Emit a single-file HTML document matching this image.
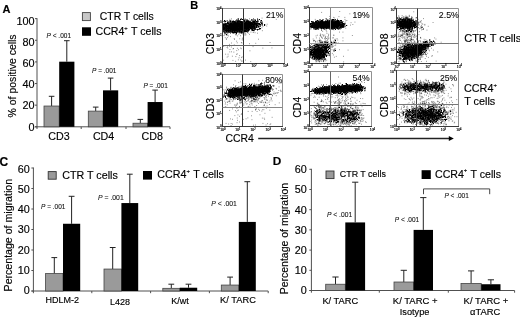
<!DOCTYPE html>
<html><head><meta charset="utf-8"><title>Figure</title>
<style>
html,body{margin:0;padding:0;background:#fff;}
body{width:520px;height:317px;overflow:hidden;}
svg{display:block;font-family:"Liberation Sans", Arial, Helvetica, sans-serif;filter:blur(0.35px);}
text{stroke:#000;stroke-width:0.15px;}
text.p{stroke-width:0.08px;}
path.dots{filter:blur(0.4px);}
</style></head><body>
<svg width="520" height="317" viewBox="0 0 520 317">
<rect x="0" y="0" width="520" height="317" fill="#fff"/>
<text x="2.6" y="12.9" font-size="11" text-anchor="start" font-weight="bold" font-style="normal" fill="#000">A</text>
<line x1="37" y1="18.150000000000006" x2="37" y2="127.3" stroke="#505050" stroke-width="1"/>
<line x1="35" y1="126.8" x2="170" y2="126.8" stroke="#505050" stroke-width="1"/>
<line x1="35" y1="126.8" x2="37" y2="126.8" stroke="#505050" stroke-width="1"/>
<text x="34.6" y="131.3" font-size="10.9" text-anchor="end" font-weight="normal" font-style="normal" fill="#000">0</text>
<line x1="35" y1="105.17" x2="37" y2="105.17" stroke="#505050" stroke-width="1"/>
<text x="34.6" y="109.4" font-size="10.9" text-anchor="end" font-weight="normal" font-style="normal" fill="#000">20</text>
<line x1="35" y1="83.54" x2="37" y2="83.54" stroke="#505050" stroke-width="1"/>
<text x="34.6" y="88.3" font-size="10.9" text-anchor="end" font-weight="normal" font-style="normal" fill="#000">40</text>
<line x1="35" y1="61.91" x2="37" y2="61.91" stroke="#505050" stroke-width="1"/>
<text x="34.6" y="66.6" font-size="10.9" text-anchor="end" font-weight="normal" font-style="normal" fill="#000">60</text>
<line x1="35" y1="40.28" x2="37" y2="40.28" stroke="#505050" stroke-width="1"/>
<text x="34.6" y="45.9" font-size="10.9" text-anchor="end" font-weight="normal" font-style="normal" fill="#000">80</text>
<line x1="35" y1="18.65" x2="37" y2="18.65" stroke="#505050" stroke-width="1"/>
<text x="34.6" y="24.5" font-size="10.9" text-anchor="end" font-weight="normal" font-style="normal" fill="#000">100</text>
<line x1="37" y1="126.8" x2="37" y2="129.0" stroke="#505050" stroke-width="1"/>
<line x1="81.2" y1="126.8" x2="81.2" y2="129.0" stroke="#505050" stroke-width="1"/>
<line x1="126" y1="126.8" x2="126" y2="129.0" stroke="#505050" stroke-width="1"/>
<line x1="170" y1="126.8" x2="170" y2="129.0" stroke="#505050" stroke-width="1"/>
<line x1="51.6" y1="96.3" x2="51.6" y2="106.0" stroke="#222" stroke-width="1"/>
<line x1="48.8" y1="96.3" x2="54.4" y2="96.3" stroke="#222" stroke-width="1"/>
<rect x="44.00" y="106.04" width="15.20" height="20.76" fill="#9a9a9a" stroke="#444" stroke-width="0.8"/>
<line x1="66.8" y1="40.7" x2="66.8" y2="61.7" stroke="#222" stroke-width="1"/>
<line x1="64.0" y1="40.7" x2="69.6" y2="40.7" stroke="#222" stroke-width="1"/>
<rect x="59.20" y="61.69" width="15.20" height="65.11" fill="#000"/>
<line x1="95.7" y1="107.1" x2="95.7" y2="111.1" stroke="#222" stroke-width="1"/>
<line x1="92.9" y1="107.1" x2="98.5" y2="107.1" stroke="#222" stroke-width="1"/>
<rect x="88.30" y="111.12" width="14.70" height="15.68" fill="#9a9a9a" stroke="#444" stroke-width="0.8"/>
<line x1="110.6" y1="78.1" x2="110.6" y2="90.4" stroke="#222" stroke-width="1"/>
<line x1="107.8" y1="78.1" x2="113.4" y2="78.1" stroke="#222" stroke-width="1"/>
<rect x="103.00" y="90.35" width="15.20" height="36.45" fill="#000"/>
<line x1="140.3" y1="119.4" x2="140.3" y2="123.2" stroke="#222" stroke-width="1"/>
<line x1="137.5" y1="119.4" x2="143.1" y2="119.4" stroke="#222" stroke-width="1"/>
<rect x="133.00" y="123.23" width="14.60" height="3.57" fill="#9a9a9a" stroke="#444" stroke-width="0.8"/>
<line x1="155.1" y1="90.1" x2="155.1" y2="102.0" stroke="#222" stroke-width="1"/>
<line x1="152.3" y1="90.1" x2="157.9" y2="90.1" stroke="#222" stroke-width="1"/>
<rect x="147.60" y="102.03" width="15.00" height="24.77" fill="#000"/>
<text x="58.9" y="139.9" font-size="10.7" text-anchor="middle" font-weight="normal" font-style="normal" fill="#000">CD3</text>
<text x="103.6" y="139.9" font-size="10.7" text-anchor="middle" font-weight="normal" font-style="normal" fill="#000">CD4</text>
<text x="152.3" y="139.9" font-size="10.7" text-anchor="middle" font-weight="normal" font-style="normal" fill="#000">CD8</text>
<text x="16.4" y="75.9" font-size="10.45" text-anchor="middle" font-weight="normal" font-style="normal" fill="#000" transform="rotate(-90 16.4 75.9)">% of positive cells</text>
<rect x="82.40" y="12.60" width="8.00" height="8.00" fill="#c8c8c8" stroke="#444" stroke-width="0.9"/>
<rect x="82.00" y="27.30" width="9.00" height="8.50" fill="#000"/>
<text x="99.8" y="20.2" font-size="10.4" text-anchor="start" font-weight="normal" font-style="normal" fill="#000">CTR T cells</text>
<text x="95.5" y="35.3" font-size="10.6" fill="#000">CCR4<tspan font-size="5.8" dy="-5.2">+</tspan><tspan dy="5.2" dx="0.6"> T cells</tspan></text>
<text class="p" x="46.6" y="38.2" font-size="6.5" text-anchor="start" fill="#111"><tspan font-style="italic">P</tspan> &lt; .001</text>
<text class="p" x="92" y="73.4" font-size="6.5" text-anchor="start" fill="#111"><tspan font-style="italic">P</tspan> = .001</text>
<text class="p" x="143.4" y="88.4" font-size="6.5" text-anchor="start" fill="#111"><tspan font-style="italic">P</tspan> = .001</text>
<text x="190.3" y="9.2" font-size="11" text-anchor="start" font-weight="bold" font-style="normal" fill="#000">B</text>
<path class="dots" d="M229.5 28h1M248 24.5h1M228.5 27h1M243.5 28.5h1M229.5 24h1M245.5 27h1M252 27.5h1M239 25.5h1M260.5 24h1M233 24h1M240.5 26.5h1M237 26h1M242 27.5h1M248.5 26h1M225 29h1M228 26.5h1M227.5 27h1M233 27h1M246.5 22.5h1M237 28h1M239 27h1M240.5 23.5h1M244 24h1M255 24h1M245 26h1M247.5 24h1M248 25.5h1M250 27h1M241 24h1M246 27h1M253 24.5h1M244 27h1M242 26.5h1M241 24.5h1M231.5 26h1M244.5 29.5h1M247.5 28h1M246 27.5h1M241 28h1M254 24.5h1M234 31.5h1M241.5 28.5h1M247 23h1M259.5 29h1M240.5 24h1M238.5 27h1M248.5 27.5h1M240 29.5h1M233.5 28.5h1M248.5 25h1M225 25h1M241.5 27.5h1M252.5 23h1M239.5 28h1M238.5 20.5h1M246 31.5h1M248 23.5h1M236 27h1M240.5 30h1M239 30.5h1M234 25.5h1M245.5 29h1M245 26.5h1M224.5 25.5h1M234.5 25.5h1M244.5 25h1M246 26h1M237 26.5h1M243 28h1M235.5 26h1M228.5 31h1M251.5 25h1M235.5 23.5h1M241 26.5h1M257.5 25.5h1M233 21h1M251 26h1M226.5 27.5h1M249 27h1M238 21h1M238.5 22.5h1M244.5 20.5h1M232 29.5h1M253 22.5h1M227 29h1M246.5 23.5h1M234 25h1M230 25.5h1M256.5 25h1M238.5 24h1M238.5 23h1M251.5 27.5h1M250.5 26h1M233.5 27h1M236.5 23.5h1M225.5 23.5h1M239.5 26.5h1M235.5 30h1M241 27.5h1M249.5 23.5h1M223.5 29h1M234 29.5h1M242.5 28.5h1M246 21h1M245.5 24h1M233.5 25.5h1M246 28h1M248 21.5h1M235 21h1M239 27.5h1M233 24.5h1M233.5 31h1M248.5 25.5h1M241.5 26.5h1M241.5 25.5h1M237 23.5h1M234.5 30.5h1M244 26h1M238 26.5h1M242.5 24.5h1M233.5 24.5h1M231.5 24h1M247 20h1M237.5 25h1M234.5 27h1M249 25.5h1M238.5 25h1M238.5 28.5h1M229 24.5h1M228 29.5h1M242.5 25.5h1M251.5 24h1M227 23.5h1M232 29h1M250 22.5h1M236.5 25h1M237 22h1M243.5 31h1M262 24h1M225.5 26h1M232 31.5h1M244.5 24h1M247.5 27h1M226.5 26h1M237.5 26.5h1M240.5 25.5h1M232 30.5h1M242.5 27h1M226.5 26.5h1M248.5 24.5h1M243 25.5h1M241.5 29h1M236.5 30h1M245.5 23h1M236.5 28.5h1M249.5 21h1M243.5 30.5h1M249.5 25h1M234.5 26h1M230 26h1M238 26h1M227.5 29.5h1M231 25.5h1M238.5 25.5h1M257.5 23.5h1M238.5 29h1M245.5 27.5h1M246.5 21h1M232.5 27h1M243.5 29h1M243.5 25.5h1M240 25.5h1M237 24.5h1M232.5 29.5h1M250 28h1M246.5 27.5h1M231 26.5h1M235 26.5h1M243 29h1M246.5 23h1M243.5 24.5h1M238.5 22h1M245.5 24.5h1M243 25h1M239.5 27.5h1M244 23.5h1M240.5 25h1M229.5 29h1M232 22h1M226 27h1M227 27h1M241 27h1M230.5 26h1M253 19h1M258.5 27h1M226 28h1M235.5 29h1M238.5 26h1M235 22h1M239 24h1M251 22.5h1M231.5 25h1M254.5 24.5h1M238.5 31.5h1M239 22h1M243 23.5h1M235 22.5h1M234.5 29h1M247.5 26h1M232 24h1M242 32h1M236 24.5h1M234 24h1M231.5 26.5h1M251.5 25.5h1M235.5 22.5h1M241.5 26h1M229.5 24.5h1M239.5 28.5h1M244.5 26.5h1M237 27h1M239.5 31.5h1M250 25h1M241 25h1M228.5 24.5h1M258 26.5h1M244.5 28h1M244.5 28.5h1M237.5 26h1M247.5 25h1M228.5 26.5h1M235 28h1M233.5 24h1M237 30h1M239 26.5h1M239.5 27h1M247 29h1M226 30.5h1M239.5 25.5h1M259.5 24.5h1M255.5 27.5h1M231 28h1M245.5 25.5h1M222.5 26.5h1M238 23.5h1M236.5 25.5h1M233 25h1M240.5 27h1M235.5 26.5h1M228 28h1M232 25.5h1M241.5 23h1M260 24.5h1M239 24.5h1M252.5 28.5h1M242 22.5h1M235.5 28h1M230 25h1M239.5 24.5h1M239.5 33h1M254 22.5h1M242.5 26h1M237 25.5h1M236.5 26h1M250 27.5h1M228.5 26h1M233 28.5h1M241.5 28h1M239 21.5h1M243.5 26.5h1M244 23h1M240.5 24.5h1M234 27.5h1M242.5 24h1M225.5 21h1M235 29h1M239 21h1M232.5 27.5h1M253.5 28h1M242.5 26.5h1M240 25h1M242.5 29.5h1M237.5 22.5h1M238.5 27.5h1M231.5 30h1M237 27.5h1M256.5 22h1M247 24.5h1M242 24h1M236 28.5h1M255.5 23h1M234.5 28.5h1M233 28h1M242.5 23h1M245 23h1M246 29.5h1M244.5 24.5h1M249.5 26h1M229.5 26h1M251 24.5h1M226 26h1M249.5 27h1M248 28.5h1M236 25h1M242 30h1M226 26.5h1M233.5 28h1M251.5 24.5h1M229.5 27h1M245 22.5h1M248.5 22h1M248 21h1M227 26.5h1M242.5 23.5h1M235.5 27h1M238 19h1M236 27.5h1M242 28.5h1M234 32.5h1M246 26.5h1M248.5 28h1M248 26.5h1M224 24.5h1M243.5 26h1M241 30h1M235 25.5h1M242 28h1M235.5 29.5h1M243.5 23.5h1M246 24.5h1M223 26h1M234 27h1M258.5 26.5h1M230 26.5h1M236 33.5h1M229.5 30h1M237 23h1M242 27h1M248 29h1M255 25h1M245.5 26.5h1M239 25h1M230.5 27h1M250 24.5h1M244 24.5h1M241.5 23.5h1M242 24.5h1M248 29.5h1M237 28.5h1M227 28h1M231.5 29.5h1M223 29h1M245.5 22.5h1M238 24.5h1M241.5 24.5h1M234.5 25h1M232.5 29h1M237.5 28.5h1M230 29h1M249.5 24.5h1M241.5 25h1M234 23h1M244.5 27h1M228 27h1M241 21.5h1M234 28h1M238.5 26.5h1M247 26h1M233 29.5h1M225 27h1M244.5 23h1M248 24h1M234 29h1M249.5 25.5h1M236 22h1M246 31h1M236 25.5h1M228.5 25.5h1M230.5 31.5h1M255.5 29.5h1M251.5 29.5h1M233.5 26h1M261 20.5h1M250.5 28.5h1M235.5 31.5h1M244.5 26h1M259 24.5h1M233 23h1M231.5 29h1M240 26h1M244.5 27.5h1M235 26h1M233 26.5h1M233 26h1M250.5 24.5h1M231.5 27h1M230.5 24.5h1M240.5 22h1M222.5 28.5h1M232 28h1M223.5 25h1M229.5 26.5h1M223.5 29.5h1M237 21.5h1M239.5 24h1M251.5 26.5h1M233.5 26.5h1M240 27h1M257.5 21.5h1M231.5 22.5h1M226.5 29h1M251.5 28h1M247 28h1M240 28h1M251.5 22.5h1M257 26h1M236 29h1M260 22h1M234.5 32h1M244 25h1M243.5 24h1M259 19.5h1M245.5 30.5h1M233 21.5h1M236.5 26.5h1M232 23h1M231 29.5h1M240.5 28h1M250.5 24h1M237.5 29.5h1M259.5 28.5h1M230 28h1M239.5 30.5h1M240 24.5h1M246.5 30.5h1M226.5 28h1M225.5 31h1M234.5 26.5h1M224 27h1M235.5 24h1M244.5 25.5h1M226.5 28.5h1M243 22h1M240.5 29h1M229 25h1M224.5 25h1M249 26h1M231.5 28h1M238.5 30.5h1M230.5 25.5h1M244 27.5h1M246.5 26.5h1M232.5 24.5h1M238.5 29.5h1M252.5 27.5h1M242.5 27.5h1M246.5 29h1M246.5 22h1M247.5 26.5h1M242 26h1M226 27.5h1M245.5 26h1M236.5 27h1M234 26h1M222.5 29h1M234.5 28h1M251 25h1M238 25.5h1M232.5 30h1M247 23.5h1M246.5 24h1M227.5 30h1M229 30h1M241 28.5h1M244 28.5h1M236.5 29h1M252 25h1M243 24.5h1M225 30.5h1M236.5 27.5h1M246.5 25h1M241 22.5h1M241 26h1M254.5 27.5h1M233 30.5h1M235 27.5h1M237.5 23h1M243 27.5h1M226 25.5h1M246.5 25.5h1M231 22h1M242 29.5h1M229.5 21.5h1M247 26.5h1M232 28.5h1M235 28.5h1M246 28.5h1M248.5 26.5h1M231.5 25.5h1M236.5 28h1M238.5 30h1M243 28.5h1M224.5 23.5h1M253 24h1M231.5 24.5h1M232.5 28h1M237 31h1M244 25.5h1M237 25h1M250 25.5h1M225 25.5h1M247 25.5h1M230 31h1M234.5 30h1M235.5 23h1M254.5 24h1M229 27h1M239.5 23h1M237.5 27.5h1M241 23.5h1M239.5 29h1M242 23.5h1M238.5 24.5h1M238 24h1M248 22h1M236.5 23h1M247 22h1M245 27.5h1M240 26.5h1M223 24.5h1M236.5 24h1M252 26.5h1M244.5 21.5h1M238 28.5h1M247.5 25.5h1M236 23.5h1M241.5 27h1M245.5 25h1M235 25h1M241 29h1M245 24.5h1M244 26.5h1M244.5 30.5h1M231 27h1M249.5 26.5h1M236.5 32h1M257 19h1M231 30h1M225 26.5h1M246 22h1M231.5 23h1M239 23h1M243 27h1M223.5 26h1M233.5 30h1M258.5 29.5h1M223 30h1M238 25h1M238 30h1M242.5 28h1M251.5 28.5h1M235.5 24.5h1M231 25h1M233.5 25h1M230.5 25h1M222.5 29.5h1M237.5 19h1M226 30h1M257 30h1M246 23h1M254 23.5h1M248.5 23h1M230 27.5h1M240.5 30.5h1M248 22.5h1M222.5 26h1M250 22h1M243.5 27h1M226.5 23.5h1M242.5 29h1M249 23h1M243.5 29.5h1M236 28h1M246.5 28.5h1M226 29h1M223 27.5h1M240.5 29.5h1M236 31h1M236 30h1M233 27.5h1M246.5 21.5h1M254 28h1M230.5 29.5h1M255.5 21.5h1M232 27h1M234.5 23.5h1M261.5 23.5h1M244.5 33h1M239.5 25h1M230 24h1M238 22h1M256 25.5h1M256 23.5h1M250.5 28h1M237.5 27h1M231 26h1M242 25h1M242.5 25h1M230 28.5h1M253.5 20.5h1M245 28.5h1M233 32.5h1M229.5 23h1M253.5 28.5h1M230 23h1M254.5 26.5h1M249 26.5h1M239.5 23.5h1M248 26h1M240.5 26h1M223 24h1M243 26.5h1M245 24h1M260 28.5h1M243 24h1M233.5 30.5h1M242.5 22.5h1M252.5 26.5h1M250.5 26.5h1M223 25.5h1M252 23.5h1M239 26h1M229.5 20.5h1M231.5 27.5h1M251 28.5h1M234.5 24h1M232 32.5h1M223.5 25.5h1M224.5 26h1M251.5 29h1M228.5 29.5h1M243.5 28h1M237.5 24.5h1M253.5 27h1M230 29.5h1M229 28.5h1M247 24h1M234 31h1M252 26h1M240.5 23h1M254.5 22h1M236.5 24.5h1M252 24h1M235.5 31h1M238 28h1M238.5 28h1M238 29h1M238.5 23.5h1M229.5 22.5h1M258 27h1M230 30h1M232.5 26h1M254.5 29h1M236 26h1M250 26h1M248.5 22.5h1M232 26.5h1M234 26.5h1M237 24h1M233 30h1M260.5 22.5h1M251.5 21h1M231 24.5h1M222.5 27h1M253.5 21h1M229 26.5h1M245.5 19.5h1M235.5 28.5h1M253.5 25.5h1M239 29.5h1M232.5 26.5h1M241.5 31h1M239 29h1M239 31h1M238 23h1M242 23h1M222.5 31.5h1M261 21h1M228.5 25h1M224.5 28h1M243.5 25h1M244 30.5h1M258 23.5h1M229.5 31.5h1M247.5 28.5h1M249.5 23h1M248 25h1M237 32h1M238 27h1M247 27.5h1M243.5 27.5h1M229 28h1M245 23.5h1M247 31h1M246 29h1M242.5 30h1M246.5 26h1M228.5 27.5h1M247.5 23.5h1M230.5 28.5h1M254.5 23.5h1M246 25h1M233.5 29h1M228 27.5h1M246 25.5h1M239 31.5h1M230 27h1M257.5 24h1M234 22.5h1M240.5 31.5h1M231.5 30.5h1M225.5 24h1M251 27h1M257.5 29.5h1M241 19h1M249 22.5h1M243.5 21h1M231.5 23.5h1M244 29h1M232 21.5h1M253.5 24.5h1M255.5 26h1M240 28.5h1M228 28.5h1M227.5 22.5h1M245.5 28h1M223 28.5h1M227.5 25.5h1M235 23.5h1M236 26.5h1M230 33h1M242.5 30.5h1M237.5 24h1M234 28.5h1M235 30.5h1M230.5 27.5h1M246 24h1M227 30.5h1M236.5 20.5h1M233 23.5h1M228.5 28.5h1M241.5 30h1M223.5 32h1M245.5 31h1M231 29h1M236.5 22.5h1M239.5 30h1M238 29.5h1M245.5 28.5h1M249 23.5h1M236 30.5h1M232.5 25h1M223 26.5h1M222.5 25h1M235 23h1M253 21.5h1M243.5 22h1M225.5 28.5h1M229.5 25.5h1M241.5 29.5h1M252 30.5h1M225.5 29h1M250 23.5h1M252 22h1M240.5 28.5h1M254 27h1M229 26h1M225.5 32.5h1M226.5 24.5h1M233.5 23.5h1M237 29.5h1M250 23h1M236 24h1M244 21h1M243 23h1M234.5 23h1M231.5 28.5h1M253 23h1M246 23.5h1M243 26h1M227 28.5h1M252 27h1M229 32h1M235.5 25h1M254 26h1M224 28.5h1M232 26h1M223 28h1M250.5 23.5h1M237.5 23.5h1M224.5 24.5h1M225.5 27h1M254 27.5h1M224 28h1M240.5 22.5h1M254 26.5h1M235.5 25.5h1M239.5 22h1M234 21.5h1M257 29.5h1M238.5 21.5h1M256.5 23.5h1M255.5 25h1M228 22h1M245 28h1M234.5 29.5h1M254.5 19.5h1M239 28.5h1M235.5 34h1M237.5 25.5h1M233.5 27.5h1M239 23.5h1M244 20h1M230 21.5h1M224 26h1M227.5 24.5h1M233.5 23h1M225.5 25h1M230 21h1M236.5 30.5h1M230 24.5h1M254 25h1M237.5 29h1M228 30.5h1M248.5 29h1M234.5 24.5h1M251.5 23h1M232 25h1M256 27.5h1M234 30h1M255 23.5h1M235 24.5h1M250.5 25h1M248.5 28.5h1M241 23h1M255 20.5h1M232.5 22.5h1M230.5 29h1M247 28.5h1M242 31h1M230 23.5h1M226.5 32h1M228 31h1M250 28.5h1M248.5 27h1M250.5 25.5h1M256 21.5h1M240 22.5h1M225.5 28h1M243.5 21.5h1M264 24.5h1M240 21.5h1M245 25h1M237 22.5h1M227.5 28h1M247 27h1M246.5 28h1M241 22h1M246.5 20.5h1M245 25.5h1M246 22.5h1M244.5 31h1M241 25.5h1M240 30h1M231 28.5h1M224.5 26.5h1M225 24h1M225.5 31.5h1M233.5 31.5h1M238 21.5h1M249 24.5h1M254 21.5h1M257.5 23h1M243 29.5h1M261 23.5h1M227.5 26.5h1M253 30.5h1M259 23.5h1M253.5 23h1M222.5 28h1M234 23.5h1M235 24h1M234.5 27.5h1M228.5 29h1M224.5 33.5h1M227.5 32.5h1M237 29h1M245 22h1M239.5 21.5h1M253.5 25h1M254 30h1M250.5 27h1M239 28h1M236 29.5h1M260.5 20.5h1M249 27.5h1M255.5 27h1M260.5 25h1M240 19.5h1M226 31.5h1M233.5 22.5h1M251.5 30.5h1M255.5 22.5h1M227.5 31h1M256 26.5h1M250.5 27.5h1M253.5 29h1M249.5 21.5h1M224 32h1M256 26h1M247.5 22h1M224.5 29.5h1M253.5 21.5h1M232.5 24h1M251 23.5h1M228 32h1M251 28h1M253.5 23.5h1M251.5 19.5h1M224.5 24h1M232 24.5h1M254.5 21.5h1M236.5 29.5h1M230.5 26.5h1M222.5 24h1M247.5 31h1M249 25h1M251 25.5h1M222.5 27.5h1M253.5 27.5h1M262 25h1M224 29h1M247.5 27.5h1M229.5 27.5h1M230.5 32h1M251 26.5h1M244 21.5h1M241.5 32.5h1M239 30h1M238 31h1M232 27.5h1M252.5 24h1M224 27.5h1M240 27.5h1M228 25h1M235.5 32h1M240.5 27.5h1M257.5 26h1M253 25.5h1M257 20h1M234 22h1M230.5 24h1M241.5 21.5h1M236 20h1M231 27.5h1M257.5 21h1M241.5 24h1M256.5 25.5h1M251 24h1M224.5 27.5h1M222.5 30h1M243.5 30h1M228.5 23.5h1M233 29h1M225 30h1M230.5 30.5h1M240.5 32h1M244 28h1M222.5 30.5h1M247.5 24.5h1M254.5 26h1M228 30h1M256.5 27.5h1M227 26h1M245 29h1M260 26h1M230.5 28h1M242.5 19.5h1M227 25.5h1M229.5 22h1M248 31h1M235 27h1M239.5 32h1M251.5 27h1M249.5 28h1M246.5 27h1M239.5 26h1M257 24h1M237 31.5h1M224.5 23h1M253 26.5h1M235 31h1M256.5 23h1M254.5 28.5h1M232.5 25.5h1M228 31.5h1M244.5 23.5h1M249.5 22.5h1M255 23h1M243.5 23h1M229.5 25h1M231.5 21h1M256 24.5h1M232.5 23h1M247.5 20.5h1M225 24.5h1M252.5 24.5h1M233 25.5h1M241.5 22h1M227 22.5h1M227.5 23h1M229 30.5h1M257 22h1M228 26h1M226 29.5h1M229 27.5h1M251 29h1M247 30h1M252.5 25h1M223.5 27.5h1M254.5 25h1M241 33h1M245 31.5h1M227 30h1M247 25h1M243 22.5h1M234 30.5h1M243.5 20.5h1M257 25.5h1M228 23.5h1M240.5 19h1M229.5 32h1M234 24.5h1M224.5 30h1M235.5 30.5h1M248 27.5h1M225.5 24.5h1M223.5 31.5h1M241 29.5h1M227 31h1M225 28h1M224.5 32.5h1M254 29h1M257.5 24.5h1M237.5 20.5h1M257 21h1M256 25h1M249 30h1M243 30.5h1M235 29.5h1M248 27h1M252 24.5h1M230.5 30h1M223 29.5h1M243 21.5h1M232.5 28.5h1M239.5 29.5h1M229 25.5h1M237.5 31.5h1M249 22h1M247.5 30.5h1M227 23h1M229.5 29.5h1M237.5 28h1M247.5 23h1M231 23.5h1M240 21h1M242 25.5h1M229 24h1M252 29.5h1M240 32h1M244 31.5h1M245 27h1M252.5 22.5h1M242 19.5h1M229.5 31h1M242 29h1M226 24h1M249 24h1M232.5 33h1M251.5 26h1M254.5 28h1M252 21h1M225.5 26.5h1M237.5 20h1M231.5 31.5h1M259 25h1M226 31h1M247 21.5h1M261.5 22.5h1M249 29.5h1M227.5 30.5h1M252.5 28h1M224 30h1M232 30h1M247.5 22.5h1M224.5 28.5h1M249.5 29h1M224.5 30.5h1M230 30.5h1M248 30.5h1M244.5 29h1M242 22h1M241.5 22.5h1M226.5 27h1M248.5 21.5h1M253 29h1M245.5 29.5h1M250 24h1M254 24h1M244.5 22.5h1M235.5 21.5h1M225.5 27.5h1M231 24h1M238.5 32.5h1M246.5 29.5h1M245 30.5h1M230.5 31h1M241 32.5h1M246 21.5h1M259 28.5h1M241 31.5h1M226.5 33h1M224.5 29h1M264 25.5h1M236 32.5h1M237.5 30.5h1M258.5 24.5h1M241.5 32h1M226 34.5h1M235 30h1M232.5 31.5h1M251 20h1M227 21h1M247.5 29.5h1M227.5 31.5h1M249 28h1M240 23h1M223.5 21.5h1M243.5 32h1M247.5 21.5h1M224 21h1M224.5 31h1M224 20.5h1M230.5 23.5h1M231 32h1M252 28h1M247 32h1M227.5 29h1M255 29h1M253 27h1M228.5 28h1M225 21.5h1M235 32.5h1M237.5 30h1M233.5 33h1" stroke="#000" stroke-width="1" fill="none"/>
<path class="dots" d="M237.9 59.8h.9M226.7 57.1h.9M236.9 48.3h.9M231.9 56.2h.9M232.5 60.4h.9M241.5 43.0h.9M233.8 44.9h.9M241.0 57.6h.9M231.0 43.0h.9M229.3 51.9h.9M236.3 50.6h.9M233.4 52.1h.9M223.1 46.4h.9M236.9 53.9h.9M239.3 38.8h.9M241.5 61.1h.9M235.4 56.6h.9M226.9 37.6h.9M227.3 48.0h.9M240.9 42.5h.9M241.7 56.9h.9M223.9 32.9h.9M243.0 47.0h.9M238.6 57.8h.9M229.1 32.5h.9M240.3 59.9h.9M231.0 51.8h.9M223.2 60.2h.9M235.2 61.3h.9M236.8 42.8h.9M226.6 47.4h.9M240.3 48.0h.9M233.8 38.6h.9M225.9 39.1h.9M229.1 46.2h.9M241.8 40.1h.9M227.6 54.2h.9M241.8 39.1h.9M229.0 44.4h.9M224.2 34.8h.9M234.0 39.4h.9M227.7 56.2h.9M232.6 48.9h.9M236.1 54.3h.9M241.4 61.1h.9M225.2 54.2h.9M223.5 35.6h.9M228.1 35.9h.9M226.0 39.0h.9M239.2 55.6h.9M233.0 48.5h.9M238.0 49.7h.9M224.5 45.8h.9M227.1 46.1h.9M242.6 37.9h.9M229.5 49.5h.9M236.2 41.2h.9M230.9 47.0h.9M241.6 33.5h.9M240.8 48.7h.9M269.6 42.5h.9M261.9 30.7h.9M249.5 50.8h.9M252.6 46.6h.9M271.5 47.9h.9M262.4 48.1h.9M250.3 61.6h.9M254.0 30.8h.9M255.3 43.3h.9M249.0 43.7h.9M245.1 60.1h.9M258.1 39.2h.9M225.8 31.4h.9M224.8 37.7h.9M237.3 26.9h.9M242.5 38.3h.9M250.5 32.1h.9M242.3 33.9h.9M247.8 33.1h.9M245.2 29.0h.9M230.8 28.7h.9M234.7 28.0h.9M237.4 30.8h.9M224.9 34.0h.9M245.3 35.1h.9M238.9 32.1h.9M234.7 26.7h.9M252.0 26.3h.9M229.0 28.9h.9M227.5 33.7h.9M230.2 30.8h.9M239.0 28.2h.9M227.2 34.9h.9M232.1 25.6h.9M241.0 27.2h.9M236.0 33.1h.9M238.4 34.2h.9M232.8 32.9h.9M230.1 36.6h.9M235.6 35.1h.9M232.4 32.0h.9M240.0 35.7h.9M233.0 22.0h.9M237.2 35.9h.9M246.4 32.0h.9M244.7 18.6h.9M232.8 30.5h.9M252.8 32.0h.9M257.0 33.2h.9M266.7 24.2h.9M260.0 26.3h.9M226.4 35.5h.9M245.4 34.2h.9M264.9 24.9h.9M266.3 26.0h.9M262.1 21.7h.9M261.5 27.8h.9M231.0 18.9h.9M258.1 19.9h.9M249.1 18.8h.9M275.8 19.3h.9M262.5 26.4h.9M235.6 34.2h.9M249.0 34.4h.9M229.4 19.3h.9M261.6 18.1h.9M244.2 34.9h.9M252.8 32.4h.9M254.6 32.7h.9" stroke="#000" stroke-width="0.9" stroke-opacity="0.5" fill="none"/>
<line x1="222.5" y1="8.5" x2="284.5" y2="8.5" stroke="#909090" stroke-width="1"/>
<line x1="284.5" y1="8.5" x2="284.5" y2="63.5" stroke="#909090" stroke-width="1"/>
<line x1="222.5" y1="8.0" x2="222.5" y2="64.0" stroke="#3a3a3a" stroke-width="1"/>
<line x1="222.5" y1="63.5" x2="285.0" y2="63.5" stroke="#3a3a3a" stroke-width="1"/>
<line x1="243.5" y1="8.5" x2="243.5" y2="63.5" stroke="#333" stroke-width="1"/>
<line x1="222.5" y1="45.5" x2="284.5" y2="45.5" stroke="#666" stroke-width="1"/>
<text x="220.2" y="67.4" font-size="3.4" fill="#000">10<tspan font-size="2.6" dy="-1.2">0</tspan></text>
<line x1="220.9" y1="63.1" x2="222.5" y2="63.1" stroke="#444" stroke-width="0.6"/>
<text x="216.2" y="64.8" font-size="3.4" fill="#000">10<tspan font-size="2.6" dy="-1.2">0</tspan></text>
<text x="235.8" y="67.4" font-size="3.4" fill="#000">10<tspan font-size="2.6" dy="-1.2">1</tspan></text>
<line x1="220.9" y1="49.4" x2="222.5" y2="49.4" stroke="#444" stroke-width="0.6"/>
<text x="216.2" y="51.1" font-size="3.4" fill="#000">10<tspan font-size="2.6" dy="-1.2">1</tspan></text>
<text x="251.5" y="67.4" font-size="3.4" fill="#000">10<tspan font-size="2.6" dy="-1.2">2</tspan></text>
<line x1="220.9" y1="35.7" x2="222.5" y2="35.7" stroke="#444" stroke-width="0.6"/>
<text x="216.2" y="37.4" font-size="3.4" fill="#000">10<tspan font-size="2.6" dy="-1.2">2</tspan></text>
<text x="267.2" y="67.4" font-size="3.4" fill="#000">10<tspan font-size="2.6" dy="-1.2">3</tspan></text>
<line x1="220.9" y1="22.0" x2="222.5" y2="22.0" stroke="#444" stroke-width="0.6"/>
<text x="216.2" y="23.7" font-size="3.4" fill="#000">10<tspan font-size="2.6" dy="-1.2">3</tspan></text>
<text x="282.9" y="67.4" font-size="3.4" fill="#000">10<tspan font-size="2.6" dy="-1.2">4</tspan></text>
<line x1="220.9" y1="8.3" x2="222.5" y2="8.3" stroke="#444" stroke-width="0.6"/>
<text x="216.2" y="10.0" font-size="3.4" fill="#000">10<tspan font-size="2.6" dy="-1.2">4</tspan></text>
<text x="283.3" y="18.0" font-size="8.6" text-anchor="end" font-weight="normal" font-style="normal" fill="#000" class="p">21%</text>
<text x="213.8" y="43.7" font-size="10.5" text-anchor="middle" font-weight="normal" font-style="normal" fill="#000" transform="rotate(-90 213.8 43.7)">CD3</text>
<path class="dots" d="M246.5 91.5h1M235.5 92.5h1M229.5 95h1M239 90.5h1M250 89.5h1M262.5 88.5h1M253.5 92.5h1M252.5 91.5h1M250.5 90.5h1M250.5 88.5h1M257 91h1M259 89h1M254 89.5h1M237.5 93.5h1M268 89.5h1M238.5 89.5h1M243.5 93.5h1M256 88h1M255.5 91h1M263.5 91.5h1M270 88.5h1M263.5 93h1M262 94h1M263.5 87.5h1M234.5 95.5h1M234 95.5h1M259.5 91.5h1M258.5 90h1M243 93h1M252.5 89.5h1M256 89h1M249 91.5h1M248 88h1M266 88.5h1M258 92.5h1M266 90h1M230.5 91h1M252 93h1M240 94h1M270.5 87.5h1M257.5 90.5h1M248.5 90.5h1M230 92.5h1M260 91h1M262 89.5h1M258.5 93h1M247.5 91.5h1M244 94h1M258 89.5h1M261.5 91.5h1M249.5 87h1M240.5 92h1M265.5 91.5h1M242 93.5h1M257 89.5h1M253.5 88.5h1M230.5 92h1M248 90.5h1M251 89.5h1M249 92h1M241.5 91h1M251 87.5h1M256.5 92h1M245.5 93h1M230 95.5h1M241.5 91.5h1M233 93.5h1M262.5 87.5h1M237 92.5h1M247 91.5h1M242 91.5h1M245.5 91.5h1M240 91h1M244.5 91.5h1M241.5 92.5h1M248.5 93.5h1M239 92.5h1M260.5 90.5h1M247 89h1M246.5 91h1M264 88h1M262.5 91.5h1M239 91.5h1M250 91.5h1M234.5 90.5h1M248 90h1M234 94.5h1M255 91h1M258.5 92h1M253.5 90h1M240 90.5h1M250 92.5h1M264.5 90h1M248.5 89h1M255 88h1M234 92h1M225 93.5h1M247.5 88.5h1M226 92h1M253 94.5h1M258 88.5h1M249.5 91.5h1M242 91h1M266 91h1M251.5 93.5h1M232 92h1M264.5 87h1M259 92.5h1M232 89.5h1M254.5 90h1M264 90h1M232.5 91.5h1M261.5 90h1M229 95h1M247.5 91h1M231 91.5h1M259 88.5h1M258 91.5h1M254 90h1M237.5 91h1M242 98h1M243.5 92h1M264.5 91.5h1M238.5 92.5h1M244.5 91h1M242 90.5h1M261.5 89h1M231.5 89.5h1M259 89.5h1M253.5 89.5h1M259.5 92h1M258 87h1M263 91.5h1M248.5 91.5h1M245 91h1M264.5 88h1M264.5 89.5h1M245.5 94.5h1M249 90h1M261.5 89.5h1M244 96h1M253.5 91h1M236.5 93h1M257.5 91.5h1M231.5 97h1M246 92.5h1M235 95.5h1M252 94.5h1M261 95.5h1M237.5 94.5h1M249 90.5h1M259 92h1M256 89.5h1M241.5 92h1M250 90.5h1M244.5 93h1M260.5 91h1M262.5 92h1M257 90h1M251 93.5h1M260.5 87h1M255 89.5h1M232.5 93h1M265.5 90h1M258.5 89h1M263 91h1M243 88h1M229.5 92h1M265 88.5h1M233.5 92.5h1M244 91.5h1M236.5 90.5h1M262.5 92.5h1M249.5 91h1M235.5 94h1M245 90h1M233 90h1M245 93h1M253.5 91.5h1M240 89h1M251 92.5h1M234 92.5h1M233 94.5h1M250 92h1M268 88.5h1M253 90.5h1M254.5 91h1M263 90h1M261.5 91h1M265.5 89h1M232 97h1M250.5 91.5h1M268.5 89h1M243 90.5h1M249 89h1M236 90h1M243 91.5h1M256.5 91.5h1M256 95.5h1M241.5 90.5h1M240.5 89h1M249.5 92h1M251 90h1M239 94h1M238.5 91.5h1M246.5 90h1M233 95.5h1M239.5 92h1M242.5 93h1M254.5 94.5h1M252 92h1M242 93h1M258 89h1M236.5 91h1M251 91h1M246.5 92.5h1M240.5 93.5h1M241 91h1M242 90h1M236.5 91.5h1M257.5 90h1M258.5 88.5h1M265.5 91h1M263 89h1M243.5 90h1M256 87.5h1M259 93h1M259.5 89h1M254 93h1M238.5 91h1M249 91h1M234.5 89.5h1M262 92.5h1M235.5 95.5h1M235 92.5h1M240 93h1M232 94h1M232 93.5h1M259 91.5h1M232.5 88h1M257.5 91h1M236.5 92h1M259 86.5h1M244 92.5h1M251.5 91h1M247.5 89h1M238.5 93h1M256 91.5h1M247.5 94.5h1M234 91h1M263 88.5h1M233.5 91h1M268.5 88h1M262 88h1M243.5 90.5h1M231.5 91h1M234.5 91.5h1M238 93.5h1M249 92.5h1M265 89.5h1M256.5 89.5h1M265 88h1M250.5 92.5h1M250 88.5h1M230 94h1M264.5 88.5h1M246.5 89h1M236 91.5h1M228.5 91h1M254 92h1M244.5 94h1M256.5 91h1M264 88.5h1M254.5 89.5h1M249.5 92.5h1M238.5 93.5h1M247 88.5h1M255 90h1M236 92.5h1M232.5 95h1M240 91.5h1M242.5 88.5h1M229.5 94.5h1M231 95.5h1M261.5 88.5h1M244 86.5h1M246 89.5h1M239.5 91.5h1M247.5 90h1M245 93.5h1M257 88h1M264.5 90.5h1M255.5 89h1M262.5 89.5h1M254 93.5h1M260 89h1M266 87h1M230 90h1M240.5 90.5h1M236.5 94.5h1M230 90.5h1M235 96h1M231 89.5h1M253 93.5h1M262 89h1M256.5 88h1M254 90.5h1M248 92.5h1M255 89h1M236 93h1M235 94h1M267.5 90.5h1M233.5 92h1M232.5 92.5h1M253.5 90.5h1M266.5 87h1M264 90.5h1M248.5 90h1M233.5 89h1M245 88.5h1M246 89h1M235 91.5h1M242.5 92h1M266.5 90h1M243.5 91.5h1M234.5 92.5h1M264 87h1M253 92h1M245.5 89.5h1M252.5 93h1M236 94.5h1M264 91h1M260.5 90h1M237.5 92.5h1M260.5 91.5h1M267 90h1M243 89h1M269.5 88.5h1M263.5 89h1M248.5 95.5h1M262 91.5h1M232 92.5h1M265.5 87.5h1M247 90.5h1M242 92h1M251 91.5h1M250 93.5h1M241 89.5h1M228 96h1M264.5 87.5h1M263 90.5h1M234 93.5h1M258 91h1M247 93.5h1M238 90h1M240.5 94.5h1M244 92h1M252.5 92h1M232.5 90h1M229 90.5h1M237 92h1M236 92h1M257 89h1M245 92.5h1M257 90.5h1M241.5 94h1M245 95h1M240 94.5h1M242 92.5h1M241 90.5h1M262 87.5h1M243.5 93h1M264.5 91h1M245 96h1M262.5 91h1M254.5 92.5h1M247 91h1M266 88h1M247 92.5h1M231 90h1M266.5 90.5h1M235.5 94.5h1M257.5 94.5h1M245 91.5h1M261 87h1M233.5 94h1M248.5 95h1M236 93.5h1M241 90h1M257.5 93h1M265 92h1M263 93.5h1M266.5 88h1M228.5 91.5h1M242.5 91h1M250 94h1M252.5 94.5h1M242 94h1M250 87.5h1M236 91h1M244.5 92.5h1M248.5 91h1M260.5 88.5h1M235 94.5h1M229 91.5h1M238 92.5h1M249 94.5h1M238 92h1M249.5 89h1M260 90h1M238 94.5h1M257 88.5h1M260 86h1M262 91h1M260 89.5h1M239 91h1M261 91.5h1M257.5 88h1M254 91h1M226 91h1M233.5 90h1M258 90.5h1M236 90.5h1M254 89h1M252.5 91h1M244.5 89.5h1M265 86h1M246.5 94h1M238 89.5h1M230.5 94h1M231.5 93h1M265 90.5h1M239 93h1M254.5 95.5h1M241.5 90h1M229.5 93h1M259.5 90.5h1M241.5 95.5h1M258.5 91.5h1M250.5 93h1M234.5 93h1M255 90.5h1M268 88h1M235.5 89.5h1M264 89.5h1M241.5 89h1M262 90.5h1M267 89h1M236.5 90h1M231 92.5h1M235.5 90h1M229.5 91h1M270 87h1M263 87.5h1M261.5 85.5h1M243.5 88h1M251.5 90h1M255 88.5h1M245.5 90.5h1M242.5 92.5h1M240 89.5h1M246.5 93h1M241.5 95h1M269.5 91.5h1M260.5 89.5h1M254.5 88.5h1M265.5 88.5h1M264.5 89h1M250.5 92h1M230 94.5h1M261.5 90.5h1M265 91.5h1M256.5 93h1M263.5 86h1M240.5 88h1M249 87.5h1M233 96h1M248 93h1M233 92h1M257.5 93.5h1M252 94h1M248 92h1M267 89.5h1M244.5 92h1M253 90h1M248 87.5h1M248 94h1M261 87.5h1M256.5 90.5h1M241 92.5h1M236.5 93.5h1M263 89.5h1M241 93h1M252.5 90.5h1M243.5 94h1M265.5 90.5h1M246 92h1M248.5 93h1M238.5 95h1M263 88h1M252.5 92.5h1M235 91h1M237.5 92h1M251 92h1M252.5 89h1M252 93.5h1M268 92h1M260 90.5h1M257 93.5h1M249 88h1M246 90h1M229 93h1M237.5 91.5h1M233.5 94.5h1M228.5 94.5h1M231 93.5h1M258 95.5h1M236.5 95h1M235.5 90.5h1M256 92.5h1M234.5 94h1M254 87.5h1M242.5 94h1M248.5 89.5h1M249.5 94h1M227 94h1M230 97.5h1M240 88.5h1M228 93.5h1M229 92h1M268 89h1M245.5 86.5h1M243.5 89h1M231 94h1M267 88.5h1M255.5 89.5h1M256 93h1M257 92h1M267 87h1M247 92h1M239 97h1M234.5 91h1M237 94h1M266 90.5h1M236 94h1M250.5 91h1M243 90h1M263.5 91h1M253 88.5h1M240 93.5h1M256.5 94.5h1M256 94.5h1M252 88.5h1M258 92h1M256 91h1M228.5 92.5h1M258 87.5h1M247 94.5h1M238.5 94h1M230 93h1M237 90.5h1M230.5 95h1M269.5 90h1M267.5 88h1M233 93h1M259 91h1M251.5 87.5h1M228.5 97h1M244.5 95.5h1M244 91h1M237.5 96.5h1M242 89.5h1M237.5 93h1M261.5 88h1M240 90h1M243 93.5h1M254 91.5h1M243 91h1M252 91h1M245.5 88.5h1M266.5 91.5h1M266.5 85.5h1M239 89.5h1M258 88h1M251.5 94h1M244.5 88h1M246 93.5h1M262 88.5h1M233.5 93h1M232.5 93.5h1M229 92.5h1M257.5 89h1M236.5 89h1M255 95.5h1M244 89h1M268.5 85.5h1M230 93.5h1M244.5 93.5h1M259 90h1M241 94h1M260.5 87.5h1M266 89.5h1M257.5 87h1M230.5 93.5h1M246.5 88h1M257 91.5h1M231.5 90.5h1M261.5 87.5h1M237.5 96h1M249.5 90.5h1M230 91h1M238 90.5h1M261.5 93h1M241.5 93.5h1M270.5 88.5h1M256.5 88.5h1M230 96.5h1M235.5 91.5h1M265.5 92h1M267 93h1M242.5 88h1M237.5 94h1M257 92.5h1M234.5 96h1M253 91h1M249 93h1M241.5 88h1M232.5 92h1M262.5 93h1M239 95h1M233.5 93.5h1M226.5 94h1M262.5 90h1M239 95.5h1M229 94.5h1M269 90h1M231 97h1M251.5 90.5h1M239 93.5h1M267 92.5h1M235 93.5h1M259.5 88h1M242.5 94.5h1M243.5 91h1M233 91.5h1M239.5 90h1M242.5 90.5h1M260.5 92.5h1M260 88.5h1M263.5 90.5h1M263.5 88.5h1M245 90.5h1M229 95.5h1M231 93h1M235 93h1M232.5 95.5h1M240 92.5h1M259.5 90h1M254 87h1M268 91h1M232.5 94.5h1M247.5 93.5h1M267.5 89.5h1M236.5 97h1M259 87.5h1M269.5 89h1M259 90.5h1M250 90h1M241 88.5h1M241 92h1M234 95h1M255.5 90h1M249.5 90h1M259 94h1M232 94.5h1M245 94.5h1M237 91h1M266.5 89.5h1M235.5 89h1M266.5 88.5h1M266.5 91h1M265 87.5h1M246 88h1M238 91.5h1M255.5 87.5h1M231.5 94h1M248.5 94.5h1M245 89h1M231.5 94.5h1M260 86.5h1M229 89.5h1M240.5 90h1M253 91.5h1M270.5 89h1M241 96.5h1M243.5 92.5h1M269.5 89.5h1M231.5 92h1M229.5 99h1M246 90.5h1M237 96h1M255.5 92.5h1M254.5 87.5h1M236.5 94h1M254 95h1M232 93h1M263.5 90h1M258.5 91h1M247 93h1M231.5 96h1M234 94h1M243 92h1M250 91h1M237 93.5h1M239 94.5h1M243.5 95h1M239.5 93h1M250.5 94h1M264.5 93.5h1M234 91.5h1M256.5 90h1M244.5 90h1M242 95h1M231.5 91.5h1M249.5 88h1M255.5 91.5h1M260 91.5h1M239.5 94h1M241 94.5h1M232 91.5h1M244.5 90.5h1M252 92.5h1M242.5 89.5h1M263 92h1M268.5 90h1M258 94h1M265.5 87h1M244 88h1M240.5 93h1M261 90h1M267 91h1M246 94.5h1M251.5 89.5h1M260.5 88h1M255 92h1M237 93h1M246.5 86.5h1M253 92.5h1M258.5 90.5h1M252 95h1M244 95h1M260.5 89h1M266.5 92h1M246 95h1M253.5 89h1M231.5 92.5h1M252.5 88h1M259.5 91h1M234 90h1M264.5 93h1M227.5 90.5h1M265.5 86h1M253 89.5h1M247.5 90.5h1M255.5 90.5h1M255.5 92h1M251.5 92.5h1M261 88h1M244.5 95h1M264 91.5h1M247.5 89.5h1M252 91.5h1M248 91h1M267.5 87h1M253.5 94h1M227.5 94h1M251 94.5h1M255 97h1M261.5 92.5h1M239.5 96h1M253.5 93h1M262.5 90.5h1M238.5 92h1M234 97h1M251 90.5h1M245.5 90h1M255.5 88h1M255 95h1M249 88.5h1M232 88.5h1M253.5 94.5h1M254.5 90.5h1M269 91.5h1M231.5 95h1M238.5 90.5h1M255 93h1M235 90h1M234.5 88.5h1M243 89.5h1M269 88.5h1M267.5 91.5h1M263 93h1M237.5 89h1M233.5 90.5h1M239.5 90.5h1M257 93h1M252 90h1M242.5 91.5h1M244 93.5h1M230 96h1M234 89h1M260 95h1M262.5 86.5h1M244 88.5h1M238.5 96h1M254 94h1M264 89h1M248 88.5h1M260 84h1M239.5 91h1M234.5 97h1M242.5 95.5h1M227 96h1M248 89h1M238.5 87h1M232 90.5h1M255.5 94h1M262 86h1M248.5 92h1M252.5 90h1M255 91.5h1M250 89h1M259 88h1M252 89h1M231.5 95.5h1M250 93h1M253.5 86h1M263.5 92.5h1M243.5 88.5h1M232 91h1M243 92.5h1M260 94h1M263.5 89.5h1M253.5 92h1M243.5 96h1M257.5 92.5h1M249.5 93.5h1M255.5 88.5h1M237 90h1M253 87.5h1M260 92.5h1M233 96.5h1M269 88h1M229 96.5h1M258.5 94h1M267.5 88.5h1M245.5 91h1M240.5 97h1M235 92h1M249.5 93h1M237 89.5h1M238 91h1M246.5 89.5h1M259.5 88.5h1M235.5 91h1M245 87h1M257.5 89.5h1M268 90h1M251.5 95h1M234.5 92h1M249.5 96.5h1M265 91h1M232.5 94h1M229 94h1M246.5 92h1M228 95.5h1M259.5 89.5h1M234.5 93.5h1M251.5 88h1M264 86.5h1M235.5 96h1M251 88h1M252 90.5h1M241.5 93h1M245.5 92.5h1M253.5 93.5h1M247.5 88h1M256.5 94h1M244 90.5h1M255.5 93h1M237.5 90h1M268.5 87.5h1M269 90.5h1M249 86.5h1M254.5 92h1M245.5 94h1M257.5 87.5h1M243.5 87.5h1M251.5 89h1M245.5 89h1M237 95h1M234 96h1M266.5 87.5h1M251.5 93h1M248 94.5h1M257 87.5h1M230.5 92.5h1M230.5 94.5h1M268.5 89.5h1M246 94h1M228 94.5h1M243.5 89.5h1M229.5 94h1M251.5 88.5h1M246 91h1M249 93.5h1M245 85.5h1M233 91h1M246 91.5h1M262 90h1M248.5 88.5h1M239.5 89.5h1M246.5 88.5h1M241.5 94.5h1M261 89.5h1M263 87h1M264 93.5h1M243 94h1M267.5 90h1M237 89h1M230.5 95.5h1M238.5 89h1M268.5 92.5h1M253 89h1M238 89h1M252 89.5h1M248.5 94h1M231 92h1M248.5 87h1M245.5 92h1M261 88.5h1M235 95h1M258 90h1M261 90.5h1M242.5 89h1M224 93h1M244.5 89h1M266.5 85h1M262.5 88h1M267 90.5h1M228 93h1M236.5 92.5h1M257 94h1M229.5 92.5h1M234.5 89h1M232 95.5h1M228.5 95h1M238.5 94.5h1M251.5 94.5h1M249 95.5h1M250.5 87.5h1M239.5 95.5h1M239 89h1M244 93h1M240.5 91h1M245.5 88h1M245 92h1M233.5 91.5h1M255 92.5h1M241 91.5h1M230 91.5h1M249.5 89.5h1M268 94h1M239.5 93.5h1M252.5 87.5h1M238 95.5h1M245.5 93.5h1M254 94.5h1M234.5 95h1M237.5 90.5h1M229 91h1M258.5 87.5h1M247.5 92.5h1M267 91.5h1M239.5 94.5h1M265 93.5h1M248 91.5h1M266 92.5h1M256 90.5h1M229.5 93.5h1M255 87.5h1M252.5 93.5h1M266 91.5h1M264.5 94h1M252.5 94h1M257.5 92h1M247.5 93h1M250.5 93.5h1M235.5 93.5h1M258 93.5h1M233.5 87.5h1M237.5 95.5h1M248.5 92.5h1M240.5 94h1M233.5 96h1M234.5 90h1M256.5 87h1M265.5 86.5h1M229.5 90h1M248 89.5h1M254 92.5h1M244 89.5h1M240 95.5h1M247.5 95h1M260 88h1M265 90h1M262.5 89h1M266.5 89h1M259.5 92.5h1M247.5 85.5h1M236.5 89.5h1M233.5 95.5h1M253 94h1M254 88.5h1M231 91h1M247 89.5h1M258.5 92.5h1M246.5 90.5h1M256 92h1M267 86h1M264 85h1M254.5 93.5h1M262 93.5h1M241 93.5h1M254.5 91.5h1M239.5 92.5h1M237 94.5h1M231.5 93.5h1M254.5 86h1M266 93h1M250 95h1M268.5 90.5h1M235.5 92h1M267.5 85h1M259.5 86.5h1M236 89h1M268 90.5h1M232.5 98h1M250 94.5h1M245 88h1M259.5 94h1M231 96h1M266.5 92.5h1M230.5 90.5h1M269.5 88h1M233 92.5h1M259.5 94.5h1M247.5 94h1M249 89.5h1M259 86h1M266.5 86h1M268 86.5h1M245 89.5h1M238 93h1M251.5 92h1M243 94.5h1M244 94.5h1M247 94h1M256 94h1M254.5 88h1M249 94h1M233 94h1M246.5 93.5h1M261.5 87h1M258.5 89.5h1M246.5 94.5h1M265 89h1M226.5 93h1M261 92.5h1M232 97.5h1M235.5 93h1M267.5 93h1M254.5 86.5h1M235 98h1M252.5 86.5h1M263.5 94.5h1M264.5 92h1M267 87.5h1M269.5 87.5h1M244.5 94.5h1M243 98h1M237 91.5h1M258 86h1M241.5 88.5h1M249.5 88.5h1M261.5 86h1M238.5 90h1M251.5 91.5h1M250.5 87h1M245.5 96h1M253 86.5h1M235 88.5h1M255.5 86h1M250.5 89h1M226.5 95.5h1M241 88h1M259.5 96.5h1M264 87.5h1M261 92h1M251.5 96.5h1M251 95h1M229.5 91.5h1M253 93h1M239.5 89h1M236 95h1M251 93h1M249 95h1M250.5 94.5h1M267.5 91h1M260 92h1M254 96h1M256 90h1M245.5 95h1M262 92h1M258 94.5h1M269 92h1M238 94h1M247 95.5h1M250.5 95h1M255.5 93.5h1M255.5 87h1M230.5 90h1M228.5 89h1M234 90.5h1M265.5 89.5h1M267.5 89h1M253.5 88h1M235 90.5h1M240 95h1M254.5 93h1M239 92h1M237.5 89.5h1M231 96.5h1M235 87h1M259.5 95h1M252 88h1M256.5 93.5h1M267 93.5h1M228.5 96.5h1M260 93h1M241 95.5h1M258.5 88h1M254 88h1M253 95.5h1M260.5 92h1M234.5 94.5h1M262.5 87h1M241.5 96h1M257.5 88.5h1M235 89.5h1M232.5 96.5h1M250.5 95.5h1M228 92h1M256.5 89h1M226 93.5h1M259 93.5h1M231.5 96.5h1M243 95.5h1M240.5 91.5h1M229.5 96h1M232 95h1M233 90.5h1M240 92h1M239 98h1M234 88.5h1M247.5 96h1M244 99h1M236.5 98.5h1M250.5 96h1M241 98h1M254.5 95h1M254.5 87h1M243.5 86.5h1M255.5 86.5h1M250 86h1M260.5 93h1M261 89h1M253.5 96.5h1M223.5 96h1M260.5 86.5h1M260.5 84.5h1M236 89.5h1M251 94h1M270 85.5h1M238.5 95.5h1M234 89.5h1M229.5 89.5h1M236.5 87.5h1M247 90h1M268 87h1M241.5 98h1M246.5 96.5h1M225 96.5h1M253.5 99h1M265 87h1M250.5 96.5h1M260.5 84h1M244.5 87h1M238 98h1M239.5 99.5h1M251.5 97h1M254 86.5h1M252 87.5h1M237.5 99.5h1M263.5 94h1M249.5 97h1M271 87h1M262 95.5h1M268 91.5h1M244 97.5h1M268.5 91h1M227.5 89h1M263.5 92h1M269.5 87h1M261.5 96h1M230.5 88h1M236 88.5h1M239.5 98.5h1M233 97h1M250 85.5h1M253.5 86.5h1M257.5 85h1M243 86.5h1M258.5 94.5h1M273 86h1M225.5 92.5h1M259 87h1M246.5 95h1M255.5 98h1M245.5 95.5h1M246 87.5h1M260.5 83.5h1M241.5 89.5h1M237.5 97.5h1M267.5 94h1M251 86h1M253 85.5h1M240.5 99.5h1M254 86h1M266 87.5h1M245.5 87.5h1M252.5 96h1M258.5 96h1M253.5 85h1M246.5 98h1M233 99h1M270 88h1M255.5 96h1M237 95.5h1M252.5 95.5h1M258.5 84.5h1M256.5 95.5h1M269.5 94h1M224 95h1M259 95.5h1M252.5 95h1M249.5 86h1M249.5 95h1M254 85.5h1M237.5 87.5h1M254.5 99.5h1M255.5 99.5h1M270.5 86.5h1M234 97.5h1M259.5 86h1M257.5 94h1M239.5 100.5h1M265 86.5h1M241.5 87h1M263.5 87h1M253.5 98.5h1M228 90.5h1M256.5 92.5h1M242 94.5h1M231 90.5h1M233.5 98h1M253 87h1M254.5 85h1M240.5 100h1M238.5 96.5h1M242.5 97.5h1M227 89.5h1M240.5 95h1M259.5 85h1M236 96.5h1M255 94h1M225 96h1M238.5 98h1M242.5 90h1M246 93h1M265.5 92.5h1M243 98.5h1M246.5 87h1M251 95.5h1M230.5 89h1M251 84.5h1M270.5 94.5h1M246 96h1M250.5 88h1M242 88h1M257 97h1M232.5 90.5h1M247.5 92h1M250.5 86h1M261 96h1M264 95h1M250 88h1M237.5 88.5h1M243.5 94.5h1M248 97h1M250 97h1M252.5 88.5h1M252 96h1M236.5 95.5h1M223 97h1M252.5 96.5h1M267.5 86h1M244.5 86.5h1M243.5 86h1M261 83h1M255.5 97h1M253 99h1M245.5 96.5h1M257 87h1M250.5 89.5h1M249 84.5h1M268.5 91.5h1M269.5 84.5h1M255.5 95.5h1M261.5 94.5h1M262 87h1M269 94.5h1M251.5 96h1M224.5 96.5h1M261.5 83.5h1M244.5 99h1M236.5 96h1M228 94h1M225 97.5h1M253 97h1M256 95h1M253 86h1M242 89h1M260.5 94.5h1M258.5 86.5h1M254.5 96h1M245 87.5h1M237 99.5h1M244 87h1M233 88h1" stroke="#000" stroke-width="1" fill="none"/>
<path class="dots" d="M255.9 101.0h.9M235.0 106.9h.9M247.4 117.9h.9M263.3 102.7h.9M260.9 102.1h.9M269.6 124.6h.9M236.7 103.9h.9M265.0 102.8h.9M225.0 102.8h.9M229.2 110.4h.9M260.8 102.4h.9M255.0 125.0h.9M240.8 102.5h.9M236.6 122.7h.9M240.8 114.5h.9M251.7 111.4h.9M269.1 104.5h.9M263.6 105.7h.9M239.1 106.9h.9M251.4 101.1h.9M237.3 110.6h.9M249.2 104.4h.9M266.6 105.9h.9M250.7 103.8h.9M230.0 118.9h.9M234.4 115.6h.9M234.9 105.1h.9M259.0 110.3h.9M263.7 118.2h.9M261.4 111.1h.9M239.1 116.3h.9M243.3 105.2h.9M224.8 104.1h.9M244.8 107.4h.9M259.5 114.8h.9M226.8 101.9h.9M225.3 106.5h.9M261.9 118.1h.9M256.6 111.5h.9M232.0 124.1h.9M265.2 107.4h.9M251.2 100.8h.9M244.5 99.4h.9M229.4 100.9h.9M251.1 115.8h.9M228.2 124.0h.9M265.9 108.2h.9M268.6 102.2h.9M227.2 102.4h.9M255.1 109.4h.9M264.5 113.3h.9M269.4 110.2h.9M235.0 110.6h.9M237.9 110.1h.9M262.5 123.4h.9M267.1 123.7h.9M257.8 100.0h.9M234.1 105.0h.9M264.9 107.3h.9M253.1 125.2h.9M237.1 120.3h.9M249.6 106.2h.9M242.3 123.7h.9M241.3 113.6h.9M224.6 107.2h.9M250.6 102.8h.9M259.9 102.1h.9M263.4 109.7h.9M270.3 123.8h.9M226.0 98.4h.9M225.6 123.4h.9M225.5 98.2h.9M251.5 119.7h.9M247.7 111.4h.9M239.0 122.0h.9M228.0 101.3h.9M232.1 119.3h.9M262.2 109.7h.9M235.9 111.9h.9M226.8 104.8h.9M230.6 125.5h.9M232.0 108.9h.9M265.6 125.0h.9M237.5 114.9h.9M264.2 119.3h.9M255.1 110.1h.9M236.8 118.0h.9M246.1 101.6h.9M266.6 100.4h.9M245.6 118.8h.9M271.7 117.3h.9M230.7 123.5h.9M242.8 119.4h.9M266.2 92.2h.9M250.9 98.8h.9M264.5 97.8h.9M254.4 106.5h.9M252.9 94.2h.9M246.5 95.2h.9M256.8 102.2h.9M243.3 99.0h.9M245.1 100.2h.9M240.3 100.9h.9M275.8 95.7h.9M253.0 94.7h.9M262.1 86.7h.9M276.6 92.5h.9M250.3 97.0h.9M254.3 94.6h.9M244.9 92.7h.9M254.5 90.5h.9M253.5 99.7h.9M257.0 100.8h.9M251.2 97.0h.9M264.1 93.6h.9M249.0 91.1h.9M263.8 105.3h.9M231.2 99.6h.9M254.7 101.0h.9M257.7 99.7h.9M278.6 83.2h.9M243.4 103.9h.9M253.7 101.1h.9M258.0 103.5h.9M244.8 102.7h.9M251.8 105.0h.9M251.0 100.7h.9M240.3 103.3h.9M239.0 106.4h.9M274.7 104.7h.9M250.4 84.8h.9M272.9 89.5h.9M258.1 92.0h.9M238.6 88.2h.9M244.1 95.5h.9M234.6 80.8h.9M241.5 96.3h.9M240.9 98.9h.9M239.0 92.7h.9M231.8 101.3h.9M247.7 93.7h.9M262.4 107.4h.9M245.3 94.1h.9M270.1 90.6h.9M236.9 93.1h.9M239.6 102.2h.9M257.4 91.6h.9M252.5 100.9h.9M246.5 88.7h.9M253.2 101.8h.9M237.3 94.4h.9M258.1 98.6h.9M224.4 101.1h.9M244.4 90.4h.9M269.9 91.5h.9M244.4 97.4h.9M264.8 102.0h.9M239.2 101.0h.9M236.5 104.5h.9M233.1 84.8h.9M252.8 87.9h.9M273.7 94.0h.9M275.6 88.4h.9M262.9 95.1h.9M252.3 90.7h.9M255.1 97.4h.9M257.6 94.2h.9M263.8 94.1h.9M252.4 95.9h.9M251.5 97.9h.9M250.1 88.9h.9M261.9 93.6h.9M237.4 91.0h.9M251.2 97.3h.9M262.6 93.2h.9M240.6 99.7h.9M265.0 102.4h.9M251.2 95.8h.9M247.4 107.0h.9M254.0 101.6h.9M231.5 94.2h.9M259.4 101.8h.9M265.0 96.2h.9M271.5 94.3h.9M241.0 94.9h.9M269.7 94.4h.9M232.9 97.1h.9M240.6 102.6h.9M251.6 97.9h.9M254.0 86.5h.9M233.5 95.4h.9M238.2 99.3h.9M253.6 94.3h.9M254.0 96.3h.9M228.9 97.4h.9M261.2 92.5h.9M240.9 95.4h.9M259.5 97.6h.9M240.8 95.9h.9M243.1 88.0h.9M228.4 92.8h.9M266.6 103.0h.9M236.5 108.5h.9M241.4 89.5h.9M226.1 88.0h.9M263.5 97.6h.9M251.7 90.1h.9M261.8 90.8h.9M251.6 103.3h.9M236.2 105.6h.9M274.7 93.4h.9M256.9 90.3h.9M250.8 92.1h.9M256.9 99.0h.9M269.5 100.8h.9M226.3 98.6h.9M251.6 95.9h.9M252.9 91.5h.9M243.1 89.2h.9M260.0 89.2h.9M254.1 99.7h.9M244.9 100.1h.9M247.5 101.0h.9M254.7 101.9h.9M250.1 96.8h.9M239.2 99.2h.9M265.9 97.7h.9M262.2 92.9h.9M235.2 90.3h.9M236.0 95.6h.9M236.1 93.6h.9M252.3 94.9h.9M237.2 97.6h.9M253.6 89.2h.9M278.8 102.9h.9M257.3 90.0h.9M241.1 101.2h.9M276.7 93.4h.9M229.6 103.1h.9M244.4 101.3h.9M239.3 94.9h.9M244.1 89.6h.9M261.8 88.5h.9M248.4 99.2h.9M243.5 94.2h.9M250.0 101.3h.9M240.3 97.2h.9M266.1 95.6h.9M232.9 97.2h.9M254.5 99.9h.9M255.3 90.7h.9M261.2 100.9h.9M252.5 96.3h.9M245.9 90.4h.9M250.7 92.7h.9M262.5 102.1h.9M248.1 106.4h.9M255.9 108.8h.9M263.9 104.8h.9M228.3 95.4h.9M273.2 93.6h.9M229.8 90.3h.9M247.1 92.1h.9M240.9 86.0h.9M244.3 91.5h.9M256.2 105.5h.9M251.7 100.8h.9M249.3 96.8h.9M237.0 95.5h.9M260.6 92.4h.9M258.9 87.9h.9M258.0 95.9h.9M256.2 92.7h.9M248.0 98.2h.9M277.8 92.6h.9M258.2 109.3h.9M253.8 97.2h.9M269.1 88.8h.9M234.5 91.8h.9M278.3 90.5h.9M248.9 91.8h.9M256.0 96.8h.9M240.8 94.6h.9M260.5 95.4h.9M242.4 90.1h.9M280.5 83.3h.9M247.8 95.9h.9M244.3 99.3h.9M223.2 94.9h.9M234.7 96.3h.9M246.2 97.9h.9M227.0 96.0h.9M248.0 94.2h.9M242.8 93.1h.9M271.6 100.9h.9M249.6 98.2h.9M262.5 93.5h.9M233.9 99.1h.9M245.1 99.7h.9M253.7 87.7h.9M265.0 94.0h.9M265.6 96.2h.9M266.5 94.7h.9M236.2 92.2h.9M255.5 109.2h.9M249.2 87.1h.9M256.1 98.8h.9M252.6 98.5h.9M242.0 95.6h.9M242.8 90.3h.9M246.7 91.6h.9M232.6 100.8h.9M223.4 89.8h.9M264.2 99.3h.9M249.1 102.0h.9M266.0 87.3h.9M245.5 95.8h.9M239.4 88.3h.9M250.3 85.6h.9M241.0 93.6h.9M248.0 100.0h.9M247.5 100.2h.9M262.1 100.6h.9M234.9 90.1h.9M245.9 104.0h.9M265.7 99.7h.9M236.6 95.8h.9M245.4 99.4h.9M264.8 86.8h.9M234.7 95.5h.9M247.2 94.9h.9M257.1 91.2h.9M270.6 99.2h.9M242.7 97.5h.9M253.5 96.6h.9M239.1 103.0h.9M253.5 93.1h.9M252.0 100.3h.9M248.1 87.9h.9M233.0 98.4h.9M251.3 98.9h.9M243.8 90.8h.9M270.6 97.6h.9M246.8 103.8h.9M236.9 103.2h.9M234.9 99.5h.9M224.0 91.2h.9M272.2 88.6h.9M280.8 91.3h.9M246.5 98.4h.9M275.2 93.1h.9M264.3 98.1h.9M271.9 95.9h.9M243.5 83.8h.9M225.4 89.7h.9M256.3 84.2h.9M276.1 88.9h.9M268.1 96.2h.9M250.8 101.2h.9M244.9 99.1h.9M248.6 99.0h.9M240.3 86.8h.9M235.4 85.5h.9M229.3 101.4h.9M272.8 85.4h.9M266.7 100.1h.9M230.6 87.2h.9M255.3 100.7h.9M251.3 83.9h.9M272.2 90.3h.9M264.0 82.8h.9M253.9 83.3h.9M251.8 83.8h.9M257.9 98.2h.9M272.0 95.5h.9M280.2 90.2h.9M256.1 84.7h.9M259.1 98.6h.9M272.0 89.6h.9M264.2 82.3h.9M245.4 83.6h.9M258.4 80.8h.9M263.9 83.6h.9M226.2 87.1h.9M280.3 91.1h.9M262.2 80.3h.9M240.0 81.8h.9M245.5 84.9h.9M274.1 85.9h.9M272.1 85.7h.9M229.0 101.1h.9M278.6 86.9h.9M225.6 99.5h.9M249.1 83.9h.9M226.3 99.3h.9M271.1 98.8h.9M273.6 92.0h.9M257.1 97.4h.9M238.3 82.4h.9M227.4 98.8h.9" stroke="#000" stroke-width="0.9" stroke-opacity="0.5" fill="none"/>
<line x1="222.5" y1="74.5" x2="282.5" y2="74.5" stroke="#909090" stroke-width="1"/>
<line x1="282.5" y1="74.5" x2="282.5" y2="126.5" stroke="#909090" stroke-width="1"/>
<line x1="222.5" y1="74.0" x2="222.5" y2="127.0" stroke="#3a3a3a" stroke-width="1"/>
<line x1="222.5" y1="126.5" x2="283.0" y2="126.5" stroke="#3a3a3a" stroke-width="1"/>
<line x1="242.5" y1="74.5" x2="242.5" y2="126.5" stroke="#333" stroke-width="1"/>
<line x1="222.5" y1="107.5" x2="282.5" y2="107.5" stroke="#888" stroke-width="1"/>
<text x="220.2" y="131.1" font-size="3.4" fill="#000">10<tspan font-size="2.6" dy="-1.2">0</tspan></text>
<line x1="220.9" y1="126.8" x2="222.5" y2="126.8" stroke="#444" stroke-width="0.6"/>
<text x="216.2" y="128.5" font-size="3.4" fill="#000">10<tspan font-size="2.6" dy="-1.2">0</tspan></text>
<text x="235.3" y="131.1" font-size="3.4" fill="#000">10<tspan font-size="2.6" dy="-1.2">1</tspan></text>
<line x1="220.9" y1="113.6" x2="222.5" y2="113.6" stroke="#444" stroke-width="0.6"/>
<text x="216.2" y="115.3" font-size="3.4" fill="#000">10<tspan font-size="2.6" dy="-1.2">1</tspan></text>
<text x="250.4" y="131.1" font-size="3.4" fill="#000">10<tspan font-size="2.6" dy="-1.2">2</tspan></text>
<line x1="220.9" y1="100.4" x2="222.5" y2="100.4" stroke="#444" stroke-width="0.6"/>
<text x="216.2" y="102.1" font-size="3.4" fill="#000">10<tspan font-size="2.6" dy="-1.2">2</tspan></text>
<text x="265.6" y="131.1" font-size="3.4" fill="#000">10<tspan font-size="2.6" dy="-1.2">3</tspan></text>
<line x1="220.9" y1="87.2" x2="222.5" y2="87.2" stroke="#444" stroke-width="0.6"/>
<text x="216.2" y="88.9" font-size="3.4" fill="#000">10<tspan font-size="2.6" dy="-1.2">3</tspan></text>
<text x="280.7" y="131.1" font-size="3.4" fill="#000">10<tspan font-size="2.6" dy="-1.2">4</tspan></text>
<line x1="220.9" y1="74.0" x2="222.5" y2="74.0" stroke="#444" stroke-width="0.6"/>
<text x="216.2" y="75.7" font-size="3.4" fill="#000">10<tspan font-size="2.6" dy="-1.2">4</tspan></text>
<text x="282.5" y="83.0" font-size="8.6" text-anchor="end" font-weight="normal" font-style="normal" fill="#000" class="p">80%</text>
<text x="213.8" y="108.4" font-size="10.5" text-anchor="middle" font-weight="normal" font-style="normal" fill="#000" transform="rotate(-90 213.8 108.4)">CD3</text>
<path class="dots" d="M314 25.5h1M338 26h1M338 26.5h1M314.5 29h1M320 28h1M318.5 25h1M322.5 26h1M321.5 26h1M320.5 26.5h1M321 24.5h1M334.5 28.5h1M313.5 23h1M333.5 23.5h1M338.5 26h1M333.5 25.5h1M323.5 23.5h1M334.5 24.5h1M322.5 21h1M326.5 25h1M315 27.5h1M323 23.5h1M335 24h1M333.5 27.5h1M329 24.5h1M329.5 22h1M327.5 27.5h1M332.5 22h1M326 27h1M323 28.5h1M333 25.5h1M316.5 24.5h1M319 23h1M316.5 26h1M333 24.5h1M329 22.5h1M329 26h1M332.5 27h1M330.5 24.5h1M331 27h1M316 24.5h1M317.5 23.5h1M328.5 24h1M334 24h1M316.5 25.5h1M328 23h1M324 22h1M338 23h1M327 24.5h1M341.5 23.5h1M336.5 24.5h1M340 23h1M339 24h1M318.5 20.5h1M320 26.5h1M335.5 24h1M333 28h1M329.5 29.5h1M324 29h1M318.5 25.5h1M331.5 26h1M326 25.5h1M333.5 22h1M315.5 26.5h1M334.5 26h1M323.5 26.5h1M316.5 27h1M332 23h1M333 22h1M336.5 24h1M330 24.5h1M326 23h1M337 22.5h1M336 22.5h1M339 23.5h1M342.5 25h1M313 25h1M337.5 26.5h1M316 22.5h1M337 24h1M317 27h1M316 27h1M341.5 25h1M321.5 25h1M321 28h1M331.5 24h1M326.5 27.5h1M328.5 25.5h1M333 23h1M320 25h1M324 23.5h1M324 25.5h1M324 24.5h1M325.5 24.5h1M334.5 22.5h1M320 27h1M316 26.5h1M341 25h1M333.5 24h1M327 24h1M324 24h1M328.5 26.5h1M327 23h1M326 26h1M331 26.5h1M317 26h1M339.5 22.5h1M321.5 22.5h1M332.5 27.5h1M317 23.5h1M329.5 27.5h1M319 24h1M326.5 23.5h1M336.5 25.5h1M312.5 26.5h1M329.5 25.5h1M329.5 24.5h1M331.5 25h1M336 23.5h1M318 27h1M319.5 24.5h1M338 23.5h1M316.5 29h1M315.5 22.5h1M339 28h1M332 27h1M339.5 25h1M340.5 24h1M331 22h1M337 25.5h1M342 25.5h1M333.5 26h1M335.5 21.5h1M334 24.5h1M314.5 27.5h1M320 23h1M329.5 25h1M327.5 23.5h1M325 23h1M313 25.5h1M328.5 25h1M331.5 24.5h1M336 25h1M313.5 28.5h1M318 25h1M335 23.5h1M318 24.5h1M323 27h1M329 23h1M326.5 23h1M316 27.5h1M322.5 23.5h1M314 27.5h1M340 27.5h1M342 26h1M336.5 21.5h1M322.5 24.5h1M318 25.5h1M327.5 22.5h1M326.5 26h1M321 27h1M318 22h1M313 27.5h1M314 26h1M332.5 24h1M315.5 27.5h1M324.5 23h1M324 27h1M320.5 21h1M324.5 25h1M336 24h1M320 24.5h1M329 25.5h1M321 21.5h1M310 23.5h1M318 21.5h1M328.5 26h1M317.5 23h1M333.5 23h1M318 26.5h1M335.5 26h1M327.5 24.5h1M320.5 27.5h1M323.5 25h1M328 25h1M324.5 26h1M318 23h1M322 25h1M337.5 22.5h1M328 24h1M320.5 24h1M333.5 22.5h1M337 21h1M338 25.5h1M312.5 25h1M310 26.5h1M325 26h1M318 24h1M328 26h1M332.5 25h1M330.5 23.5h1M314.5 27h1M310.5 26h1M335.5 28.5h1M338.5 25h1M329 23.5h1M321 26h1M341.5 24.5h1M323 24.5h1M311 26h1M324.5 23.5h1M310 24.5h1M330.5 23h1M323 26h1M327 23.5h1M331.5 25.5h1M340.5 25.5h1M331 21h1M323 25h1M315 26.5h1M321.5 24.5h1M342.5 26.5h1M316 24h1M325.5 26h1M326 23.5h1M329.5 24h1M326.5 24h1M337 26.5h1M336 24.5h1M314 26.5h1M326 24h1M339.5 24.5h1M322 21h1M337.5 23h1M329 25h1M313.5 24.5h1M321 23h1M328 27h1M328 24.5h1M323.5 21.5h1M320.5 26h1M333.5 24.5h1M335.5 27.5h1M320.5 25.5h1M330 22h1M316.5 23.5h1M319 25.5h1M326 28h1M330.5 22h1M323 27.5h1M323.5 26h1M331 25h1M329 24h1M314.5 24.5h1M312.5 25.5h1M319 26.5h1M312 26.5h1M322 26h1M325 27.5h1M333 26h1M321.5 27.5h1M336 27.5h1M322 25.5h1M316 25.5h1M336 26.5h1M334.5 21.5h1M322 26.5h1M330 25h1M319.5 27.5h1M337 21.5h1M327 22h1M338 28h1M327.5 24h1M317.5 26.5h1M321 24h1M341 25.5h1M337.5 22h1M316 23h1M316 25h1M336 21.5h1M339.5 23h1M327.5 22h1M333.5 21.5h1M326 24.5h1M336.5 26h1M332.5 28h1M311.5 25h1M331.5 22.5h1M337.5 24.5h1M324.5 27.5h1M332 24h1M320.5 24.5h1M328 25.5h1M320.5 25h1M317.5 24h1M325 24h1M332.5 25.5h1M319 22.5h1M336.5 23h1M341 24.5h1M314 23.5h1M333 27h1M327 21.5h1M317 26.5h1M321 21h1M329 21h1M328 26.5h1M331 23.5h1M332.5 22.5h1M325.5 27h1M337.5 23.5h1M330.5 26h1M325.5 25.5h1M326.5 24.5h1M324.5 22h1M315.5 23.5h1M339.5 26h1M322.5 25.5h1M326.5 25.5h1M331 24h1M337 27.5h1M340 26.5h1M340 25h1M310.5 23.5h1M326 25h1M311.5 23.5h1M332 22.5h1M324 25h1M334.5 22h1M336 26h1M317.5 28h1M330 22.5h1M333 24h1M323.5 24h1M320 25.5h1M321.5 23.5h1M314 24h1M327.5 21.5h1M319 27h1M334.5 24h1M324 26h1M342 23.5h1M332 24.5h1M318 26h1M315 26h1M327.5 27h1M321 23.5h1M315.5 24h1M340 24h1M326 27.5h1M330.5 26.5h1M315.5 29.5h1M330 25.5h1M318.5 22h1M342 26.5h1M338 25h1M318.5 24.5h1M337 23h1M321 22.5h1M335 24.5h1M320 26h1M310.5 26.5h1M318.5 23.5h1M319.5 23.5h1M331 24.5h1M313 23.5h1M324.5 27h1M314 24.5h1M331.5 26.5h1M328.5 22h1M323 26.5h1M337 24.5h1M319 26h1M325 25h1M318 22.5h1M320.5 23h1M342 27h1M322.5 28h1M319.5 27h1M319.5 24h1M332 25h1M311 21.5h1M315 24h1M334.5 27.5h1M314.5 22.5h1M337.5 25.5h1M332 25.5h1M322.5 22.5h1M321 26.5h1M317.5 29h1M334.5 23h1M313.5 29h1M335.5 21h1M339.5 24h1M317.5 24.5h1M320 22.5h1M326.5 28h1M324.5 22.5h1M344.5 23.5h1M336 27h1M322.5 25h1M331.5 21h1M325.5 25h1M315 25.5h1M329 27h1M322 24h1M320.5 22h1M331.5 29h1M315.5 21h1M338 24.5h1M334 25h1M338.5 24.5h1M318 23.5h1M316 23.5h1M334 27.5h1M331.5 23h1M327 25h1M337 26h1M326 22.5h1M325 25.5h1M315.5 21.5h1M315.5 28.5h1M325.5 26.5h1M314.5 25h1M341.5 26h1M318.5 24h1M324 26.5h1M333.5 28h1M331.5 27.5h1M325.5 23.5h1M321.5 24h1M313 24h1M330.5 25.5h1M336.5 21h1M334 23.5h1M319.5 26h1M330 23h1M333.5 25h1M317 28h1M329 26.5h1M310.5 24.5h1M338.5 23.5h1M325 26.5h1M342.5 26h1M337.5 24h1M319.5 23h1M336.5 27h1M319.5 28h1M311.5 26h1M334 25.5h1M337 22h1M331 26h1M311 26.5h1M332 26.5h1M329.5 22.5h1M317 24.5h1M313.5 25h1M316 26h1M333 26.5h1M315.5 25.5h1M321.5 26.5h1M337.5 25h1M321 27.5h1M331.5 22h1M330 26h1M323 25.5h1M318 29h1M323.5 23h1M326.5 21.5h1M334 27h1M311.5 24.5h1M325.5 24h1M334 21h1M325 24.5h1M321 25h1M339 26h1M335.5 25h1M313 27h1M320 23.5h1M326 26.5h1M321 22h1M310.5 28h1M317.5 22.5h1M332 27.5h1M341.5 26.5h1M312 27.5h1M328 23.5h1M330.5 27.5h1M315 25h1M337 23.5h1M327.5 25h1M329.5 26.5h1M320 24h1M322 23h1M336.5 22h1M336.5 23.5h1M328.5 20.5h1M340.5 22.5h1M334 26.5h1M323 23h1M324.5 25.5h1M316 28h1M328.5 28.5h1M323.5 24.5h1M329.5 21h1M315 22h1M330 28.5h1M318.5 28h1M330.5 22.5h1M340.5 27.5h1M330.5 24h1M331 25.5h1M327 27.5h1M323 28h1M334 28.5h1M335.5 22.5h1M335 25.5h1M337.5 26h1M343.5 24h1M317.5 27h1M313.5 26h1M332.5 23.5h1M335 23h1M338.5 24h1M328.5 27.5h1M323.5 22h1M311 23h1M322 21.5h1M330 27h1M334 22.5h1M322 22.5h1M320 22h1M314.5 24h1M326 28.5h1M317 23h1M317.5 25.5h1M312 25.5h1M329.5 26h1M339 25.5h1M318.5 26h1M341 28h1M330 21h1M323 22.5h1M330 29h1M322 22h1M333 25h1M340.5 21h1M333 22.5h1M341.5 25.5h1M334.5 19.5h1M315.5 29h1M320 27.5h1M340.5 22h1M335.5 25.5h1M334.5 25.5h1M315.5 26h1M318.5 26.5h1M325.5 21h1M331 21.5h1M310.5 25.5h1M340 24.5h1M321.5 28.5h1M319.5 25.5h1M335.5 23h1M338 29h1M331.5 21.5h1M332.5 24.5h1M333.5 21h1M342 24.5h1M333 23.5h1M315.5 25h1M321.5 22h1M327.5 25.5h1M319 25h1M317 24h1M330.5 28h1M334 26h1M327 20h1M329.5 23.5h1M324.5 24h1M320 21.5h1M321 25.5h1M335 25h1M312 22h1M343.5 24.5h1M313 22h1M335.5 26.5h1M335 26h1M317 28.5h1M327.5 26h1M325 22h1M344 25h1M322 23.5h1M330 26.5h1M327 26h1M319 22h1M324.5 26.5h1M319.5 26.5h1M335 22.5h1M331.5 28h1M324.5 24.5h1M326 21.5h1M314.5 26h1M331 22.5h1M313.5 28h1M318.5 27h1M322.5 24h1M319.5 25h1M312.5 23.5h1M310.5 24h1M315.5 23h1M332 23.5h1M317 25.5h1M341.5 22.5h1M331 23h1M325.5 23h1M339 24.5h1M344.5 26.5h1M330 24h1M343 25h1M328 28h1M318.5 23h1M332 26h1M332.5 21h1M330 23.5h1M328.5 23.5h1M317.5 25h1M320 21h1M315.5 24.5h1M321.5 25.5h1M322.5 23h1M334.5 25h1M341 23h1M340.5 25h1M338 22h1M313 23h1M315.5 28h1M339.5 27h1M312.5 24.5h1M332 29h1M328 22.5h1M327.5 23h1M322 24.5h1M314.5 25.5h1M312 27h1M323.5 28.5h1M342.5 24.5h1M333 29h1M319 24.5h1M337 25h1M343 23.5h1M329.5 20.5h1M336 23h1M323 24h1M341 20.5h1M325.5 27.5h1M323.5 22.5h1M311.5 21.5h1M311 25.5h1M325 22.5h1M314 27h1M325.5 28h1M338 24h1M311.5 27.5h1M334.5 23.5h1M317 22h1M312 24h1M340 27h1M337 20h1M330.5 20.5h1M314.5 23.5h1M317.5 21.5h1M312.5 26h1M316.5 23h1M315 29h1M335.5 24.5h1M338.5 22.5h1M332 21h1M314.5 26.5h1M336 21h1M335.5 22h1M312.5 27.5h1M335.5 23.5h1M338.5 23h1M340 26h1M325 28h1M322 20.5h1M339.5 21h1M312.5 22.5h1M326.5 26.5h1M323.5 29h1M332 22h1M329.5 21.5h1M310 25h1M328.5 23h1M333 21h1M327 25.5h1M336 28h1M317 25h1M312 23.5h1M321.5 20.5h1M339 23h1M339.5 22h1M316.5 22.5h1M332.5 26.5h1M342.5 24h1M338 22.5h1M317 27.5h1M316.5 28.5h1M316.5 26.5h1M318.5 22.5h1M312.5 22h1M320.5 22.5h1M317.5 26h1M330.5 27h1M338.5 25.5h1M332 28h1M342.5 27.5h1M341.5 27.5h1M316 22h1M341.5 22h1M315 24.5h1M323.5 25.5h1M320.5 27h1M331.5 28.5h1M326 19h1M335 27h1M344.5 25h1M317.5 22h1M335.5 27h1M311.5 25.5h1M328.5 24.5h1M316.5 25h1M331 28.5h1M339 22h1M336.5 25h1M338 21.5h1M328.5 21.5h1M325.5 22.5h1M310.5 27.5h1M340.5 26h1M325 27h1M312 23h1M319.5 22h1M332.5 26h1M315 22.5h1M312 24.5h1M327 26.5h1M325 21h1M328 22h1M320.5 23.5h1M335 21.5h1M327 20.5h1M341 22.5h1M331.5 23.5h1M314.5 23h1M337.5 29h1M331 27.5h1M341.5 27h1M334.5 26.5h1M343 27h1M328.5 28h1M313.5 26.5h1M332 19.5h1M332 21.5h1M321.5 27h1M324 22.5h1M321.5 28h1M311 27h1M318.5 21.5h1M311 23.5h1M328.5 27h1M313.5 27h1M327 22.5h1M314 25h1M321 28.5h1M316 21.5h1M311.5 27h1M325.5 22h1M325 23.5h1M326.5 22h1M338.5 28h1M315 21.5h1M318 27.5h1M329 21.5h1M330.5 21h1M324 27.5h1M334.5 27h1M339.5 25.5h1M327.5 21h1M327 28h1M323 22h1M335 26.5h1M341 26.5h1M341.5 23h1M315.5 22h1M342 23h1M330.5 25h1M338.5 21h1M340 20.5h1M312.5 23h1M326.5 21h1M335 29.5h1M337 20.5h1M319.5 19.5h1M313 26h1M343 26.5h1M338.5 21.5h1M323.5 27.5h1M338.5 22h1M319 23.5h1M333.5 20.5h1M342 22h1M338 20.5h1M325.5 29h1M321 30h1M328.5 20h1M312 25h1M329.5 28h1M326.5 28.5h1M337 28.5h1M322 27.5h1M338.5 27h1M336 25.5h1M344 24h1M341 21h1M325 21.5h1M329 28h1M339 25h1M339.5 29h1M321 20.5h1M330.5 19.5h1M339.5 28.5h1M346 25.5h1M335 20h1M322.5 19.5h1M333 19.5h1M343 25.5h1M317 20.5h1M343.5 27h1M338.5 27.5h1M337 27h1M332 20.5h1M313.5 22.5h1M330.5 29h1M324.5 51.5h1M316 57.5h1M323.5 50h1M319.5 50.5h1M318 49.5h1M310 46h1M321 48.5h1M314 58.5h1M316 50.5h1M318 59h1M317.5 52.5h1M310 47.5h1M312 52.5h1M319.5 53.5h1M320 52h1M310 54.5h1M321.5 49h1M317 58h1M312.5 51h1M326 52.5h1M316.5 57h1M321 55h1M317.5 53h1M314.5 52.5h1M318.5 59.5h1M318.5 50.5h1M321 53h1M315.5 53h1M314.5 51.5h1M314.5 52h1M322.5 55h1M311.5 55h1M317 55.5h1M317.5 55.5h1M320.5 48.5h1M315.5 56h1M312 56h1M318 49h1M310 54h1M319.5 52.5h1M320.5 45h1M316 46.5h1M316.5 50h1M315 46.5h1M325 50h1M320 57h1M316.5 56h1M317.5 50.5h1M320.5 58h1M313 51.5h1M318 50.5h1M321 52h1M320 51.5h1M318 52.5h1M315 47h1M318 55.5h1M314 53.5h1M324 46.5h1M316.5 44.5h1M323.5 48h1M311.5 52.5h1M316.5 48h1M325 48h1M320 54h1M317 45h1M319.5 56.5h1M325 46.5h1M315.5 57.5h1M317.5 58h1M315 50.5h1M322.5 56.5h1M319 54h1M319.5 54.5h1M328 53h1M319 59h1M320.5 49.5h1M321.5 51h1M324 53.5h1M314.5 54h1M317.5 57.5h1M325.5 45.5h1M319 55h1M314 49.5h1M314 51.5h1M312.5 55h1M319 56.5h1M323.5 50.5h1M318.5 52h1M315 55.5h1M317 52h1M313.5 50h1M317 48.5h1M320.5 57h1M321.5 50h1M314 57h1M320.5 51h1M323.5 54h1M324 57h1M315 54h1M325.5 51.5h1M328 52h1M321.5 48h1M319.5 50h1M315.5 48.5h1M316.5 53.5h1M317.5 58.5h1M310 55h1M319 52h1M319.5 55h1M324 57.5h1M320 52.5h1M326 48.5h1M316.5 58h1M318 53h1M325 54.5h1M328 49.5h1M311 54.5h1M320.5 50.5h1M324 47.5h1M318 44h1M318.5 45h1M321 49h1M315.5 53.5h1M310.5 50.5h1M315.5 52h1M323 56h1M324 47h1M310 53.5h1M323.5 52.5h1M316 52.5h1M315 51h1M318 47h1M318 48h1M314 53h1M322.5 57.5h1M323 51h1M321 51h1M316.5 50.5h1M321 54h1M312.5 46h1M321.5 56h1M320 55.5h1M325 48.5h1M323 53h1M313.5 45.5h1M312.5 56.5h1M324 50h1M315 57h1M317 44h1M319.5 48.5h1M319 57.5h1M313.5 52.5h1M318.5 57.5h1M325.5 51h1M321.5 54.5h1M313.5 52h1M313.5 50.5h1M317.5 56.5h1M320 53.5h1M313 53.5h1M319 56h1M317.5 56h1M318 54.5h1M318.5 56h1M324.5 58.5h1M319 51.5h1M311.5 46.5h1M318 57h1M317 57h1M317.5 59h1M310.5 55.5h1M326 50.5h1M325.5 53h1M310.5 49h1M321.5 50.5h1M321 47h1M323 61h1M325 51.5h1M319 50h1M314 49h1M316.5 56.5h1M312 54.5h1M315 52h1M316 47h1M327 50.5h1M310 53h1M319 43.5h1M315 51.5h1M324.5 50h1M313 53h1M322 57h1M322 54.5h1M322.5 51.5h1M319.5 56h1M318.5 51.5h1M319 58h1M317 58.5h1M314 56h1M313 54.5h1M311 54h1M323 56.5h1M321 56h1M320 55h1M322 54h1M327.5 50h1M316 54.5h1M316 56h1M315.5 52.5h1M324.5 44.5h1M314.5 56.5h1M317 54h1M313.5 55.5h1M320 54.5h1M327.5 55h1M327 45.5h1M319.5 57.5h1M315.5 54h1M312 50.5h1M319 58.5h1M325.5 43h1M316 46h1M316 53h1M322 59h1M323 45.5h1M321 50.5h1M318.5 55.5h1M311 53.5h1M320 50h1M312.5 53h1M319.5 58.5h1M322 51.5h1M314.5 53h1M313 55h1M326 50h1M309.5 54h1M314 50.5h1M317 49h1M323 54h1M311 50.5h1M315 49.5h1M326 47.5h1M325.5 49h1M313.5 55h1M317.5 54.5h1M318 51h1M320 48.5h1M318.5 50h1M318.5 53.5h1M322 49.5h1M322.5 47.5h1M316 56.5h1M316.5 49h1M319.5 49.5h1M313 49.5h1M310 51.5h1M315 53h1M320.5 55.5h1M326.5 51.5h1M310.5 47h1M317.5 52h1M316.5 57.5h1M318.5 58h1M326.5 46.5h1M314.5 46.5h1M319 54.5h1M313 56.5h1M323.5 55.5h1M311.5 53h1M320 58h1M322.5 52h1M322.5 52.5h1M319 49.5h1M322 52h1M322 55h1M321 56.5h1M320 51h1M324 51h1M319.5 53h1M320.5 55h1M321 48h1M311 53h1M314 48h1M314 45.5h1M316.5 54h1M323.5 46.5h1M311 52.5h1M324 56.5h1M316.5 46h1M322.5 49.5h1M317 55h1M317.5 49h1M317 53.5h1M321 45h1M314.5 58.5h1M325.5 52h1M313.5 53.5h1M319 52.5h1M329 55h1M327 52h1M312 48h1M313.5 48h1M319.5 57h1M323 57.5h1M319 53h1M323.5 44.5h1M320.5 45.5h1M321 59h1M324.5 55.5h1M313 48h1M322.5 54h1M311.5 47h1M315.5 50h1M310 52.5h1M323 52h1M324.5 52.5h1M321.5 53h1M319 49h1M317.5 51.5h1M321.5 56.5h1M326 56.5h1M317.5 48.5h1M315.5 57h1M314 52.5h1M325.5 46h1M316 44.5h1M311.5 49.5h1M326 49h1M311 50h1M321.5 54h1M312.5 49.5h1M314 54.5h1M311.5 51h1M313 52.5h1M317.5 49.5h1M320 45h1M312.5 50h1M315 53.5h1M325 52h1M322 56.5h1M328.5 53.5h1M314.5 47h1M311.5 58h1M324.5 48h1M314.5 48.5h1M310.5 55h1M312.5 56h1M312 55h1M321 58h1M322 55.5h1M322.5 46.5h1M319.5 51h1M322 46.5h1M316.5 52h1M316.5 45h1M318 45.5h1M319.5 55.5h1M322 48h1M316.5 54.5h1M318 56.5h1M317.5 45h1M326 47h1M314 51h1M315.5 59.5h1M317.5 47.5h1M320 49h1M317.5 47h1M323.5 59h1M317 51.5h1M316.5 55h1M314.5 50h1M318 52h1M323 50.5h1M317 46h1M322 50.5h1M316 51.5h1M318.5 48.5h1M310.5 52h1M319 45h1M317.5 50h1M321 52.5h1M326 46.5h1M318 53.5h1M329 51.5h1M311 51.5h1M320.5 42.5h1M325 47.5h1M314 59h1M318.5 48h1M315.5 56.5h1M320.5 50h1M324 54h1M323 55.5h1M317 53h1M324.5 48.5h1M316 49h1M314 56.5h1M318 50h1M315 54.5h1M317 51h1M316 57h1M317.5 51h1M314.5 47.5h1M323.5 55h1M319.5 44h1M322 51h1M316.5 52.5h1M316 59h1M320 58.5h1M320.5 52h1M319 50.5h1M322.5 59h1M326 49.5h1M320.5 53h1M310.5 57h1M313 56h1M310.5 53.5h1M318.5 54h1M313.5 49h1M324 54.5h1M327.5 52.5h1M325.5 49.5h1M312 57.5h1M319 47.5h1M322 52.5h1M318.5 47.5h1M310.5 52.5h1M323 54.5h1M330 44.5h1M326 55.5h1M324.5 59.5h1M312 51h1M330 43h1M314.5 57h1M321.5 57.5h1M312.5 59h1M316.5 60h1M330.5 46h1M310 57h1M316 54h1M316 52h1M317.5 57h1M323.5 47.5h1M311.5 54.5h1M317 49.5h1M326 51.5h1M323.5 44h1M324.5 50.5h1M315.5 58.5h1M323.5 54.5h1M320.5 52.5h1M318 51.5h1M320.5 47.5h1M312.5 54h1M314 55h1M323.5 49h1M322 50h1M320.5 51.5h1M314 57.5h1M315 45h1M320.5 56.5h1M318.5 46h1M323 51.5h1M310 49.5h1M316 49.5h1M316.5 55.5h1M315.5 43.5h1M311.5 48h1M325 53h1M315.5 55.5h1M316 51h1M318.5 47h1M321 53.5h1M321.5 52h1M316.5 46.5h1M314.5 53.5h1M317 50.5h1M314.5 48h1M318.5 56.5h1M321.5 49.5h1M322.5 45.5h1M327.5 42h1M328 47.5h1M327 42.5h1M329.5 45.5h1M323 52.5h1M323.5 46h1M335 43h1M325.5 42h1M331.5 43h1M323 53.5h1M328.5 47.5h1M330 47h1M334 42.5h1M328.5 43.5h1M326.5 46h1M327.5 43.5h1M320.5 57.5h1M322 49h1M311.5 49h1M317.5 46h1M334.5 49h1M334.5 41h1M331 42.5h1M335 40.5h1M323.5 45h1M327.5 44.5h1M327 48h1M328 49h1M319.5 47.5h1M321.5 44h1M325 44.5h1M333.5 50h1M329 48.5h1M329.5 45h1M325 49h1M319.5 46h1M335 50.5h1M333.5 51h1M330.5 42h1M321.5 47.5h1M329.5 46.5h1M333.5 42.5h1M322 43h1M324.5 42.5h1M326 48h1M324 50.5h1M327 44.5h1M322 45h1M323 47.5h1M327 43h1M327 47.5h1M318 54h1M327.5 53h1M317 56h1M324.5 49.5h1M328 46.5h1M324.5 49h1M328.5 46.5h1M331 44.5h1M320.5 49h1M328.5 47h1" stroke="#000" stroke-width="1" fill="none"/>
<path class="dots" d="M319.5 40.3h.9M324.0 50.4h.9M336.6 38.6h.9M319.8 35.7h.9M332.9 37.8h.9M321.0 37.1h.9M328.0 38.9h.9M320.3 34.7h.9M333.4 35.3h.9M319.6 39.8h.9M320.5 42.0h.9M326.3 31.8h.9M342.5 37.9h.9M321.6 41.9h.9M324.2 48.4h.9M328.2 34.3h.9M315.9 37.9h.9M327.6 36.6h.9M332.3 44.5h.9M325.6 42.5h.9M313.8 40.3h.9M318.8 40.5h.9M319.2 43.3h.9M322.2 34.8h.9M333.0 24.4h.9M322.1 38.2h.9M326.2 42.2h.9M327.5 37.3h.9M321.2 42.8h.9M319.8 35.6h.9M313.2 41.1h.9M324.2 38.6h.9M324.9 44.5h.9M320.5 36.3h.9M330.7 26.9h.9M327.1 40.1h.9M333.3 35.1h.9M330.5 41.3h.9M313.3 40.4h.9M319.3 40.4h.9M328.1 35.4h.9M326.4 45.8h.9M326.4 40.7h.9M324.7 37.0h.9M320.3 40.7h.9M328.1 44.9h.9M326.5 33.4h.9M326.1 51.3h.9M318.7 40.4h.9M327.0 39.0h.9M333.5 29.9h.9M322.9 36.2h.9M319.9 34.0h.9M325.8 38.5h.9M325.9 44.0h.9M316.9 41.1h.9M333.6 28.0h.9M328.5 38.1h.9M325.6 38.5h.9M322.2 31.3h.9M321.4 37.7h.9M323.1 35.2h.9M316.9 35.2h.9M323.5 42.0h.9M319.2 45.0h.9M324.4 35.1h.9M334.8 19.7h.9M335.8 56.4h.9M332.8 28.5h.9M349.4 13.8h.9M329.3 16.4h.9M334.2 17.9h.9M321.8 43.9h.9M321.6 28.4h.9M342.5 32.1h.9M320.3 46.6h.9M339.1 32.1h.9M318.6 53.7h.9M339.3 11.5h.9M339.1 49.7h.9M324.5 24.6h.9M324.9 37.5h.9M342.5 40.8h.9M333.9 57.2h.9M343.1 56.3h.9M344.4 17.4h.9M347.6 50.1h.9M315.6 35.9h.9M316.2 20.8h.9M321.2 20.6h.9M331.8 45.7h.9M343.2 61.9h.9M351.9 35.5h.9M321.2 12.4h.9M325.9 44.2h.9M325.0 52.0h.9M311.4 51.5h.9M323.9 47.8h.9M319.2 44.2h.9M324.6 50.4h.9M316.5 44.9h.9M313.8 52.5h.9M324.1 54.3h.9M315.6 54.6h.9M323.2 49.9h.9M318.1 54.4h.9M325.0 59.3h.9M318.9 50.2h.9M318.8 54.1h.9M329.5 51.4h.9M316.7 45.7h.9M318.2 59.5h.9M319.6 54.5h.9M315.6 53.1h.9M313.5 58.1h.9M319.8 42.6h.9M321.7 54.4h.9M316.0 44.3h.9M316.2 52.1h.9M310.9 52.2h.9M324.4 53.6h.9M315.0 46.4h.9M320.8 50.5h.9M313.2 52.0h.9M320.2 51.9h.9M317.5 59.9h.9M316.8 51.9h.9M310.4 52.2h.9M322.7 50.0h.9M310.3 47.9h.9M313.5 54.4h.9M311.4 51.2h.9M317.9 54.2h.9M315.9 56.0h.9M318.8 54.5h.9M314.1 57.3h.9M314.0 47.9h.9M313.9 58.5h.9M329.0 45.5h.9M320.7 42.7h.9M313.4 47.4h.9M325.4 45.7h.9M320.3 51.2h.9M319.0 52.5h.9M314.0 48.7h.9M313.8 58.9h.9M322.5 47.1h.9M321.3 61.5h.9M323.3 51.9h.9M318.7 52.6h.9M317.6 47.3h.9M311.7 53.9h.9M319.0 52.7h.9M325.0 48.2h.9M320.3 48.1h.9M316.0 55.9h.9M316.4 52.1h.9M314.4 51.2h.9M314.7 51.2h.9M314.7 54.4h.9M321.2 44.1h.9M321.5 53.2h.9M318.5 45.7h.9M323.1 48.6h.9M323.1 49.7h.9M319.6 59.2h.9M312.6 55.1h.9M314.2 52.4h.9M314.0 48.4h.9M331.4 47.6h.9M310.9 52.0h.9M314.4 48.7h.9M318.6 56.0h.9M311.8 57.7h.9M331.4 42.3h.9M315.1 55.7h.9M326.8 52.8h.9M319.0 49.4h.9M329.6 45.5h.9M315.3 45.0h.9M314.9 58.6h.9M314.6 50.9h.9M317.8 57.5h.9M316.5 56.4h.9M322.8 50.3h.9M326.9 50.3h.9M318.6 55.3h.9M320.3 55.9h.9M324.1 53.0h.9M310.6 51.7h.9M321.8 49.0h.9M323.7 47.7h.9M317.7 53.1h.9M313.4 54.3h.9M315.5 54.4h.9M315.6 54.0h.9M314.5 44.4h.9M317.9 47.7h.9M317.4 44.9h.9M321.9 41.6h.9M317.4 52.9h.9M318.6 61.0h.9M314.1 54.8h.9M316.8 51.5h.9M318.8 58.2h.9M331.5 49.7h.9M325.3 36.6h.9M323.7 48.4h.9M319.8 49.7h.9M323.7 54.0h.9M320.3 59.0h.9M319.1 38.1h.9M310.7 55.1h.9M319.4 51.2h.9M321.7 52.2h.9M315.4 52.6h.9M317.8 51.3h.9M313.3 45.3h.9M319.1 56.5h.9M312.7 47.0h.9M310.4 53.4h.9M315.1 49.6h.9M331.9 53.4h.9M321.3 51.1h.9M321.8 55.8h.9M316.0 56.8h.9M320.6 48.0h.9M326.3 52.2h.9M327.7 47.1h.9M313.4 56.6h.9M310.5 50.4h.9M317.8 52.2h.9M323.3 60.4h.9M320.9 57.3h.9M320.1 53.6h.9M320.3 54.8h.9M328.5 43.8h.9M327.1 43.1h.9M313.1 54.5h.9M313.7 40.5h.9M322.7 47.0h.9M314.0 59.5h.9M320.4 50.3h.9M320.7 58.1h.9M321.5 57.4h.9M311.7 50.2h.9M316.6 49.8h.9M320.4 55.0h.9M318.8 58.3h.9M318.4 51.5h.9M318.7 47.0h.9M312.7 39.0h.9M312.9 57.1h.9M333.1 41.2h.9M320.6 54.2h.9M318.1 60.3h.9M314.3 58.6h.9M317.7 53.5h.9M312.5 52.8h.9M315.9 49.4h.9M316.9 51.3h.9M323.7 51.7h.9M325.8 47.9h.9M322.0 42.6h.9M319.8 41.7h.9M320.1 58.0h.9M317.4 57.6h.9M326.9 51.2h.9M324.0 48.8h.9M318.2 46.4h.9M315.0 55.9h.9M326.1 44.4h.9M318.2 52.6h.9M318.1 48.2h.9M314.1 48.4h.9M322.1 52.2h.9M321.5 60.0h.9M322.2 56.7h.9M318.6 47.8h.9M323.4 49.2h.9M322.7 50.7h.9M324.6 44.8h.9M314.6 52.2h.9M317.0 53.6h.9M322.7 46.9h.9M320.5 53.1h.9M313.5 57.4h.9M317.4 51.0h.9M320.4 49.2h.9M323.9 45.4h.9M326.0 55.3h.9M322.6 58.4h.9M327.2 46.0h.9M327.2 51.6h.9M324.8 52.0h.9M318.0 54.9h.9M325.3 60.9h.9M318.9 51.4h.9M322.6 51.5h.9M315.9 57.0h.9M314.6 53.0h.9M314.6 44.8h.9M324.3 60.0h.9M320.6 44.7h.9M324.7 46.6h.9M317.0 48.1h.9M316.2 53.3h.9M310.3 51.7h.9M317.8 49.7h.9M322.1 42.9h.9M316.7 46.9h.9M312.7 58.2h.9M319.4 59.5h.9M324.6 50.4h.9M331.8 46.3h.9M318.9 52.6h.9M319.6 51.6h.9M318.1 50.5h.9M323.2 45.0h.9M324.9 41.4h.9M320.2 59.8h.9M313.3 48.3h.9M312.0 58.6h.9M319.4 52.6h.9M314.8 41.2h.9M320.8 53.6h.9M321.2 54.9h.9M316.3 52.2h.9M319.3 55.8h.9M315.5 57.4h.9M319.6 48.6h.9M316.0 55.9h.9M322.2 56.1h.9M327.8 52.9h.9M320.2 54.4h.9M318.2 49.6h.9M321.7 56.6h.9M327.6 46.2h.9M320.9 46.3h.9M318.1 46.8h.9M318.3 49.5h.9M320.7 47.8h.9M323.8 42.0h.9M319.7 61.0h.9M329.4 55.8h.9M325.4 54.9h.9M319.5 49.9h.9M315.5 61.8h.9M323.4 52.1h.9M321.3 58.0h.9M315.2 60.5h.9M318.9 61.9h.9M317.8 52.9h.9M313.0 59.5h.9M326.1 49.2h.9M322.2 44.9h.9M320.0 52.4h.9M314.7 57.1h.9M311.8 52.7h.9M324.6 48.5h.9M322.3 47.0h.9M325.7 42.3h.9M314.0 49.8h.9M316.2 47.6h.9M318.4 53.7h.9M324.9 53.3h.9M320.9 45.5h.9M325.6 55.8h.9M314.1 53.6h.9M312.9 50.0h.9M313.4 56.5h.9M325.5 53.8h.9M325.2 56.0h.9M316.9 53.0h.9M317.1 51.6h.9M318.9 46.9h.9M324.9 51.4h.9M325.4 51.7h.9M324.2 55.4h.9M324.1 50.1h.9M316.8 59.2h.9M332.9 54.9h.9M314.2 43.9h.9M315.7 47.1h.9M325.0 49.6h.9M324.3 44.9h.9M317.5 42.8h.9M326.2 52.9h.9M321.3 54.2h.9M318.7 60.2h.9M312.6 52.2h.9M311.2 54.0h.9M321.9 51.1h.9M324.9 41.0h.9M326.6 50.8h.9M315.3 57.5h.9M314.9 53.0h.9M312.7 47.8h.9M319.8 49.5h.9M316.6 51.1h.9M319.2 51.6h.9M326.2 54.6h.9M312.1 56.3h.9M327.4 55.5h.9M324.3 52.5h.9M315.9 61.0h.9M313.9 59.0h.9M321.6 53.8h.9M324.0 41.8h.9M320.7 57.6h.9M324.4 55.9h.9M319.4 41.8h.9M318.1 52.8h.9M322.2 52.2h.9M315.7 56.0h.9M321.3 48.6h.9M318.4 52.0h.9M320.6 45.9h.9M323.2 51.2h.9M313.9 54.1h.9M333.8 50.9h.9M320.8 60.0h.9M319.1 58.7h.9M329.2 18.5h.9M333.0 17.4h.9M314.8 19.4h.9M325.1 18.8h.9M343.0 21.7h.9M325.7 30.6h.9M337.0 19.0h.9M346.4 20.5h.9M350.6 22.7h.9M338.5 16.6h.9M345.3 28.2h.9M344.5 19.4h.9M352.4 24.5h.9M344.6 22.3h.9M310.4 29.3h.9M346.6 25.4h.9M354.5 22.1h.9M350.1 25.1h.9M345.3 20.9h.9M321.2 41.0h.9M316.5 61.7h.9M318.4 61.3h.9M313.9 43.5h.9M315.1 41.9h.9M311.2 44.5h.9M310.8 58.3h.9M315.4 41.9h.9M326.3 60.1h.9M318.9 41.8h.9M323.3 61.7h.9M319.0 61.6h.9M334.3 39.4h.9M337.3 40.0h.9M329.5 50.9h.9M330.1 50.2h.9M332.3 37.9h.9M324.8 39.3h.9M334.5 45.6h.9M337.8 42.9h.9M333.0 46.2h.9M335.3 39.3h.9M335.3 45.0h.9M335.9 42.4h.9M324.3 41.4h.9M332.0 47.1h.9" stroke="#000" stroke-width="0.9" stroke-opacity="0.5" fill="none"/>
<line x1="309.5" y1="7.5" x2="372.5" y2="7.5" stroke="#909090" stroke-width="1"/>
<line x1="372.5" y1="7.5" x2="372.5" y2="63.5" stroke="#909090" stroke-width="1"/>
<line x1="309.5" y1="7.0" x2="309.5" y2="64.0" stroke="#3a3a3a" stroke-width="1"/>
<line x1="309.5" y1="63.5" x2="373.0" y2="63.5" stroke="#3a3a3a" stroke-width="1"/>
<line x1="330.5" y1="7.5" x2="330.5" y2="63.5" stroke="#888" stroke-width="1"/>
<line x1="309.5" y1="43.5" x2="372.5" y2="43.5" stroke="#999" stroke-width="1"/>
<text x="307.4" y="67.5" font-size="3.4" fill="#000">10<tspan font-size="2.6" dy="-1.2">0</tspan></text>
<line x1="307.9" y1="63.2" x2="309.5" y2="63.2" stroke="#444" stroke-width="0.6"/>
<text x="303.4" y="64.9" font-size="3.4" fill="#000">10<tspan font-size="2.6" dy="-1.2">0</tspan></text>
<text x="323.1" y="67.5" font-size="3.4" fill="#000">10<tspan font-size="2.6" dy="-1.2">1</tspan></text>
<line x1="307.9" y1="49.3" x2="309.5" y2="49.3" stroke="#444" stroke-width="0.6"/>
<text x="303.4" y="51.0" font-size="3.4" fill="#000">10<tspan font-size="2.6" dy="-1.2">1</tspan></text>
<text x="338.9" y="67.5" font-size="3.4" fill="#000">10<tspan font-size="2.6" dy="-1.2">2</tspan></text>
<line x1="307.9" y1="35.5" x2="309.5" y2="35.5" stroke="#444" stroke-width="0.6"/>
<text x="303.4" y="37.2" font-size="3.4" fill="#000">10<tspan font-size="2.6" dy="-1.2">2</tspan></text>
<text x="354.6" y="67.5" font-size="3.4" fill="#000">10<tspan font-size="2.6" dy="-1.2">3</tspan></text>
<line x1="307.9" y1="21.6" x2="309.5" y2="21.6" stroke="#444" stroke-width="0.6"/>
<text x="303.4" y="23.3" font-size="3.4" fill="#000">10<tspan font-size="2.6" dy="-1.2">3</tspan></text>
<text x="370.3" y="67.5" font-size="3.4" fill="#000">10<tspan font-size="2.6" dy="-1.2">4</tspan></text>
<line x1="307.9" y1="7.7" x2="309.5" y2="7.7" stroke="#444" stroke-width="0.6"/>
<text x="303.4" y="9.4" font-size="3.4" fill="#000">10<tspan font-size="2.6" dy="-1.2">4</tspan></text>
<text x="369.7" y="18.0" font-size="8.6" text-anchor="end" font-weight="normal" font-style="normal" fill="#000" class="p">19%</text>
<text x="300.8" y="43.5" font-size="10.5" text-anchor="middle" font-weight="normal" font-style="normal" fill="#000" transform="rotate(-90 300.8 43.5)">CD4</text>
<path class="dots" d="M340.5 90h1M336 87h1M344.5 90h1M344.5 87h1M324.5 89.5h1M354.5 90h1M343 90.5h1M343.5 88.5h1M338 87.5h1M349 91h1M333 88h1M319.5 90.5h1M329 89h1M329.5 89h1M347.5 88.5h1M339.5 89h1M330.5 91.5h1M335.5 89.5h1M350.5 87.5h1M326.5 89.5h1M335.5 88.5h1M350.5 90.5h1M337 90h1M344 87h1M322.5 91.5h1M326.5 90.5h1M352.5 89h1M351 88h1M326 92.5h1M331 89.5h1M346.5 89.5h1M335.5 90h1M326.5 88.5h1M329.5 90h1M325 91h1M353.5 89.5h1M329.5 86h1M347.5 86h1M332.5 90h1M328 88.5h1M350.5 85h1M357 91h1M331.5 91h1M333.5 88.5h1M333.5 90h1M334 92.5h1M319 88.5h1M333.5 89.5h1M323.5 87.5h1M353.5 88h1M343.5 89h1M339 89h1M329.5 89.5h1M347.5 88h1M356.5 85.5h1M325 92h1M330 88.5h1M342 89h1M334.5 91h1M326 90.5h1M343 87h1M354 90.5h1M324.5 92.5h1M356 88.5h1M337.5 90.5h1M340 89h1M350 89.5h1M357.5 85h1M329 90h1M328 90.5h1M345 86.5h1M346.5 88.5h1M360.5 85.5h1M335 90h1M341 86.5h1M330.5 86.5h1M356 89h1M339 87.5h1M319.5 88h1M334.5 88.5h1M321 91h1M336.5 89h1M325.5 88.5h1M353 88h1M358.5 88.5h1M323 89h1M327.5 91h1M339.5 90h1M350 88.5h1M360 89.5h1M331.5 89.5h1M337.5 89.5h1M324.5 88.5h1M354.5 90.5h1M336.5 89.5h1M325 90.5h1M341.5 88.5h1M317.5 92h1M337.5 87.5h1M340 90.5h1M327 89.5h1M332.5 91.5h1M338 92h1M359 90h1M339 86h1M337 92h1M346 88h1M343.5 85.5h1M341 90.5h1M357.5 86.5h1M351.5 90h1M360 84.5h1M344 87.5h1M342.5 90.5h1M343.5 92h1M356.5 84h1M325.5 87.5h1M320.5 90h1M351 87h1M351.5 88h1M337.5 92h1M351.5 88.5h1M324 88.5h1M344 88h1M324 90.5h1M357 86h1M318 92h1M334 93h1M329 87h1M333 89h1M341 87h1M351 89h1M354 88h1M337.5 84.5h1M351 89.5h1M323 88h1M333 89.5h1M341.5 90h1M341.5 92h1M355.5 90h1M334 88.5h1M338 88.5h1M355 88.5h1M319.5 89h1M349 85.5h1M327 87h1M350.5 89.5h1M350.5 87h1M337 87.5h1M350.5 90h1M324.5 90h1M328 88h1M338.5 91.5h1M336 88.5h1M348.5 88.5h1M331.5 89h1M342.5 87h1M359 88h1M323 92h1M342.5 87.5h1M346 89.5h1M330.5 87.5h1M326.5 87h1M347 87h1M350.5 89h1M346 85h1M329.5 88.5h1M358 90h1M358 89.5h1M328.5 90.5h1M344.5 88.5h1M350 88h1M364.5 90h1M350 90h1M339.5 90.5h1M318.5 89.5h1M330.5 89h1M327 91h1M325 91.5h1M334 88h1M345 88h1M335 89h1M348.5 87h1M360 88.5h1M345 85.5h1M353.5 87h1M344 91h1M356.5 86.5h1M357.5 90.5h1M338 89.5h1M355 87.5h1M330 88h1M334.5 89h1M343 88h1M323.5 92h1M349 87h1M324.5 89h1M335.5 86.5h1M336 89.5h1M342 89.5h1M347.5 90.5h1M341.5 85.5h1M335.5 91.5h1M343.5 88h1M349.5 88h1M349.5 87.5h1M327.5 93h1M332.5 89.5h1M346 91.5h1M355.5 87.5h1M341.5 86.5h1M323 90.5h1M343 89.5h1M334.5 88h1M334 89h1M341 89.5h1M338.5 92.5h1M348.5 90.5h1M347 88.5h1M330.5 88h1M342.5 88.5h1M325.5 90.5h1M345.5 87.5h1M356.5 86h1M348 89.5h1M357 92h1M352 90.5h1M324.5 91.5h1M340 88h1M332.5 88h1M355.5 85.5h1M333.5 91.5h1M328 89h1M346 86h1M326 92h1M343 89h1M342.5 85.5h1M340.5 87.5h1M337 91h1M339 91h1M362 89h1M338.5 89h1M327.5 89h1M356 89.5h1M331.5 87h1M344.5 89.5h1M356.5 88.5h1M356.5 90h1M352.5 87.5h1M348 88h1M323.5 88.5h1M338.5 90h1M346 90h1M346 91h1M356.5 87.5h1M325 88.5h1M326.5 90h1M325.5 91h1M340 92h1M328 91h1M342 88.5h1M347 86h1M324 90h1M358 88h1M352.5 88.5h1M357.5 86h1M323 91h1M343.5 86.5h1M343.5 87.5h1M328.5 88.5h1M322.5 89h1M318 90h1M358.5 87h1M352.5 86h1M342 87h1M337.5 91.5h1M349.5 92h1M340 93h1M341.5 88h1M328 87.5h1M337.5 88.5h1M342 87.5h1M349 89.5h1M327.5 90.5h1M326 89.5h1M354.5 85.5h1M343 88.5h1M355 88h1M338.5 91h1M332.5 91h1M343 91.5h1M318 92.5h1M330 89h1M326.5 89h1M344 89h1M339.5 91h1M335 88.5h1M331.5 88h1M358 88.5h1M326 88.5h1M335 91h1M351 88.5h1M351 90h1M341 87.5h1M341 88.5h1M335 87.5h1M335 90.5h1M321 89.5h1M326 91.5h1M335.5 89h1M354.5 88h1M349 90h1M337 85.5h1M357.5 87.5h1M354 87.5h1M325.5 93h1M325 93.5h1M337.5 85.5h1M346 87h1M341.5 89h1M344.5 89h1M336 88h1M329.5 92h1M344 88.5h1M343 91h1M345 91.5h1M359.5 86h1M342 90.5h1M331 91.5h1M343 86.5h1M339 90h1M350.5 91.5h1M352.5 90h1M351 86h1M359.5 90h1M325.5 91.5h1M362 87.5h1M346.5 86.5h1M345.5 92h1M334 87.5h1M326.5 93h1M322 88h1M336.5 88.5h1M345.5 88h1M348 88.5h1M331 86h1M345.5 85h1M328 92.5h1M337.5 91h1M322.5 90h1M328.5 89h1M327.5 92h1M351.5 89h1M331.5 94.5h1M334 90h1M337.5 87h1M326.5 88h1M348 89h1M338 93.5h1M327 90.5h1M330 92h1M336 91h1M321.5 89.5h1M348.5 87.5h1M332 88h1M346.5 89h1M334 89.5h1M340.5 92.5h1M335.5 92h1M347.5 86.5h1M345 92.5h1M324 87.5h1M351.5 89.5h1M357 87h1M325.5 86.5h1M356 87.5h1M329.5 90.5h1M344 90h1M322.5 86h1M354 89.5h1M359 87.5h1M356.5 89h1M340.5 88h1M349.5 87h1M333 91.5h1M353 88.5h1M356.5 87h1M346.5 90h1M323.5 89.5h1M344 89.5h1M328.5 87.5h1M323 90h1M340.5 86.5h1M336.5 86.5h1M361.5 86.5h1M331.5 92h1M355.5 86.5h1M328 89.5h1M333.5 88h1M356 90.5h1M352 87.5h1M357 87.5h1M351.5 87h1M346.5 91h1M322 90.5h1M342.5 86h1M357 88.5h1M350 91.5h1M347 92h1M334 90.5h1M360 90h1M338.5 88.5h1M337 88.5h1M320.5 87.5h1M333.5 87.5h1M333 90h1M350.5 88h1M332 87.5h1M349.5 91.5h1M349.5 88.5h1M354 88.5h1M347 91h1M334.5 89.5h1M349.5 90h1M336 87.5h1M352 89h1M330 87.5h1M324.5 87.5h1M352 89.5h1M336.5 90h1M331 90h1M345 89h1M331 92h1M355 91.5h1M325.5 87h1M341.5 89.5h1M356 90h1M330.5 88.5h1M360.5 88h1M351.5 87.5h1M362.5 86.5h1M345.5 89.5h1M339 89.5h1M340.5 86h1M342.5 86.5h1M358 90.5h1M322 90h1M349.5 89h1M321.5 91h1M341 92h1M356.5 89.5h1M341.5 87.5h1M350.5 88.5h1M343.5 89.5h1M336.5 88h1M326 87.5h1M336 89h1M360 88h1M355 91h1M340 86.5h1M341 91.5h1M318 91.5h1M347 89h1M331 90.5h1M357.5 84.5h1M353 87h1M335 86h1M346 90.5h1M345.5 86.5h1M339.5 86.5h1M340.5 88.5h1M342.5 88h1M332.5 89h1M358.5 90h1M337.5 88h1M348 86.5h1M338 90.5h1M343.5 90h1M322.5 87.5h1M342.5 90h1M346.5 88h1M326 89h1M347 88h1M324 88h1M327 90h1M330 89.5h1M330.5 90h1M342.5 91h1M319 91h1M320.5 89h1M351 91.5h1M334.5 91.5h1M323 88.5h1M340 90h1M323.5 91.5h1M324 89h1M330 90.5h1M349 90.5h1M354.5 88.5h1M336.5 87h1M346.5 90.5h1M335.5 91h1M354 86.5h1M347.5 89h1M327.5 91.5h1M338 89h1M324.5 88h1M342.5 89.5h1M321 90h1M352 88h1M345 90.5h1M353 86.5h1M355 87h1M335 86.5h1M331 91h1M321.5 90h1M326 87h1M329.5 91h1M359 89.5h1M339 87h1M337 89h1M315 93h1M344.5 92h1M319 93h1M335 89.5h1M341 88h1M341 91h1M348 92h1M338 88h1M321.5 93h1M336.5 90.5h1M345 87h1M355.5 88h1M356.5 88h1M361.5 87.5h1M337.5 86.5h1M356 88h1M339 93.5h1M353 84.5h1M340 87.5h1M324 91h1M348.5 88h1M323 89.5h1M349 89h1M334.5 90.5h1M330 87h1M339 85.5h1M353 90h1M345 90h1M359.5 87h1M335 91.5h1M343.5 87h1M328.5 94h1M327 88h1M338.5 88h1M342 86h1M333 90.5h1M346.5 86h1M326 88h1M331.5 87.5h1M327.5 90h1M336 91.5h1M339.5 88h1M358.5 90.5h1M357 90h1M333.5 89h1M338 90h1M352.5 88h1M327.5 88.5h1M354.5 87h1M325 89h1M326 93h1M343 87.5h1M336.5 87.5h1M338.5 87h1M353.5 89h1M333.5 90.5h1M338 86.5h1M349.5 89.5h1M359.5 89h1M355 92.5h1M353 86h1M347 89.5h1M336 90.5h1M346.5 87.5h1M332 92h1M340.5 87h1M343.5 86h1M352.5 92h1M354 90h1M343.5 91.5h1M332.5 87.5h1M323 93h1M318.5 91.5h1M355.5 88.5h1M340.5 91.5h1M329 91.5h1M353 90.5h1M328.5 88h1M348 90h1M354 86h1M322 88.5h1M332 91.5h1M348.5 89.5h1M338.5 86.5h1M327.5 88h1M328 91.5h1M330.5 91h1M321.5 88h1M348.5 89h1M337.5 89h1M335.5 87h1M348 90.5h1M329 89.5h1M358.5 89h1M325 90h1M337.5 86h1M354.5 89h1M349.5 85.5h1M355 89.5h1M364.5 88h1M338.5 87.5h1M365 88h1M324.5 90.5h1M352 88.5h1M345 86h1M356 87h1M344.5 90.5h1M333 92h1M349 88.5h1M343 90h1M326.5 91h1M361 89.5h1M342.5 89h1M327.5 89.5h1M341.5 90.5h1M352.5 85.5h1M354.5 91.5h1M332 92.5h1M345.5 87h1M349 87.5h1M341 90h1M322 91h1M332 90h1M336 92h1M331 89h1M330 91h1M336.5 92.5h1M324 93h1M344.5 91h1M336 90h1M357 89h1M355 90h1M328.5 91.5h1M349.5 86h1M320.5 88h1M336.5 92h1M328 93h1M353.5 87.5h1M345.5 89h1M323.5 90h1M350 87.5h1M359.5 86.5h1M352 93h1M344 92h1M358.5 88h1M357 88h1M321 88.5h1M341 89h1M327.5 87.5h1M345.5 85.5h1M316 87.5h1M361 87.5h1M335.5 93h1M333 93.5h1M329 86.5h1M335.5 87.5h1M323.5 90.5h1M346 89h1M338.5 93.5h1M347 86.5h1M345.5 86h1M351.5 86.5h1M331.5 88.5h1M351.5 90.5h1M348 86h1M346.5 87h1M357.5 89h1M334.5 90h1M361.5 90h1M340 89.5h1M329 90.5h1M338.5 89.5h1M344.5 91.5h1M343.5 91h1M332 89.5h1M355.5 86h1M323.5 88h1M340 88.5h1M339 91.5h1M319.5 87h1M358 89h1M319.5 89.5h1M325 89.5h1M325 93h1M354.5 89.5h1M345.5 91.5h1M355 89h1M325.5 90h1M347 90h1M324.5 86.5h1M329 91h1M333 87h1M351.5 86h1M360.5 89h1M359.5 88h1M335 87h1M346.5 91.5h1M346 87.5h1M352 87h1M350 86h1M339 88.5h1M357.5 88.5h1M332 89h1M356.5 84.5h1M327 89h1M337 90.5h1M348 87h1M357.5 87h1M333 87.5h1M321 92h1M349.5 90.5h1M359.5 90.5h1M331.5 90.5h1M355.5 87h1M354 89h1M330.5 90.5h1M345 91h1M326 90h1M360 87.5h1M347.5 90h1M323.5 89h1M355 90.5h1M347.5 85.5h1M355.5 91h1M337 88h1M338.5 86h1M340.5 89h1M349 86.5h1M332.5 88.5h1M362 90.5h1M359 91h1M353.5 84h1M321 91.5h1M344 90.5h1M327 87.5h1M334 87h1M348.5 85h1M328 90h1M359.5 89.5h1M330 90h1M321.5 90.5h1M322.5 88.5h1M347 87.5h1M358.5 86.5h1M359.5 87.5h1M348.5 91h1M361 86h1M345.5 90h1M332 90.5h1M332 91h1M344 86.5h1M328.5 90h1M356.5 91h1M347.5 87.5h1M322.5 90.5h1M317.5 90.5h1M360 87h1M358 87.5h1M340 92.5h1M358 86h1M341.5 91h1M359.5 85.5h1M361 87h1M339.5 92h1M353.5 91.5h1M353.5 86h1M340 87h1M320 89.5h1M357 86.5h1M346.5 85.5h1M339.5 89.5h1M333.5 91h1M355 86.5h1M322.5 88h1M347.5 85h1M351.5 91h1M325.5 93.5h1M355 86h1M343.5 90.5h1M356 91h1M342 88h1M353.5 86.5h1M326.5 87.5h1M328 86h1M337 91.5h1M336.5 93h1M361.5 89h1M344.5 88h1M358.5 86h1M353.5 90.5h1M355.5 90.5h1M337.5 93h1M355.5 91.5h1M329.5 91.5h1M359 89h1M343 92h1M348.5 90h1M319.5 91.5h1M345.5 90.5h1M323 91.5h1M323.5 91h1M357 89.5h1M359 85h1M357.5 89.5h1M352.5 85h1M355 85.5h1M334 91.5h1M326.5 91.5h1M335 93h1M328.5 86.5h1M334.5 86.5h1M343.5 93h1M351 91h1M333 92.5h1M343 86h1M331.5 90h1M325.5 89.5h1M347.5 91h1M343 92.5h1M329.5 88h1M347 90.5h1M322.5 89.5h1M338 91h1M349 88h1M332 87h1M354 87h1M329.5 92.5h1M340.5 89.5h1M349.5 84.5h1M355.5 85h1M354.5 87.5h1M355.5 89h1M339.5 91.5h1M324 91.5h1M332 86.5h1M325.5 89h1M356 85.5h1M324.5 92h1M356.5 90.5h1M346 92h1M331 87h1M321.5 88.5h1M336.5 91.5h1M331.5 91.5h1M354 91h1M354 91.5h1M325 88h1M348.5 86.5h1M333.5 87h1M337 86.5h1M322.5 92h1M335.5 88h1M340 91h1M358.5 87.5h1M355.5 89.5h1M359 86.5h1M357.5 90h1M357.5 88h1M342 93.5h1M345.5 88.5h1M324 86.5h1M348.5 91.5h1M323.5 94h1M353.5 90h1M337.5 90h1M327.5 86.5h1M324 89.5h1M351 90.5h1M347 84.5h1M360 84h1M344.5 85.5h1M347.5 87h1M360.5 88.5h1M346.5 84.5h1M352.5 89.5h1M335 92h1M329.5 85.5h1M335.5 90.5h1M334 86.5h1M350 89h1M346 86.5h1M320 92.5h1M334 91h1M357.5 85.5h1M326.5 92h1M334 85h1M358.5 91.5h1M333 86h1M352.5 86.5h1M354.5 86h1M336.5 91h1M356.5 85h1M339.5 87.5h1M351 86.5h1M344 92.5h1M358 86.5h1M320 93h1M348.5 86h1M340.5 90.5h1M358 84.5h1M331 87.5h1M327 92h1M352 91h1M338 92.5h1M344 85.5h1M328.5 92h1M354.5 86.5h1M333 85.5h1M329.5 87.5h1M346.5 92h1M334.5 87.5h1M329 88h1M353 87.5h1M349.5 86.5h1M354 85h1M342.5 91.5h1M345 88.5h1M350 86.5h1M358 87h1M342 91.5h1M352 90h1M333.5 86h1M362.5 88h1M351.5 92.5h1M331 88.5h1M329 92h1M322 86.5h1M360.5 87.5h1M322.5 93.5h1M316.5 91.5h1M320 91h1M329 88.5h1M317 92.5h1M312.5 89.5h1M320 90.5h1M320.5 91h1M315 90.5h1M320 91.5h1M314 90h1M317 88.5h1M317.5 90h1M316 89.5h1M317 90h1M316.5 89h1M310.5 91.5h1M316.5 88h1M318 91h1M311 91.5h1M313.5 91h1M320.5 94h1M315 91h1M320.5 88.5h1M315 91.5h1M315 89h1M320.5 92h1M314.5 93h1M319 91.5h1M320.5 91.5h1M320 92h1M319.5 91h1M317.5 88.5h1M320 90h1M314.5 90h1M325 92.5h1M314.5 89.5h1M319 94h1M314.5 90.5h1M314.5 88.5h1M328 92h1M315.5 90.5h1M318.5 91h1M316 91h1M319.5 90h1M316 94h1M317 89h1M318.5 90h1M314.5 91h1M321.5 89h1M318 89.5h1M313.5 91.5h1M322 91.5h1M317.5 91.5h1M317.5 91h1M314.5 92.5h1M316.5 90.5h1M321 92.5h1M321 88h1M319 92.5h1M315 89.5h1M320.5 90.5h1M316.5 92h1M319 93.5h1M316 90h1M320.5 89.5h1M317 91.5h1M317 91h1M318 90.5h1M316.5 90h1M313 91.5h1M318.5 90.5h1M318.5 93.5h1M322 93h1M324.5 91h1M316 91.5h1M317 93.5h1M312 90h1M322 92h1M314 92.5h1M316.5 92.5h1M315.5 91h1M322 89.5h1M321 89h1M314.5 93.5h1M313 90.5h1M319.5 92h1M315 92.5h1M311 91h1M319 90h1M315 88.5h1M315.5 90h1M317 90.5h1M322.5 91h1M317 92h1M325.5 92h1M319 92h1M320 89h1M317.5 94h1M316 92h1M314.5 89h1M310 91.5h1M314.5 91.5h1M321.5 92.5h1M324 92.5h1M312 91h1M339.5 87h1M341.5 85h1M334.5 93h1M360.5 90h1M330.5 93.5h1M346 93.5h1M346 88.5h1M345 94.5h1M342 94.5h1M355 85h1M356 86h1M361.5 90.5h1M362 88h1M346 83.5h1M362.5 89h1M358.5 89.5h1M345.5 83.5h1M364 88.5h1M329.5 93.5h1M347.5 89.5h1M353.5 92h1M346 84.5h1M352 86.5h1M352 84h1M342.5 92h1M316 93h1M344.5 93.5h1M344.5 87.5h1M346.5 93h1M344.5 94h1M356 84h1M341 94.5h1M323 85h1M342 84.5h1M340 93.5h1M360.5 91h1M318 89h1M354 83.5h1M334 86h1M361 86.5h1M347 92.5h1M330.5 92h1M360.5 86h1M363 87h1M329 93h1M351.5 85h1M361 91h1M332.5 90.5h1M330 85.5h1M341 94h1M318.5 115.5h1M333.5 118h1M343.5 114h1M351.5 114.5h1M352 115.5h1M341 112.5h1M341.5 117h1M343.5 122h1M330 109.5h1M329.5 116.5h1M352.5 119.5h1M321.5 118h1M339.5 113h1M328 113h1M349.5 111.5h1M347 119.5h1M323 120h1M333 116.5h1M333.5 114h1M344 114.5h1M342 122h1M341 110.5h1M317 116.5h1M329.5 117.5h1M328 112.5h1M336 117.5h1M352.5 116h1M357 113h1M319 110h1M317.5 120h1M328.5 112.5h1M345.5 120.5h1M348.5 115.5h1M331.5 115h1M350 112.5h1M358 114.5h1M350.5 112h1M316 112h1M355 112h1M342 113.5h1M347 116.5h1M325 118.5h1M354.5 117h1M328 116.5h1M335 115.5h1M321 115h1M348 110h1M352 114.5h1M317.5 115.5h1M346.5 113h1M341.5 115.5h1M320.5 118.5h1M323.5 117.5h1M344.5 112h1M339.5 111.5h1M351 118.5h1M353 116h1M341 115h1M345 119.5h1M335.5 110h1M319.5 120.5h1M355.5 116.5h1M333.5 116h1M351 114h1M333 122h1M335 113h1M319 118h1M314.5 107.5h1M339.5 115h1M333 115h1M341 111h1M324 116h1M316.5 111h1M352.5 111.5h1M333 119h1M324 115h1M346.5 122h1M347 121.5h1M344 111.5h1M343.5 120h1M349.5 114h1M342.5 119.5h1M322 120h1M334 117.5h1M331.5 119.5h1M329 120h1M336 123h1M320 115.5h1M323.5 115.5h1M320.5 116.5h1M317.5 117.5h1M317.5 114h1M323.5 117h1M343 114h1M325 117h1M346 115.5h1M317 119.5h1M345 115h1M335 117.5h1M347.5 115.5h1M336 112h1M337.5 115.5h1M324.5 113h1M349 118.5h1M331 119h1M357 114h1M324 117.5h1M348.5 112.5h1M318.5 112.5h1M356 115h1M315.5 108.5h1M321.5 119h1M325.5 121h1M317 111h1M333.5 117.5h1M339.5 113.5h1M330 119.5h1M358 117h1M346.5 112h1M332 117h1M319 117.5h1M325 116.5h1M357 119.5h1M329.5 118h1M343 113.5h1M351 115h1M353 111h1M336.5 122.5h1M333.5 111.5h1M329 118.5h1M336.5 118.5h1M330.5 110.5h1M334 119h1M329.5 111h1M353.5 119h1M358.5 118.5h1M322.5 117.5h1M319 111.5h1M338 117.5h1M341.5 116.5h1M355 113.5h1M330 107.5h1M349 117.5h1M337.5 111.5h1M338.5 119.5h1M350.5 113.5h1M322.5 116.5h1M344.5 118h1M343 120.5h1M323 112.5h1M340.5 110h1M350 120.5h1M337.5 122.5h1M334 116h1M327.5 113h1M329 121h1M335.5 114h1M352.5 117h1M335.5 120h1M342 115h1M329.5 112.5h1M316 117.5h1M355.5 118h1M335 111.5h1M351.5 121h1M348.5 114.5h1M323 113.5h1M332 114.5h1M338.5 113.5h1M349 121h1M359 118h1M348 118.5h1M319 116.5h1M331.5 118h1M348.5 111.5h1M332 115.5h1M316.5 117.5h1M341.5 109.5h1M317.5 112h1M331 121.5h1M321.5 116h1M334 120.5h1M348 111.5h1M322.5 118h1M329 111.5h1M344.5 120h1M354.5 111h1M353 114.5h1M324 112h1M331.5 119h1M343.5 112.5h1M315 115h1M356 118.5h1M354.5 117.5h1M346 120h1M322 111h1M331 117h1M333.5 115h1M356.5 112.5h1M339 117h1M349 115h1M329 121.5h1M358.5 117.5h1M343 112.5h1M335 110h1M325 112.5h1M330.5 116h1M326.5 117h1M334 113.5h1M347 117.5h1M351.5 119.5h1M329.5 109h1M323 116h1M351.5 118h1M330 116.5h1M329.5 108.5h1M318 113h1M353.5 117h1M347 115h1M316.5 110.5h1M319 121h1M334.5 115.5h1M316.5 117h1M336 122.5h1M334.5 116.5h1M352.5 114.5h1M329.5 118.5h1M346 121h1M338 119.5h1M335.5 116.5h1M354 111h1M323 111h1M323.5 113h1M333 113.5h1M350.5 113h1M318 118h1M353.5 112h1M345 113.5h1M350 114h1M335 114h1M324.5 118h1M332 118.5h1M321.5 113h1M331 118h1M342.5 110.5h1M341 109h1M333.5 113h1M350.5 112.5h1M331 116h1M314.5 115h1M316.5 115h1M315 111.5h1M337.5 110h1M347 118.5h1M321 114.5h1M355.5 117h1M328.5 117.5h1M344.5 112.5h1M348.5 117.5h1M350.5 119.5h1M326.5 119h1M336 119.5h1M341.5 111h1M356 120h1M353 115.5h1M317 113.5h1M351.5 112.5h1M354 119.5h1M344 110.5h1M349.5 115h1M337.5 110.5h1M354.5 119.5h1M333.5 119.5h1M332.5 114.5h1M341 107h1M329.5 115h1M335 119h1M332.5 112h1M345.5 111h1M355 119.5h1M336.5 119h1M319.5 112h1M336.5 112.5h1M334.5 110.5h1M329 115.5h1M341 118h1M332.5 115.5h1M323 118h1M338.5 114h1M348 116.5h1M326 116.5h1M354 113.5h1M319 120h1M326 119.5h1M341.5 121h1M321.5 111.5h1M347 113.5h1M355.5 112.5h1M333 120h1M352 116h1M336 115h1M331.5 115.5h1M345.5 110.5h1M321 116h1M343 119.5h1M343 114.5h1M317 115h1M346.5 111.5h1M336 118h1M318 112.5h1M325.5 118h1M344 113.5h1M327.5 118h1M319 119.5h1M336 114.5h1M342.5 112h1M351 112.5h1M329 117.5h1M358.5 116h1M336.5 114h1M352 119h1M340.5 113h1M334.5 119h1M329 114.5h1M342 116h1M337 115h1M334 110h1M315 116h1M342.5 114.5h1M334.5 113h1M320.5 117.5h1M321.5 115.5h1M334.5 120.5h1M322 113.5h1M337 121.5h1M349.5 120h1M334 114h1M347 114h1M325 118h1M347 114.5h1M319 112h1M358 117.5h1M323.5 119.5h1M329.5 119h1M327 116.5h1M343 115.5h1M329 116.5h1M337 119.5h1M341 109.5h1M341.5 114h1M335 110.5h1M350 119h1M339 119h1M327 112.5h1M331.5 112.5h1M353.5 119.5h1M347 118h1M331 113.5h1M354 118.5h1M346 113.5h1M343.5 116.5h1M335 116.5h1M331 115.5h1M335.5 113h1M334.5 117h1M322.5 113.5h1M340.5 110.5h1M355.5 113.5h1M336 118.5h1M350 113h1M343.5 116h1M338 117h1M328 114h1M319 118.5h1M340 109h1M325.5 117.5h1M334 115h1M341 113h1M333.5 121h1M338 121.5h1M335.5 117h1M319 119h1M323.5 120.5h1M354 114.5h1M328 116h1M337 111h1M322.5 116h1M329 111h1M342.5 112.5h1M345.5 115.5h1M345.5 109.5h1M350.5 119h1M346.5 120.5h1M332 112.5h1M349 112h1M340.5 117h1M335 113.5h1M331.5 117h1M344.5 109h1M323.5 116.5h1M316.5 110h1M330 111h1M316.5 112h1M344 117h1M339 107.5h1M320.5 112.5h1M342 112h1M333 118h1M347 116h1M349.5 115.5h1M353.5 114h1M357 115h1M353.5 115.5h1M352 114h1M350.5 118.5h1M346.5 112.5h1M325 120.5h1M336.5 117h1M351 113h1M329.5 114.5h1M329 117h1M346.5 114h1M343.5 121h1M347 112h1M340.5 112h1M348.5 118.5h1M348.5 121h1M325.5 116.5h1M327.5 119h1M350 115h1M348 118h1M353 118.5h1M342.5 111.5h1M331.5 109h1M352.5 116.5h1M330.5 120.5h1M326 114h1M336 120.5h1M336.5 114.5h1M318.5 120.5h1M347.5 114h1M343.5 110.5h1M331.5 116.5h1M352.5 112h1M319 109.5h1M331.5 120h1M328 117.5h1M320.5 121h1M337 117.5h1M324.5 115h1M352 113.5h1M336.5 113h1M325.5 115h1M324 119.5h1M354.5 114.5h1" stroke="#000" stroke-width="1" fill="none"/>
<path class="dots" d="M345.8 100.3h.9M341.4 98.6h.9M336.9 100.3h.9M327.4 99.2h.9M342.3 100.1h.9M345.4 94.0h.9M344.4 95.0h.9M334.4 103.1h.9M350.1 98.7h.9M333.2 101.7h.9M340.5 110.6h.9M340.3 102.8h.9M351.2 97.1h.9M320.9 101.1h.9M335.5 103.1h.9M356.6 100.2h.9M334.4 93.5h.9M321.4 94.5h.9M317.0 99.6h.9M345.0 99.3h.9M323.8 93.3h.9M346.4 100.9h.9M320.2 105.8h.9M334.0 92.1h.9M327.0 98.8h.9M333.0 93.6h.9M344.5 104.2h.9M345.1 97.2h.9M332.6 111.4h.9M340.7 102.3h.9M321.4 101.4h.9M338.8 94.9h.9M329.8 101.2h.9M338.4 102.5h.9M329.1 108.3h.9M323.0 96.0h.9M316.3 108.9h.9M335.7 101.6h.9M314.8 97.2h.9M330.3 97.3h.9M345.8 98.4h.9M337.8 107.4h.9M335.1 108.8h.9M335.6 95.5h.9M313.3 97.4h.9M353.1 103.9h.9M344.8 107.3h.9M310.5 95.1h.9M339.6 99.9h.9M344.7 101.2h.9M338.8 104.2h.9M351.8 104.3h.9M337.7 96.2h.9M326.5 103.4h.9M336.9 95.7h.9M317.5 103.3h.9M348.1 103.6h.9M361.4 91.4h.9M338.4 100.2h.9M337.1 97.7h.9M318.6 104.5h.9M328.4 93.4h.9M344.8 103.7h.9M334.3 102.5h.9M334.8 97.7h.9M328.0 97.5h.9M354.5 98.0h.9M347.5 97.0h.9M346.5 94.6h.9M320.5 107.3h.9M339.0 102.8h.9M342.0 97.7h.9M325.0 96.2h.9M348.0 103.5h.9M338.0 99.4h.9M319.5 107.4h.9M339.0 98.7h.9M350.8 101.2h.9M322.4 107.7h.9M330.5 97.9h.9M341.6 100.9h.9M321.1 99.8h.9M354.9 103.2h.9M326.6 96.9h.9M339.2 101.7h.9M349.9 99.0h.9M320.9 108.2h.9M328.7 101.6h.9M344.0 100.6h.9M341.5 96.3h.9M328.1 109.4h.9M332.3 96.9h.9M335.0 102.3h.9M314.0 96.1h.9M313.7 102.2h.9M360.5 104.0h.9M338.0 101.0h.9M347.4 103.1h.9M360.0 98.5h.9M344.4 101.8h.9M358.0 108.2h.9M350.9 105.8h.9M341.1 88.6h.9M316.9 103.1h.9M344.5 105.4h.9M336.8 94.5h.9M334.9 101.6h.9M331.5 94.7h.9M351.6 103.9h.9M347.6 99.6h.9M346.8 96.1h.9M342.5 96.8h.9M338.8 101.4h.9M344.8 102.2h.9M318.7 97.2h.9M340.3 103.0h.9M340.8 106.7h.9M322.2 89.4h.9M334.0 91.3h.9M336.7 114.6h.9M331.6 117.1h.9M338.6 107.1h.9M348.1 121.9h.9M364.0 82.5h.9M330.6 96.4h.9M341.1 117.5h.9M328.0 122.5h.9M318.9 123.3h.9M325.9 113.9h.9M345.6 93.9h.9M316.8 92.3h.9M335.0 121.0h.9M362.3 98.6h.9M361.0 110.1h.9M347.4 97.7h.9M311.1 89.8h.9M359.1 86.3h.9M326.1 118.4h.9M351.7 108.7h.9M323.1 94.8h.9M339.4 125.4h.9M340.2 95.1h.9M349.8 103.5h.9M355.8 124.6h.9M333.2 124.7h.9M330.9 91.5h.9M317.2 125.3h.9M324.0 115.9h.9M365.7 122.5h.9M335.8 119.6h.9M364.3 90.9h.9M320.4 101.6h.9M351.5 108.3h.9M341.8 123.9h.9M358.5 82.2h.9M338.3 104.0h.9M360.4 112.0h.9M342.1 110.1h.9M327.8 95.3h.9M333.4 124.9h.9M338.9 113.3h.9M363.6 103.6h.9M338.0 77.0h.9M312.0 88.8h.9M332.3 124.1h.9M350.1 104.8h.9M333.1 118.4h.9M319.0 118.9h.9M328.5 113.5h.9M331.9 115.5h.9M333.0 110.6h.9M360.8 117.9h.9M327.0 110.0h.9M322.5 120.3h.9M333.1 114.5h.9M358.4 117.5h.9M336.7 112.6h.9M341.5 113.6h.9M344.5 111.0h.9M337.3 120.7h.9M337.9 118.3h.9M337.6 118.0h.9M352.5 113.5h.9M335.0 118.0h.9M350.0 122.4h.9M356.1 112.8h.9M359.2 110.7h.9M344.4 123.6h.9M342.1 114.9h.9M321.0 101.2h.9M337.3 102.8h.9M319.7 112.2h.9M347.3 106.6h.9M353.2 121.5h.9M333.8 121.0h.9M324.6 115.5h.9M342.2 112.8h.9M319.8 109.0h.9M333.5 123.9h.9M338.5 116.3h.9M365.2 121.7h.9M322.2 114.6h.9M348.2 111.2h.9M351.4 117.4h.9M343.3 103.1h.9M334.8 120.9h.9M344.8 108.2h.9M340.3 122.9h.9M319.3 115.5h.9M320.4 110.8h.9M332.4 115.8h.9M341.4 107.8h.9M349.3 114.9h.9M332.2 113.9h.9M341.8 114.4h.9M324.4 119.1h.9M334.8 119.0h.9M345.5 111.2h.9M354.1 112.6h.9M340.4 118.3h.9M340.4 113.9h.9M347.7 116.1h.9M340.1 111.7h.9M361.4 117.6h.9M329.2 112.8h.9M356.8 113.7h.9M329.1 109.6h.9M354.8 121.2h.9M353.6 124.2h.9M345.9 110.6h.9M318.8 112.8h.9M324.2 111.4h.9M356.5 118.4h.9M336.8 120.2h.9M322.3 114.5h.9M349.4 110.7h.9M318.8 118.9h.9M324.8 123.1h.9M345.2 124.1h.9M321.2 115.5h.9M340.9 116.8h.9M338.3 117.0h.9M352.8 114.9h.9M327.0 113.3h.9M320.8 109.9h.9M346.5 121.2h.9M334.2 107.6h.9M328.9 109.9h.9M362.5 118.9h.9M342.2 119.7h.9M340.5 110.8h.9M345.3 112.0h.9M327.4 124.5h.9M316.0 123.4h.9M359.3 110.1h.9M322.9 115.7h.9M335.6 112.4h.9M352.4 114.5h.9M352.6 105.3h.9M315.0 117.1h.9M324.2 115.8h.9M313.6 113.1h.9M357.8 114.1h.9M352.0 121.4h.9M337.9 112.0h.9M339.6 112.9h.9M317.7 122.8h.9M345.4 112.6h.9M350.7 116.9h.9M353.7 120.4h.9M316.4 112.7h.9M324.0 106.6h.9M343.9 109.9h.9M335.0 112.9h.9M344.7 120.5h.9M339.8 115.1h.9M316.3 115.0h.9M333.4 121.3h.9M336.3 115.1h.9M343.1 114.5h.9M335.1 108.0h.9M340.9 119.3h.9M333.3 108.4h.9M350.0 114.8h.9M323.3 107.8h.9M329.4 117.6h.9M349.6 120.0h.9M350.0 107.2h.9M350.6 119.4h.9M353.7 117.6h.9M345.7 118.8h.9M318.4 116.0h.9M321.3 122.7h.9M319.2 112.9h.9M318.7 123.3h.9M352.9 116.2h.9M350.3 101.3h.9M343.4 111.8h.9M343.8 113.5h.9M316.2 111.3h.9M344.8 108.1h.9M322.6 115.3h.9M357.9 120.6h.9M351.0 113.2h.9M316.8 114.4h.9M338.7 113.3h.9M352.3 111.6h.9M357.3 117.2h.9M324.2 120.0h.9M349.1 118.3h.9M321.9 116.3h.9M355.3 108.8h.9M318.7 121.4h.9M313.8 112.0h.9M356.4 107.2h.9M327.6 115.1h.9M319.9 115.1h.9M320.2 111.7h.9M333.1 119.1h.9M320.1 111.7h.9M320.2 107.1h.9M356.9 108.1h.9M322.0 117.1h.9M330.2 114.8h.9M324.1 111.5h.9M342.8 112.8h.9M345.1 119.7h.9M342.0 121.0h.9M338.6 116.8h.9M350.1 107.7h.9M356.3 113.0h.9M350.5 118.0h.9M338.1 107.1h.9M334.9 110.3h.9M317.4 113.8h.9M349.7 116.6h.9M323.6 123.4h.9M342.4 108.8h.9M350.2 122.4h.9M333.8 115.1h.9M338.7 112.7h.9M349.8 117.3h.9M315.3 122.9h.9M321.8 119.6h.9M331.9 111.7h.9M331.8 114.1h.9M321.6 114.8h.9M317.8 111.7h.9M353.1 117.4h.9M320.5 117.0h.9M334.9 114.2h.9M340.8 120.4h.9M334.6 113.9h.9M330.8 112.5h.9M320.4 112.8h.9M318.1 118.5h.9M342.8 109.8h.9M340.8 110.4h.9M333.3 117.6h.9M333.7 116.2h.9M343.9 121.0h.9M359.2 101.6h.9M321.6 118.4h.9M325.0 116.1h.9M325.5 111.7h.9M326.8 117.9h.9M327.0 114.6h.9M349.3 119.4h.9M316.3 106.2h.9M353.1 119.5h.9M361.0 119.1h.9M350.5 117.9h.9M327.5 121.5h.9M325.2 115.8h.9M320.2 119.7h.9M338.1 121.0h.9M312.6 117.2h.9M344.6 124.1h.9M338.6 117.3h.9M329.6 116.4h.9M344.1 115.8h.9M327.5 109.5h.9M313.7 117.5h.9M323.9 123.9h.9M315.9 115.9h.9M345.8 112.8h.9M352.4 121.1h.9M329.4 110.8h.9M341.5 111.6h.9M344.4 108.9h.9M349.1 115.6h.9M350.5 115.0h.9M330.8 112.5h.9M321.3 124.0h.9M319.2 120.2h.9M340.3 119.6h.9M343.3 119.4h.9M341.4 118.3h.9M347.4 123.2h.9M342.1 113.1h.9M338.4 107.3h.9M353.0 113.4h.9M324.4 119.0h.9M326.5 117.6h.9M327.7 118.7h.9M342.8 114.9h.9M319.8 111.0h.9M331.5 114.9h.9M317.7 112.5h.9M315.2 114.8h.9M315.4 117.7h.9M344.4 107.3h.9M344.4 108.6h.9M349.5 111.8h.9M318.5 105.0h.9M331.4 117.9h.9M324.5 117.6h.9M355.0 106.9h.9M318.1 110.5h.9M327.7 114.5h.9M341.0 121.9h.9M322.7 109.1h.9M351.2 114.0h.9M354.4 117.9h.9M342.6 106.4h.9M321.3 116.1h.9M342.4 112.3h.9M323.6 118.5h.9M342.6 111.7h.9M338.3 113.6h.9M341.7 116.7h.9M315.5 115.5h.9M341.2 110.8h.9M332.9 120.0h.9M326.9 122.8h.9M348.4 116.0h.9M338.4 117.4h.9M325.1 122.4h.9M329.2 105.8h.9M350.6 111.2h.9M353.8 117.7h.9M318.5 117.6h.9M353.3 112.0h.9M353.4 110.7h.9M342.4 120.5h.9M338.8 112.9h.9M334.9 122.5h.9M338.8 117.9h.9M315.6 121.5h.9M344.4 119.0h.9M346.0 125.1h.9M338.9 120.0h.9M323.6 108.2h.9M353.2 118.8h.9M340.2 118.5h.9M345.2 112.0h.9M342.3 112.9h.9M316.5 124.4h.9M319.3 119.6h.9M327.3 118.2h.9M324.7 106.8h.9M344.3 115.7h.9M358.8 114.4h.9M328.0 112.0h.9M341.3 113.6h.9M357.3 111.5h.9M342.5 117.0h.9M351.6 114.2h.9M348.4 122.5h.9M330.5 109.8h.9M336.5 114.0h.9M354.8 102.3h.9M340.3 114.5h.9M338.8 117.2h.9M345.7 116.6h.9M317.0 119.8h.9M322.2 119.3h.9M321.0 114.2h.9M318.7 123.8h.9M317.1 109.9h.9M317.9 123.6h.9M321.6 100.6h.9M331.6 115.2h.9M345.9 123.1h.9M338.7 105.0h.9M341.9 123.1h.9M318.3 125.1h.9M343.1 114.5h.9M327.3 117.4h.9M355.3 110.7h.9M344.8 116.8h.9M341.5 111.9h.9M337.0 112.5h.9M339.0 105.8h.9M337.4 121.2h.9M315.7 113.8h.9M334.2 121.9h.9M356.1 115.5h.9M340.4 118.9h.9M329.2 108.8h.9M343.9 109.6h.9M326.7 113.4h.9M359.6 112.4h.9M333.2 109.9h.9M356.2 112.6h.9M326.2 112.4h.9M352.7 113.3h.9M358.2 110.0h.9M335.5 122.7h.9M338.3 114.6h.9M341.2 116.2h.9M353.1 120.4h.9M348.0 102.9h.9M324.8 112.9h.9M349.2 109.4h.9M344.2 121.9h.9M335.4 113.1h.9M325.7 112.5h.9M326.5 108.6h.9M345.4 116.0h.9M330.0 112.3h.9M340.3 114.2h.9M345.8 114.2h.9M318.1 123.2h.9M310.9 108.6h.9M329.2 112.5h.9M322.2 116.7h.9M310.6 111.9h.9M316.2 123.7h.9M329.8 114.6h.9M336.9 112.9h.9M315.6 120.2h.9M341.4 122.0h.9M338.2 117.4h.9M341.3 117.2h.9M325.8 121.1h.9M333.2 116.5h.9M341.8 122.5h.9M349.5 116.1h.9M340.1 114.8h.9M334.9 120.1h.9M334.3 109.1h.9M328.9 115.7h.9M358.1 114.8h.9M314.4 122.0h.9M343.8 109.8h.9M341.4 110.5h.9M313.9 113.2h.9M335.4 109.7h.9M358.1 123.1h.9M344.9 111.4h.9M348.6 113.9h.9M354.1 120.2h.9M354.5 121.2h.9M325.3 116.1h.9M312.7 117.2h.9M329.1 118.0h.9M362.6 118.3h.9M335.1 112.6h.9M346.7 118.9h.9M335.4 110.3h.9M344.4 123.3h.9M331.0 125.3h.9M348.7 124.9h.9M336.4 119.4h.9M316.7 123.7h.9M341.2 117.8h.9M319.1 115.8h.9M336.3 108.5h.9M338.8 103.6h.9M341.6 111.6h.9M340.3 116.7h.9M342.5 116.0h.9M333.8 111.9h.9M354.8 107.8h.9M322.6 116.0h.9M355.8 105.9h.9M334.9 117.2h.9M341.7 121.6h.9M310.3 114.8h.9M319.6 106.3h.9M310.4 112.9h.9M341.9 119.4h.9M359.4 118.2h.9M346.2 112.7h.9M350.8 122.1h.9M330.6 111.0h.9M347.1 109.3h.9M320.1 110.7h.9M323.6 115.5h.9M344.5 112.8h.9M355.8 111.3h.9M341.7 122.9h.9M333.8 116.9h.9M324.6 118.1h.9M341.1 105.9h.9M339.8 121.9h.9M341.7 114.4h.9M326.6 110.5h.9M338.5 115.8h.9M359.0 112.3h.9M358.9 117.8h.9M335.1 119.2h.9M331.2 102.2h.9M315.5 113.5h.9M324.2 118.9h.9M342.5 119.5h.9M318.3 104.9h.9M345.6 118.1h.9M338.4 116.1h.9M338.4 123.2h.9M354.4 116.9h.9M327.2 121.8h.9M357.2 118.2h.9M350.4 119.9h.9M351.7 113.3h.9M357.0 110.5h.9M359.7 120.0h.9M352.7 113.3h.9M318.1 119.4h.9M341.6 116.5h.9M352.1 108.8h.9M325.7 111.9h.9M342.2 109.3h.9M341.2 109.0h.9M324.3 118.9h.9M342.9 109.0h.9M321.1 118.3h.9M327.5 116.2h.9M340.3 125.5h.9M350.6 117.4h.9M314.1 118.8h.9M318.1 106.5h.9M361.0 124.2h.9M355.7 116.6h.9M343.3 116.2h.9M355.8 110.0h.9M355.1 117.8h.9M326.9 116.7h.9M329.6 116.9h.9M338.5 115.3h.9M329.5 108.0h.9M337.8 121.4h.9M338.6 110.5h.9M336.6 125.2h.9M345.0 103.9h.9M320.8 106.6h.9M355.8 115.4h.9M336.4 113.6h.9M343.0 117.0h.9M357.5 107.2h.9M324.8 119.6h.9M346.3 114.7h.9M319.0 120.4h.9M344.0 115.1h.9M360.3 112.0h.9M331.9 114.6h.9M337.4 113.7h.9M316.9 112.1h.9M336.8 122.1h.9M357.1 109.9h.9M337.4 116.8h.9M335.9 121.4h.9M318.2 107.3h.9M346.2 115.4h.9M332.4 113.2h.9M356.8 113.7h.9M326.4 116.1h.9M352.7 117.8h.9M356.0 116.5h.9M336.8 118.5h.9M357.3 112.8h.9M347.2 117.3h.9M322.3 122.6h.9M356.1 116.9h.9M339.8 105.5h.9M343.0 120.9h.9M336.5 115.7h.9M351.2 121.5h.9M358.6 113.7h.9M323.4 107.9h.9M314.8 124.4h.9M318.6 122.0h.9M331.3 121.3h.9M345.4 122.3h.9M349.9 111.3h.9M354.3 114.3h.9M313.8 114.9h.9M323.7 116.6h.9M316.9 104.1h.9M343.1 114.3h.9M320.5 121.7h.9M333.2 108.4h.9M348.8 116.0h.9M328.6 113.5h.9M352.0 119.6h.9M340.9 113.7h.9M343.3 113.0h.9M334.9 109.7h.9M339.0 114.2h.9M343.1 119.8h.9M317.8 104.8h.9M348.8 120.5h.9M330.2 120.3h.9M323.2 117.7h.9M311.2 117.7h.9M323.8 121.3h.9M355.6 118.6h.9M347.1 108.7h.9M348.6 121.1h.9M313.4 114.0h.9M326.0 109.5h.9M318.9 117.4h.9M316.2 114.5h.9M315.6 112.6h.9M336.5 122.2h.9M314.1 110.6h.9M364.8 103.7h.9M338.3 118.3h.9M331.7 117.2h.9M352.7 116.6h.9M342.6 116.3h.9M321.6 115.8h.9M335.0 122.1h.9M340.2 123.2h.9M325.2 99.5h.9M327.8 113.1h.9M341.1 117.9h.9M357.7 113.4h.9M337.4 120.0h.9M326.5 122.1h.9M331.9 113.5h.9M324.6 115.6h.9M326.7 119.4h.9M340.9 109.4h.9M334.2 116.0h.9M320.0 116.3h.9M319.1 114.9h.9M338.3 124.5h.9M355.0 107.2h.9M351.4 111.7h.9M319.2 108.0h.9M348.7 122.8h.9M318.6 107.9h.9M324.4 123.5h.9M349.0 121.6h.9M344.4 112.4h.9M343.4 110.1h.9M333.1 116.3h.9M359.9 120.7h.9M314.7 118.4h.9M326.1 120.6h.9M338.8 104.6h.9M318.2 122.0h.9M323.7 113.3h.9M316.1 110.8h.9M348.5 116.2h.9M352.4 119.4h.9M327.4 111.7h.9M341.7 108.7h.9M341.8 121.1h.9M348.2 109.8h.9M354.3 123.5h.9M345.3 121.1h.9M343.7 118.0h.9M338.2 109.7h.9M354.4 113.3h.9M325.5 111.3h.9M326.8 116.1h.9M347.8 110.7h.9M348.3 122.9h.9M321.7 119.8h.9M335.3 116.6h.9M343.7 114.1h.9M352.2 117.7h.9M342.9 121.0h.9M354.9 110.5h.9M351.1 115.9h.9M342.4 105.8h.9M355.4 114.3h.9M310.4 121.5h.9M335.6 116.2h.9M348.7 111.2h.9M332.6 118.2h.9M322.9 101.8h.9M322.5 121.5h.9M347.4 119.2h.9M319.7 110.2h.9M341.4 123.1h.9M346.8 112.3h.9M354.6 118.7h.9M324.2 116.5h.9M337.3 108.9h.9M320.6 116.1h.9M336.7 108.9h.9M318.0 116.4h.9M346.1 115.7h.9M340.1 115.7h.9M342.7 113.5h.9M350.1 114.1h.9M341.4 107.8h.9M337.2 112.2h.9M338.8 118.2h.9M327.3 111.7h.9M349.9 111.3h.9M341.6 110.5h.9M320.1 118.3h.9M357.3 119.4h.9M333.2 117.6h.9M349.3 115.6h.9M347.4 115.5h.9M348.1 116.9h.9M319.3 111.5h.9M355.4 118.3h.9M314.9 120.5h.9M329.2 114.8h.9M361.7 119.3h.9M319.1 113.8h.9M350.3 104.0h.9M341.0 120.8h.9M319.1 109.5h.9M339.7 110.4h.9M340.5 115.0h.9M352.7 110.3h.9M339.8 115.8h.9M346.3 122.6h.9M360.6 110.3h.9M350.1 118.7h.9M327.7 112.9h.9M332.2 117.2h.9M358.1 110.5h.9M350.6 114.6h.9M346.3 122.8h.9M354.1 114.9h.9M320.6 113.5h.9M347.0 116.2h.9M317.0 116.8h.9M330.2 120.8h.9M342.3 121.3h.9M338.2 111.4h.9M336.5 111.8h.9M319.2 111.5h.9M335.5 113.2h.9M326.4 120.5h.9M336.5 110.5h.9M347.5 112.7h.9M320.0 114.6h.9M330.9 124.2h.9M330.3 123.9h.9M338.5 114.5h.9M346.0 115.6h.9M352.2 123.6h.9M317.9 119.3h.9M340.4 113.5h.9M357.9 120.5h.9M325.2 117.1h.9M320.6 115.6h.9M348.1 116.3h.9M317.6 119.8h.9M325.3 116.9h.9M352.0 110.8h.9M324.9 118.9h.9M322.7 113.0h.9M344.9 108.7h.9M320.0 119.5h.9M341.2 116.5h.9M354.9 122.6h.9M356.3 109.1h.9M349.4 123.1h.9M339.6 110.3h.9M354.3 109.6h.9M348.4 112.8h.9M310.7 116.1h.9M355.9 115.9h.9M326.3 112.9h.9M350.7 106.0h.9M312.7 115.8h.9M349.4 117.6h.9M335.3 118.5h.9M357.1 112.3h.9M354.3 114.4h.9M323.7 117.5h.9M350.9 116.0h.9M325.0 113.2h.9M319.0 107.8h.9M316.2 119.5h.9M337.2 116.6h.9M316.4 113.7h.9M339.7 111.8h.9M343.3 109.9h.9M346.4 123.7h.9M352.9 112.5h.9M315.9 116.4h.9M340.5 113.0h.9M321.8 115.8h.9M355.4 112.4h.9M324.7 113.3h.9M351.4 112.5h.9M337.5 120.2h.9M317.6 110.0h.9M330.2 114.0h.9M351.0 118.2h.9M320.2 118.9h.9M330.5 110.7h.9M336.6 105.8h.9M351.6 121.5h.9M326.1 115.5h.9M329.9 118.1h.9M353.4 123.1h.9M359.8 115.2h.9M352.6 109.4h.9M347.7 124.9h.9M339.7 115.7h.9M325.6 115.0h.9M327.3 119.3h.9M338.0 113.0h.9M341.4 114.4h.9M318.6 110.1h.9M353.6 112.3h.9M325.8 111.9h.9M341.0 115.4h.9M326.6 120.5h.9M348.1 119.3h.9M352.1 121.9h.9M339.6 122.1h.9M313.8 113.2h.9M316.1 112.2h.9M362.5 103.3h.9M320.5 118.2h.9M361.6 115.4h.9M326.6 121.0h.9M327.8 114.7h.9M356.1 114.1h.9M340.0 119.2h.9M350.3 107.8h.9M333.4 110.4h.9M361.8 121.3h.9M332.1 115.2h.9M335.5 114.5h.9M327.0 111.8h.9M320.2 124.6h.9M322.6 112.8h.9M359.6 123.0h.9M348.1 116.3h.9M361.7 113.7h.9M320.3 116.0h.9M361.6 106.7h.9M320.3 117.1h.9M333.4 109.4h.9M349.2 122.0h.9M347.3 112.3h.9M328.2 121.5h.9M329.2 123.0h.9M337.3 120.7h.9M333.9 119.9h.9M327.3 114.6h.9M338.1 114.2h.9M334.6 119.0h.9M323.3 111.9h.9M356.6 113.9h.9M351.5 120.5h.9M333.5 113.9h.9M339.0 117.6h.9M339.5 107.1h.9M328.3 115.8h.9M333.7 111.2h.9M363.5 118.0h.9M349.6 113.4h.9M354.5 120.8h.9M359.0 113.0h.9M361.2 114.4h.9M318.2 106.8h.9M340.1 125.0h.9M321.9 118.9h.9M310.9 115.6h.9M354.2 116.4h.9M352.2 108.6h.9M320.8 105.3h.9M322.0 113.9h.9M317.3 119.9h.9M335.6 107.5h.9M352.3 123.2h.9M322.8 116.2h.9M344.9 116.5h.9M329.9 113.0h.9M342.8 121.5h.9M338.3 122.0h.9M339.2 117.7h.9M331.5 109.6h.9M319.2 117.0h.9M340.8 112.6h.9M359.5 110.5h.9M362.8 120.8h.9M354.5 114.9h.9M330.5 120.5h.9M351.3 111.9h.9M324.9 111.6h.9M350.6 117.1h.9M360.7 115.4h.9M326.0 84.7h.9M350.8 93.2h.9M360.1 92.7h.9M312.8 88.3h.9M310.9 93.6h.9M312.6 93.6h.9M312.3 93.3h.9M317.9 86.2h.9M335.4 83.5h.9M360.4 93.7h.9M345.5 95.7h.9M352.4 97.5h.9M364.4 90.6h.9M364.4 90.8h.9M356.3 93.2h.9M364.3 86.9h.9M348.8 93.6h.9M340.1 83.2h.9M338.6 83.2h.9M321.1 84.9h.9M361.5 82.1h.9M361.0 81.5h.9M332.0 84.5h.9M359.8 121.3h.9M325.7 102.3h.9M313.8 114.0h.9M356.8 110.2h.9M354.8 122.0h.9M362.7 109.6h.9M347.3 105.2h.9M325.3 122.1h.9M337.4 103.8h.9M327.9 124.6h.9M337.6 108.1h.9M314.4 118.7h.9M311.2 122.9h.9M331.3 109.4h.9M345.9 122.2h.9M352.5 121.4h.9M343.0 124.4h.9M359.2 112.5h.9M318.3 109.6h.9M354.2 122.6h.9M335.1 124.6h.9M356.9 110.4h.9M352.5 123.7h.9M360.7 121.2h.9M334.1 103.4h.9M315.9 113.8h.9M329.1 124.5h.9M352.7 108.4h.9M346.3 108.4h.9M327.2 108.6h.9M350.7 125.6h.9M347.4 124.2h.9M349.0 125.1h.9M321.6 107.9h.9M334.9 123.2h.9M350.0 123.3h.9M313.7 106.6h.9M326.1 110.6h.9M310.9 120.1h.9M341.7 108.0h.9M321.9 121.6h.9M312.8 119.0h.9M349.2 109.4h.9M363.2 115.5h.9M340.7 124.2h.9M316.3 106.0h.9M323.9 109.7h.9M353.3 105.6h.9M347.6 106.4h.9M326.4 108.7h.9M349.2 106.1h.9M319.8 105.8h.9M331.2 108.0h.9M331.3 122.4h.9M356.5 121.4h.9M339.6 121.0h.9M347.4 109.3h.9M319.0 106.3h.9M313.3 118.4h.9M357.2 110.3h.9M320.8 109.2h.9M329.2 106.9h.9M348.4 124.2h.9M322.4 107.9h.9M328.1 122.5h.9M343.5 123.4h.9M338.4 108.0h.9M327.7 121.9h.9M324.9 109.3h.9M340.9 120.0h.9M356.2 103.5h.9M346.0 104.6h.9M359.5 110.0h.9M359.7 113.3h.9M310.9 111.5h.9M350.6 108.1h.9M319.9 123.7h.9M359.0 123.5h.9" stroke="#000" stroke-width="0.9" stroke-opacity="0.5" fill="none"/>
<line x1="309.5" y1="71.5" x2="371.5" y2="71.5" stroke="#909090" stroke-width="1"/>
<line x1="371.5" y1="71.5" x2="371.5" y2="126.5" stroke="#909090" stroke-width="1"/>
<line x1="309.5" y1="71.0" x2="309.5" y2="127.0" stroke="#3a3a3a" stroke-width="1"/>
<line x1="309.5" y1="126.5" x2="372.0" y2="126.5" stroke="#3a3a3a" stroke-width="1"/>
<line x1="330.5" y1="71.5" x2="330.5" y2="126.5" stroke="#666" stroke-width="1"/>
<line x1="309.5" y1="105.5" x2="371.5" y2="105.5" stroke="#444" stroke-width="1"/>
<text x="307.4" y="131.1" font-size="3.4" fill="#000">10<tspan font-size="2.6" dy="-1.2">0</tspan></text>
<line x1="307.9" y1="126.8" x2="309.5" y2="126.8" stroke="#444" stroke-width="0.6"/>
<text x="303.4" y="128.5" font-size="3.4" fill="#000">10<tspan font-size="2.6" dy="-1.2">0</tspan></text>
<text x="323.0" y="131.1" font-size="3.4" fill="#000">10<tspan font-size="2.6" dy="-1.2">1</tspan></text>
<line x1="307.9" y1="113.0" x2="309.5" y2="113.0" stroke="#444" stroke-width="0.6"/>
<text x="303.4" y="114.7" font-size="3.4" fill="#000">10<tspan font-size="2.6" dy="-1.2">1</tspan></text>
<text x="338.6" y="131.1" font-size="3.4" fill="#000">10<tspan font-size="2.6" dy="-1.2">2</tspan></text>
<line x1="307.9" y1="99.2" x2="309.5" y2="99.2" stroke="#444" stroke-width="0.6"/>
<text x="303.4" y="100.9" font-size="3.4" fill="#000">10<tspan font-size="2.6" dy="-1.2">2</tspan></text>
<text x="354.2" y="131.1" font-size="3.4" fill="#000">10<tspan font-size="2.6" dy="-1.2">3</tspan></text>
<line x1="307.9" y1="85.4" x2="309.5" y2="85.4" stroke="#444" stroke-width="0.6"/>
<text x="303.4" y="87.1" font-size="3.4" fill="#000">10<tspan font-size="2.6" dy="-1.2">3</tspan></text>
<text x="369.8" y="131.1" font-size="3.4" fill="#000">10<tspan font-size="2.6" dy="-1.2">4</tspan></text>
<line x1="307.9" y1="71.6" x2="309.5" y2="71.6" stroke="#444" stroke-width="0.6"/>
<text x="303.4" y="73.3" font-size="3.4" fill="#000">10<tspan font-size="2.6" dy="-1.2">4</tspan></text>
<text x="369.7" y="80.9" font-size="8.6" text-anchor="end" font-weight="normal" font-style="normal" fill="#000" class="p">54%</text>
<text x="300.8" y="107.2" font-size="10.5" text-anchor="middle" font-weight="normal" font-style="normal" fill="#000" transform="rotate(-90 300.8 107.2)">CD4</text>
<path class="dots" d="M403.5 23h1M406 24.5h1M400.5 24h1M401.5 22.5h1M406.5 24h1M407.5 24.5h1M402 25.5h1M410 25h1M407 22.5h1M410.5 24h1M408.5 23h1M399 25.5h1M401 21.5h1M405 19h1M405 23h1M411 21.5h1M399.5 26h1M405.5 23.5h1M407 22h1M408 26h1M407.5 22.5h1M408.5 19h1M403.5 24.5h1M402 24.5h1M404 23h1M403 22h1M405 24.5h1M411 24.5h1M410 23h1M408 24.5h1M404.5 19.5h1M407.5 21.5h1M405 26.5h1M404 22.5h1M401 22.5h1M409.5 23.5h1M406 24h1M403.5 22h1M403.5 27h1M406 27h1M407.5 23.5h1M402 19.5h1M401 22h1M407 23h1M409 22h1M410 26h1M406.5 23.5h1M409 23h1M409 28h1M412 25h1M409.5 20h1M403 24.5h1M408.5 27h1M398 23h1M398 25.5h1M411 24h1M399.5 22h1M398.5 23.5h1M405.5 22.5h1M409 30.5h1M407 27.5h1M406 22.5h1M401 26h1M404 21h1M411.5 27h1M407 24h1M400.5 21.5h1M409 25.5h1M409 23.5h1M399 24.5h1M404 24h1M403.5 20h1M409 22.5h1M412 29h1M407.5 22h1M411.5 20h1M408 26.5h1M406 21h1M403 19h1M406.5 25.5h1M412 23h1M397 27.5h1M400.5 26h1M406 25h1M404.5 25h1M402.5 20h1M405.5 25h1M410.5 25h1M407 20.5h1M404 24.5h1M400.5 19.5h1M401.5 23.5h1M397 23h1M401 25h1M405.5 24h1M414 25.5h1M404.5 23h1M408 31h1M410 25.5h1M397 27h1M404 23.5h1M400 22h1M413.5 22h1M409.5 24h1M411.5 22.5h1M403 19.5h1M404 27h1M412.5 24h1M404 26h1M400.5 26.5h1M409 24h1M406 30.5h1M399 22h1M404.5 23.5h1M406.5 19.5h1M403.5 24h1M410 22.5h1M412.5 20.5h1M406 23h1M409 25h1M408.5 22.5h1M408 29h1M416 21h1M401.5 22h1M407.5 26.5h1M412 22.5h1M405.5 26.5h1M406.5 21h1M401.5 25h1M415 27.5h1M401 23h1M398.5 19.5h1M409 19.5h1M411 23.5h1M407 25.5h1M398 27.5h1M400.5 27.5h1M404.5 20.5h1M403.5 25h1M408.5 21.5h1M407 26h1M408.5 25.5h1M407.5 26h1M411.5 24h1M407 26.5h1M399 21h1M408.5 23.5h1M401.5 21.5h1M403.5 26.5h1M398 24h1M402.5 27.5h1M414 28h1M402.5 20.5h1M414.5 25h1M404.5 21.5h1M408 22h1M399.5 23.5h1M402 27h1M402 21.5h1M401 26.5h1M405 19.5h1M401.5 24.5h1M409 21h1M402 23.5h1M405 23.5h1M404 25.5h1M408 25.5h1M414 22.5h1M405 27h1M406.5 25h1M397 24h1M406 22h1M407.5 23h1M408 20h1M408 23h1M403.5 26h1M404.5 27h1M409.5 27h1M408 25h1M403 27.5h1M409.5 22.5h1M408 28h1M414.5 22.5h1M401 28.5h1M397 26h1M406.5 27h1M401.5 27.5h1M404.5 26.5h1M411 22.5h1M409 20.5h1M413 24.5h1M402.5 22.5h1M405.5 23h1M400.5 25h1M411.5 28.5h1M411 25.5h1M399 26h1M400 24h1M404.5 22h1M415 24h1M406.5 19h1M406 25.5h1M397 25.5h1M407.5 21h1M400 26h1M408 24h1M421.5 27h1M407.5 27.5h1M412 27.5h1M402 20.5h1M413.5 23h1M403 24h1M406.5 24.5h1M405.5 27.5h1M405 20h1M398 21h1M407.5 27h1M414.5 24h1M414.5 27h1M408.5 22h1M405 20.5h1M405 22h1M403 25h1M399.5 22.5h1M397 22.5h1M404.5 25.5h1M407.5 25.5h1M403 20h1M397.5 26h1M411 22h1M404 21.5h1M407 24.5h1M401 25.5h1M414 27.5h1M413 22h1M400 23h1M402 25h1M404.5 21h1M409 27.5h1M400.5 24.5h1M400 23.5h1M410 27.5h1M398.5 25h1M401.5 21h1M401.5 24h1M399 26.5h1M397 25h1M415.5 25.5h1M405.5 24.5h1M406.5 18h1M399.5 27h1M402 21h1M410.5 25.5h1M416.5 28h1M410.5 22h1M399 20.5h1M409.5 21h1M404 20.5h1M409.5 26h1M412.5 22h1M405.5 22h1M408 23.5h1M402.5 25h1M409 26.5h1M411 20h1M414 26h1M400 25.5h1M400 26.5h1M398.5 27h1M409.5 21.5h1M409.5 25h1M410 24h1M406.5 22h1M405 24h1M406.5 18.5h1M405.5 27h1M409.5 25.5h1M397.5 22.5h1M415 21h1M404 28h1M405 26h1M409.5 24.5h1M399.5 24h1M412 28.5h1M399.5 25h1M407 21.5h1M411.5 26h1M404.5 24.5h1M409 29.5h1M405 22.5h1M406 28h1M404 19h1M402 28.5h1M403 21.5h1M406.5 27.5h1M413 22.5h1M409 19h1M414 21.5h1M406.5 23h1M412.5 23.5h1M397.5 25h1M406 26.5h1M414 26.5h1M409.5 22h1M399 24h1M404 22h1M400 27h1M407 21h1M400.5 23h1M400 28h1M407.5 25h1M401 23.5h1M411 20.5h1M409 26h1M408.5 25h1M409.5 20.5h1M399 22.5h1M399.5 21.5h1M411.5 20.5h1M402 26h1M410 31.5h1M405.5 21.5h1M397.5 28h1M410.5 20h1M402.5 23.5h1M400.5 27h1M410.5 27h1M407 25h1M400 22.5h1M399.5 25.5h1M414 24.5h1M410.5 24.5h1M404 25h1M412.5 25h1M414 22h1M405.5 25.5h1M401.5 25.5h1M403.5 22.5h1M400 28.5h1M399 18h1M401.5 26h1M404.5 18h1M399.5 19.5h1M398 20h1M402.5 28.5h1M398 22h1M397 24.5h1M401.5 23h1M398.5 21.5h1M408.5 24h1M410 24.5h1M407.5 28h1M403 23h1M399 29.5h1M409 21.5h1M410 26.5h1M401.5 20h1M409 28.5h1M410.5 29h1M410.5 21.5h1M400 21.5h1M403.5 25.5h1M405 25h1M409 24.5h1M407 28.5h1M399.5 21h1M397.5 23h1M406.5 26.5h1M406 26h1M405 28h1M397 21.5h1M400.5 20h1M403 21h1M406.5 17h1M403 23.5h1M402 26.5h1M402.5 26.5h1M401.5 26.5h1M408.5 24.5h1M407.5 20.5h1M410.5 26h1M403 25.5h1M411.5 21h1M410.5 31h1M409.5 28h1M397 20.5h1M406.5 20.5h1M402.5 23h1M404.5 24h1M405 25.5h1M403 26h1M401 24.5h1M415 26h1M405.5 26h1M413.5 25h1M400.5 22h1M406.5 17.5h1M410 20.5h1M414.5 25.5h1M403.5 23.5h1M398.5 25.5h1M402 27.5h1M411 18h1M408 19h1M402.5 21.5h1M415.5 24h1M399 23.5h1M406.5 28h1M400.5 23.5h1M403.5 29h1M397 18h1M397 22h1M410.5 29.5h1M399.5 20h1M400 19h1M399.5 18.5h1M401 24h1M407.5 19h1M397.5 24.5h1M403 28.5h1M397 28h1M408.5 26h1M401.5 20.5h1M408 19.5h1M399.5 24.5h1M413 26.5h1M410 23.5h1M407.5 19.5h1M412 23.5h1M397.5 19h1M415 23h1M399 21.5h1M410 20h1M406.5 21.5h1M403.5 21.5h1M402 23h1M413 25.5h1M398 23.5h1M410.5 21h1M412.5 22.5h1M397.5 18h1M402.5 24h1M398.5 22.5h1M401.5 28.5h1M407 20h1M402.5 19.5h1M410.5 27.5h1M406.5 22.5h1M405.5 21h1M407.5 28.5h1M410.5 26.5h1M411.5 29h1M416 27h1M405.5 18h1M420.5 28h1M412.5 25.5h1M413.5 23.5h1M411 26.5h1M414 24h1M414.5 22h1M406 31.5h1M407 30h1M414.5 23.5h1M416.5 22.5h1M412.5 26.5h1M413 20h1M413.5 26h1M413 21.5h1M417 21.5h1M410.5 18.5h1M415 25.5h1M413 25h1M412.5 27h1M413.5 24h1M403 27h1M410.5 23.5h1M416.5 24h1M409.5 27.5h1M408 27h1M414.5 24.5h1M416.5 21h1M405.5 19h1M415 24.5h1M411.5 26.5h1M412.5 26h1M423 29h1M417 23h1M411 31.5h1M413.5 25.5h1M413.5 21.5h1M421.5 27.5h1M406.5 26h1M408.5 27.5h1M411.5 30.5h1M415.5 23.5h1M417 22.5h1M416 26.5h1M411.5 24.5h1M412.5 21h1M418 23h1M408 48.5h1M414.5 52h1M409 51h1M429.5 44h1M404.5 55.5h1M415 52h1M407.5 58.5h1M409 59.5h1M404 53.5h1M407 54h1M407 45.5h1M405.5 59h1M415 56h1M414 52.5h1M407.5 56h1M414 51h1M416 55.5h1M420 52h1M413.5 51.5h1M401 53.5h1M417 48h1M408.5 53.5h1M406.5 46.5h1M405.5 55h1M420.5 51.5h1M419.5 53.5h1M410.5 49h1M411.5 58.5h1M419.5 47h1M405 50.5h1M417 46h1M411.5 48h1M420.5 47h1M412.5 47.5h1M398.5 50.5h1M415 53.5h1M415.5 44h1M413 46.5h1M411.5 47h1M416.5 51.5h1M420.5 52h1M421.5 54.5h1M417.5 53.5h1M409.5 50.5h1M408 49.5h1M399.5 48h1M415 45.5h1M413.5 54h1M411 47.5h1M411.5 53h1M417 52h1M411.5 50h1M403 53.5h1M399 55h1M409.5 59h1M410 49h1M412 45h1M411.5 49.5h1M411 52h1M411.5 54h1M405 54h1M417 53.5h1M408.5 54.5h1M409.5 56.5h1M416.5 48.5h1M414 51.5h1M413 51.5h1M401 49.5h1M407 44h1M412 56h1M407.5 48.5h1M405 53.5h1M411 55h1M404.5 49h1M399.5 52h1M415 54h1M410 54.5h1M412 57.5h1M420 45.5h1M405.5 50h1M415 49.5h1M415.5 48.5h1M403 61h1M412.5 52h1M408 44.5h1M413 50h1M414.5 51h1M414 53h1M402 51h1M417.5 50.5h1M410 53h1M404 51.5h1M411.5 54.5h1M408 52h1M412.5 57.5h1M412 52.5h1M404.5 57h1M411 51h1M402.5 51.5h1M418.5 51.5h1M406 54h1M417 52.5h1M400.5 58.5h1M413.5 49h1M412 51.5h1M416.5 46.5h1M404 57.5h1M417 51.5h1M418.5 53h1M411 51.5h1M413 54h1M419.5 54h1M416 45.5h1M409.5 51h1M415.5 50h1M421 52h1M412 47.5h1M411.5 52.5h1M400 53h1M412.5 51h1M399 58h1M421 46.5h1M406.5 48.5h1M403.5 52h1M415.5 50.5h1M415.5 51.5h1M404 47.5h1M407 55.5h1M412 49.5h1M404.5 45.5h1M408.5 49h1M405 58.5h1M418.5 51h1M412.5 48.5h1M415 54.5h1M409.5 53.5h1M413 46h1M410 54h1M420 51h1M409.5 48h1M404.5 51.5h1M404 57h1M403 51h1M421.5 55h1M406.5 58.5h1M405 52h1M415.5 52h1M404 49.5h1M400 58h1M416.5 56.5h1M413.5 52.5h1M416 55h1M404.5 57.5h1M415.5 51h1M408 50.5h1M402 55.5h1M403.5 50.5h1M413.5 53h1M404.5 56.5h1M419.5 49h1M413 55h1M398 49.5h1M421 44.5h1M409.5 49.5h1M412 53.5h1M411.5 60.5h1M408.5 47h1M406 49h1M410 56.5h1M406.5 56h1M405 46.5h1M418.5 55h1M403.5 51.5h1M413 51h1M405 53h1M410 48h1M417 43h1M412 49h1M401.5 57h1M408 51.5h1M406.5 50.5h1M400.5 54h1M421 48.5h1M409.5 50h1M419 52h1M418 54.5h1M404.5 48.5h1M406.5 53h1M414.5 45.5h1M406.5 52h1M409.5 45h1M399.5 53.5h1M405.5 44.5h1M407.5 54h1M403.5 48.5h1M402.5 54.5h1M409 49.5h1M407 53.5h1M402 56.5h1M410 56h1M414.5 50.5h1M412 51h1M418.5 54h1M404.5 58.5h1M414.5 49h1M417.5 51h1M414 58.5h1M407.5 45h1M403 49h1M416 49.5h1M415.5 49h1M413.5 53.5h1M410.5 54h1M411 48h1M413.5 57h1M405.5 60h1M419 53.5h1M421 50.5h1M399.5 52.5h1M410.5 45.5h1M400 50h1M403.5 56.5h1M409 49h1M412.5 51.5h1M411.5 52h1M414 49h1M416 53.5h1M412 50h1M406 49.5h1M417.5 55h1M417.5 46h1M405.5 54.5h1M412 53h1M416.5 54.5h1M399 51.5h1M418 57h1M418.5 48h1M416.5 48h1M405.5 54h1M406.5 54.5h1M408 55.5h1M413.5 49.5h1M407 52h1M416 52.5h1M416.5 55.5h1M418.5 47.5h1M412.5 54.5h1M410.5 53h1M408.5 53h1M403 53h1M416 50.5h1M405.5 51h1M414.5 48.5h1M416.5 45h1M401.5 49.5h1M405.5 47h1M424 45.5h1M414 50h1M403 52.5h1M407.5 52.5h1M411 55.5h1M401.5 54h1M412.5 50h1M410.5 52.5h1M404.5 50.5h1M414.5 49.5h1M407.5 57.5h1M406.5 49h1M416.5 52.5h1M424 52.5h1M419 48.5h1M414 53.5h1M400 55.5h1M405.5 49h1M411 47h1M421 49.5h1M406.5 48h1M418 45h1M407.5 55h1M408.5 52h1M410.5 57.5h1M410 50h1M412 57h1M411.5 45.5h1M417 47.5h1M414.5 53.5h1M405.5 58.5h1M412.5 55h1M405.5 53.5h1M403.5 55h1M410.5 50h1M411 49h1M399 55.5h1M420 48.5h1M405.5 52.5h1M414 54h1M400 51.5h1M412.5 53.5h1M413.5 52h1M417.5 50h1M414.5 45h1M419.5 47.5h1M411.5 45h1M407.5 49.5h1M417 54h1M412 54.5h1M411 59.5h1M405.5 47.5h1M409.5 51.5h1M420.5 48.5h1M416 53h1M412 55.5h1M422.5 50h1M417.5 49.5h1M408.5 55.5h1M412 50.5h1M404.5 47h1M418.5 46.5h1M414.5 53h1M409.5 46h1M405.5 51.5h1M417 49.5h1M401 52.5h1M408.5 50.5h1M411 53h1M408 50h1M421.5 50h1M406.5 50h1M420.5 52.5h1M406.5 55h1M407 56h1M403.5 62h1M410 51h1M410 53.5h1M404 58.5h1M409 47.5h1M402.5 59.5h1M411.5 51.5h1M414 55h1M401.5 56h1M407 52.5h1M411.5 55h1M409.5 46.5h1M404 46.5h1M402.5 60h1M401.5 55h1M399 53h1M413 53.5h1M411.5 53.5h1M401.5 53.5h1M411 57h1M405.5 57.5h1M405 59h1M409.5 48.5h1M415 48h1M420 53h1M417 48.5h1M420 50h1M420 54h1M401 51.5h1M413 50.5h1M416.5 44.5h1M419.5 51.5h1M406 47h1M409.5 54h1M411 58.5h1M406 50h1M400 51h1M409 60h1M407.5 57h1M418.5 50.5h1M423.5 47.5h1M413.5 46.5h1M397 52.5h1M417.5 45h1M422 52.5h1M416 48.5h1M407 49h1M412.5 56h1M410.5 59h1M421 53.5h1M410.5 51.5h1M407 43h1M413 48.5h1M397 51.5h1M404.5 56h1M408.5 51h1M408 54h1M420 49h1M416.5 52h1M407 51h1M405 56h1M415.5 54h1M415 51.5h1M407 53h1M411 54h1M403.5 49.5h1M405 51h1M405.5 58h1M416.5 45.5h1M416.5 47.5h1M408 51h1M405 55.5h1M404.5 53.5h1M406.5 45.5h1M425.5 49h1M404 54h1M411.5 50.5h1M413 49h1M402 53h1M410 49.5h1M402.5 55.5h1M417.5 52.5h1M404 56h1M402 53.5h1M422.5 47h1M403 61.5h1M403 58.5h1M401.5 51h1M404.5 48h1M413.5 50.5h1M404 59.5h1M417.5 48h1M403.5 52.5h1M406 52h1M414.5 54.5h1M416 49h1M403.5 59h1M416 54.5h1M405.5 46.5h1M401 53h1M413 48h1M420 48h1M410.5 51h1M407.5 51.5h1M413.5 56h1M414 49.5h1M402.5 54h1M418.5 52h1M417.5 59.5h1M416.5 50h1M406 59h1M417 50h1M405.5 50.5h1M419.5 48.5h1M409.5 44.5h1M408 57.5h1M415.5 52.5h1M418.5 52.5h1M411 46.5h1M407 49.5h1M425 54h1M421 51.5h1M412 52h1M419 52.5h1M420 52.5h1M417 58.5h1M405.5 49.5h1M405.5 53h1M420.5 55h1M411 54.5h1M408 54.5h1M414 47h1M404 48.5h1M409 57h1M406 53.5h1M402.5 51h1M416 51h1M417.5 47.5h1M416 57h1M411.5 59.5h1M410.5 46h1M406.5 57.5h1M414 45h1M414 52h1M402 49.5h1M403.5 53.5h1M409.5 56h1M416 57.5h1M399.5 59h1M402 54.5h1M412 48.5h1M409.5 47h1M408 47.5h1M412 48h1M413.5 48h1M416.5 47h1M413 53h1M405 52.5h1M418 49.5h1M407.5 50.5h1M402.5 53.5h1M408 53.5h1M410.5 50.5h1M409.5 57h1M421 50h1M405 49h1M411.5 56h1M404.5 52.5h1M411 50h1M416.5 51h1M403.5 50h1M409 52.5h1M407.5 49h1M420 49.5h1M414.5 56.5h1M420.5 50h1M410.5 49.5h1M409.5 55h1M405.5 55.5h1M404 50h1M417.5 59h1M407 47.5h1M408 53h1M417 45.5h1M405 50h1M410.5 55h1M416.5 53h1M408 59h1M408 52.5h1M415 47.5h1M414.5 44.5h1M408 48h1M412.5 55.5h1M410.5 54.5h1M407.5 55.5h1M411 52.5h1M413 47.5h1M414 56h1M409 56.5h1M413.5 50h1M418 55.5h1M403 55h1M406 53h1M406.5 51h1M397.5 52.5h1M398.5 52h1M406.5 52.5h1M404 62h1M428 48h1M410.5 53.5h1M414.5 48h1M421 53h1M409 55h1M412 44.5h1M422 45.5h1M402.5 49.5h1M419.5 55h1M406.5 54h1M412 54h1M422 49h1M411 57.5h1M414.5 54h1M420.5 46.5h1M407.5 56.5h1M405 57.5h1M410.5 47h1M415.5 46h1M409 45h1M414.5 51.5h1M399.5 50h1M408 56.5h1M408 55h1M409 53h1M408 49h1M408 46h1M408.5 43.5h1M398 52.5h1M417 53h1M407.5 59h1M413 45.5h1M421.5 48.5h1M403.5 56h1M416 52h1M406 55h1M404 53h1M409 60.5h1M412.5 58.5h1M421.5 46.5h1M400.5 51h1M411.5 47.5h1M408 47h1M406.5 46h1M399 52h1M406.5 53.5h1M406 48.5h1M398.5 50h1M403 56h1M407.5 50h1M406 57h1M413.5 51h1M421.5 45.5h1M403.5 54.5h1M409 58h1M406 47.5h1M415.5 48h1M411.5 49h1M412.5 56.5h1M416 43.5h1M418 56h1M403 59.5h1M400.5 53.5h1M407 55h1M414 57h1M412.5 53h1M404 52.5h1M402.5 55h1M403.5 53h1M425 45h1M427.5 44h1M430.5 41.5h1M425.5 42h1M416 51.5h1M418.5 50h1M419 45h1M422.5 45.5h1M422 48h1M424 44.5h1M424 47.5h1M424.5 46h1M425 44h1M419.5 46h1M417 49h1M424.5 42.5h1M421.5 47h1M429 43.5h1M421.5 47.5h1M426 45.5h1M425 46.5h1M427 45h1M416.5 49h1M434.5 43h1M421 48h1M423.5 45.5h1M421 47h1M427.5 45h1M419 49.5h1M431 45h1M415 49h1M426.5 41h1M432.5 45.5h1M426.5 44.5h1M424.5 43h1M431.5 44.5h1M421.5 51h1M419 50.5h1M428 45.5h1M420 54.5h1M419.5 50.5h1M426.5 44h1M425 47.5h1M423.5 47h1M429.5 42h1M423.5 46.5h1M420 47h1M423 48h1M426 41.5h1M416 50h1M417.5 46.5h1M419 51h1M418 46h1M424 45h1M423 44.5h1M426 50.5h1M420.5 47.5h1M428.5 44.5h1M427 43h1M424.5 51h1M423 46.5h1M420 51.5h1M427 46.5h1M420 50.5h1M428 43.5h1M418.5 45.5h1M421.5 49h1M419 48h1M413.5 46h1M426 45h1M426.5 46h1M424.5 45.5h1M425.5 46.5h1M420 47.5h1M423 46h1M419 47h1M415.5 46.5h1M422.5 49.5h1M422 47.5h1M424.5 47.5h1M424 49.5h1M420.5 50.5h1M426.5 47h1M422 46h1M411 53.5h1M417.5 45.5h1M428 45h1M433 41.5h1M421 47.5h1M428 44h1M418 53.5h1M427.5 47h1M413 54.5h1M421 46h1M428 46.5h1M424 46h1M415.5 47.5h1M418 45.5h1M423.5 42h1M423.5 49h1M420.5 49.5h1M418 48.5h1M426 46h1M416 47.5h1M423 47.5h1M426.5 48.5h1M434.5 44h1M429 43h1M428 44.5h1M431 45.5h1M415.5 49.5h1M424.5 49.5h1M422 51h1M415 52.5h1M424 48h1M422.5 52.5h1M418 48h1M432 43h1M432.5 44h1M418 47.5h1M417 46.5h1M422 48.5h1M423 49h1M424 43.5h1M425 45.5h1M426.5 45.5h1M417.5 49h1M420.5 53h1M430.5 44h1M430 43.5h1M415.5 53h1M426.5 43h1M425.5 48h1M418.5 43.5h1M419.5 50h1M431 41.5h1M426 43h1M419 49h1M424.5 48.5h1M423.5 44.5h1M427 44.5h1M414 50.5h1M416 46.5h1M419 44.5h1M419.5 45.5h1M413.5 48.5h1M426 44.5h1M431.5 42h1M431.5 45h1M425 42.5h1M427.5 46h1M422.5 47.5h1M425.5 47.5h1M422.5 43.5h1M424.5 47h1M422.5 45h1M429.5 43.5h1M423.5 46h1M418 51h1M424 47h1M430.5 42h1M416.5 49.5h1M423.5 42.5h1M418.5 47h1M421.5 49.5h1M417 51h1M428.5 44h1M418.5 49.5h1M418 49h1M421.5 44.5h1M423 49.5h1M415 50.5h1M433 41h1M419 44h1M425 48h1M415 47h1M418 50h1M430.5 45h1M424.5 46.5h1M421.5 48h1M414 55.5h1M423 42h1M422.5 48h1M431.5 43h1M420.5 45.5h1M429 46h1M433 44h1M412.5 49.5h1M423 51h1M409 50.5h1M429.5 40h1M419 53h1M429.5 46.5h1M420 44.5h1M423 47h1M425 44.5h1M424.5 50h1M422 46.5h1M434 42h1M418.5 46h1M419.5 49.5h1M421 45.5h1M427.5 46.5h1M425 41.5h1M425.5 50h1M423.5 48h1M429 40h1M419 46.5h1M413.5 47.5h1M424.5 45h1M418.5 49h1M409.5 52.5h1M408.5 47.5h1M425 48.5h1M417.5 47h1" stroke="#000" stroke-width="1" fill="none"/>
<path class="dots" d="M410.7 36.4h.9M407.7 35.1h.9M414.1 46.3h.9M408.7 46.0h.9M414.3 25.7h.9M405.9 23.3h.9M403.4 45.2h.9M409.4 35.4h.9M414.2 35.5h.9M398.6 42.9h.9M400.8 35.0h.9M406.8 38.4h.9M408.5 25.6h.9M404.2 32.1h.9M416.0 44.2h.9M405.3 34.8h.9M409.2 42.6h.9M400.5 49.6h.9M411.7 35.1h.9M409.6 38.7h.9M403.5 37.0h.9M410.1 36.6h.9M401.7 34.8h.9M403.0 30.4h.9M400.7 48.1h.9M410.8 32.6h.9M414.5 44.1h.9M406.7 34.7h.9M404.4 42.1h.9M407.2 44.1h.9M414.3 35.3h.9M398.8 36.6h.9M400.1 31.2h.9M407.8 43.3h.9M416.5 35.9h.9M408.1 27.8h.9M414.8 30.4h.9M406.7 21.0h.9M404.0 41.3h.9M400.4 36.2h.9M401.7 35.1h.9M407.1 45.1h.9M401.0 29.2h.9M408.6 30.4h.9M406.2 31.6h.9M411.2 38.2h.9M405.9 33.5h.9M407.0 40.9h.9M400.2 40.3h.9M409.0 42.6h.9M409.1 44.4h.9M407.6 39.8h.9M413.2 22.7h.9M410.8 42.4h.9M405.8 34.9h.9M398.1 40.7h.9M400.1 24.6h.9M402.9 31.7h.9M406.1 39.5h.9M410.3 40.5h.9M404.8 40.1h.9M399.4 38.3h.9M408.0 36.4h.9M412.0 34.2h.9M409.1 44.1h.9M404.0 29.6h.9M407.2 31.8h.9M415.5 46.5h.9M409.5 34.1h.9M407.8 43.9h.9M404.5 36.7h.9M412.0 46.0h.9M403.5 31.8h.9M416.2 39.3h.9M409.6 55.3h.9M400.9 46.4h.9M410.9 37.4h.9M404.8 31.6h.9M398.7 42.8h.9M407.3 34.9h.9M413.0 31.2h.9M408.4 37.0h.9M407.9 42.9h.9M404.5 40.6h.9M404.0 43.0h.9M399.4 23.2h.9M402.4 29.9h.9M398.4 33.0h.9M412.7 39.6h.9M405.4 32.8h.9M402.7 26.4h.9M414.2 41.7h.9M408.4 39.6h.9M405.1 28.4h.9M404.0 41.6h.9M403.5 48.0h.9M404.9 40.7h.9M407.0 31.6h.9M409.7 34.6h.9M417.7 41.5h.9M411.1 39.7h.9M411.2 31.1h.9M414.5 34.6h.9M412.7 39.7h.9M397.9 34.9h.9M404.5 32.4h.9M403.6 33.7h.9M402.0 35.5h.9M403.1 28.1h.9M411.1 39.5h.9M399.8 49.1h.9M414.8 43.7h.9M407.9 42.1h.9M405.5 30.4h.9M412.6 25.3h.9M410.2 29.0h.9M407.4 33.9h.9M415.1 49.9h.9M408.0 30.6h.9M409.5 44.2h.9M403.6 47.0h.9M403.7 34.3h.9M414.2 34.0h.9M400.9 35.4h.9M407.7 45.3h.9M399.8 34.9h.9M416.9 26.8h.9M410.1 28.5h.9M406.0 33.0h.9M403.9 38.0h.9M407.2 29.7h.9M414.8 53.0h.9M408.0 32.6h.9M402.7 34.8h.9M398.4 46.9h.9M406.2 37.1h.9M400.1 36.6h.9M417.3 32.0h.9M413.5 37.7h.9M407.3 44.7h.9M406.6 35.3h.9M399.8 36.1h.9M400.9 35.5h.9M410.0 40.1h.9M403.0 45.0h.9M414.4 41.8h.9M411.2 39.6h.9M400.6 21.3h.9M403.9 31.1h.9M412.0 46.6h.9M412.6 34.2h.9M404.2 29.1h.9M403.4 43.9h.9M406.6 33.6h.9M405.4 31.2h.9M402.2 31.9h.9M410.7 39.9h.9M407.0 34.0h.9M401.0 49.3h.9M407.4 29.3h.9M416.7 30.0h.9M397.5 37.0h.9M407.1 37.3h.9M410.8 35.6h.9M401.8 34.1h.9M402.7 46.3h.9M402.6 37.1h.9M408.7 30.2h.9M404.7 43.1h.9M401.3 42.1h.9M404.6 40.4h.9M407.0 37.2h.9M406.5 34.0h.9M402.3 38.2h.9M411.3 37.0h.9M413.6 37.0h.9M400.0 47.9h.9M410.4 48.4h.9M402.7 46.7h.9M409.9 29.9h.9M419.1 31.7h.9M403.5 40.2h.9M401.8 43.8h.9M412.8 32.5h.9M401.6 31.8h.9M420.0 37.4h.9M406.8 52.5h.9M409.2 28.0h.9M405.3 44.0h.9M405.8 40.8h.9M398.1 39.2h.9M411.1 26.7h.9M406.6 39.2h.9M407.5 31.5h.9M415.5 37.0h.9M407.8 30.5h.9M407.4 34.3h.9M413.4 28.6h.9M408.8 33.3h.9M409.4 34.7h.9M408.7 21.1h.9M406.5 40.9h.9M404.4 46.5h.9M401.4 37.4h.9M406.0 43.4h.9M409.2 51.3h.9M399.5 40.2h.9M409.9 32.4h.9M409.2 28.9h.9M411.6 23.4h.9M412.3 43.2h.9M404.7 39.2h.9M411.4 30.7h.9M411.3 33.0h.9M404.9 24.6h.9M404.6 38.1h.9M405.1 46.5h.9M412.4 18.4h.9M412.8 36.3h.9M398.3 36.5h.9M406.5 34.8h.9M398.4 35.2h.9M415.7 24.4h.9M399.4 31.7h.9M403.1 17.2h.9M409.6 30.5h.9M397.7 49.3h.9M414.4 36.9h.9M412.7 31.2h.9M405.3 41.5h.9M401.9 47.1h.9M404.1 58.7h.9M410.4 39.9h.9M403.9 45.5h.9M408.4 34.3h.9M405.1 41.6h.9M408.9 36.5h.9M406.7 28.6h.9M407.2 42.1h.9M399.1 38.9h.9M418.1 27.6h.9M410.8 39.0h.9M407.3 35.1h.9M407.6 40.5h.9M409.4 33.9h.9M405.3 23.8h.9M409.4 40.9h.9M409.2 32.2h.9M417.6 21.4h.9M412.8 30.5h.9M420.1 52.2h.9M401.8 36.1h.9M426.1 56.3h.9M419.6 40.5h.9M402.4 33.3h.9M420.9 61.5h.9M427.4 42.0h.9M409.9 23.3h.9M416.4 29.7h.9M434.2 37.9h.9M435.5 39.1h.9M420.1 37.8h.9M403.0 18.5h.9M421.2 29.9h.9M423.7 39.3h.9M411.2 29.6h.9M431.3 56.2h.9M411.3 16.5h.9M422.4 56.8h.9M415.8 36.1h.9M410.6 38.4h.9M420.4 38.1h.9M402.6 31.4h.9M403.5 49.5h.9M403.7 45.5h.9M410.3 45.9h.9M424.8 58.5h.9M418.5 34.6h.9M407.1 34.4h.9M427.8 26.3h.9M441.0 16.9h.9M435.7 61.1h.9M426.1 61.3h.9M425.0 47.0h.9M432.6 22.5h.9M437.3 51.9h.9M412.6 34.7h.9M413.3 11.8h.9M417.9 57.0h.9M411.1 46.5h.9M406.0 49.8h.9M417.7 51.9h.9M405.3 51.6h.9M418.5 53.4h.9M417.9 51.2h.9M407.4 50.4h.9M406.8 49.2h.9M418.6 59.6h.9M413.0 52.0h.9M410.3 44.3h.9M411.1 53.6h.9M409.8 61.1h.9M413.2 56.3h.9M416.2 54.2h.9M402.4 53.4h.9M406.1 52.1h.9M417.9 52.5h.9M418.9 46.7h.9M415.3 47.3h.9M402.4 60.1h.9M399.5 49.2h.9M405.8 49.4h.9M410.8 54.7h.9M408.0 54.1h.9M420.4 48.5h.9M404.5 58.0h.9M415.7 49.9h.9M409.2 50.9h.9M400.5 48.1h.9M408.3 45.5h.9M417.0 56.2h.9M416.0 49.0h.9M402.5 57.1h.9M419.3 50.0h.9M419.5 44.9h.9M413.0 57.5h.9M417.7 47.5h.9M403.9 57.4h.9M412.5 53.4h.9M413.9 54.2h.9M404.3 46.6h.9M403.2 48.8h.9M419.5 58.1h.9M407.3 44.4h.9M406.0 58.0h.9M419.3 57.9h.9M423.3 44.0h.9M410.5 47.1h.9M397.9 51.1h.9M413.9 51.0h.9M414.8 50.6h.9M427.8 43.2h.9M417.4 44.1h.9M419.2 46.8h.9M417.7 49.8h.9M409.1 52.9h.9M401.9 53.4h.9M427.1 47.4h.9M405.1 51.8h.9M408.2 47.7h.9M412.7 50.7h.9M413.0 54.2h.9M427.3 46.3h.9M419.8 57.9h.9M415.5 48.3h.9M427.2 45.1h.9M407.6 51.9h.9M416.3 61.2h.9M404.1 54.7h.9M423.0 46.1h.9M412.7 49.2h.9M414.5 50.5h.9M404.1 49.8h.9M414.3 49.9h.9M423.2 51.6h.9M416.3 57.6h.9M423.5 49.3h.9M417.5 52.1h.9M420.2 50.5h.9M414.7 46.4h.9M427.9 57.4h.9M415.2 57.6h.9M409.5 52.9h.9M426.3 45.9h.9M408.6 49.9h.9M408.5 48.7h.9M420.3 52.6h.9M408.6 49.8h.9M420.4 53.4h.9M421.2 53.0h.9M417.4 55.1h.9M415.2 46.7h.9M405.7 61.7h.9M413.6 40.7h.9M416.8 46.5h.9M410.0 51.8h.9M406.8 53.2h.9M408.8 50.5h.9M406.1 40.7h.9M404.5 53.2h.9M415.1 54.9h.9M413.2 49.0h.9M398.0 48.2h.9M406.6 51.6h.9M420.7 52.5h.9M425.0 44.3h.9M401.2 50.9h.9M407.3 54.0h.9M429.3 43.9h.9M405.1 51.9h.9M417.7 56.6h.9M400.9 52.0h.9M408.3 55.4h.9M406.6 58.3h.9M406.8 56.6h.9M416.7 47.0h.9M405.7 49.3h.9M405.8 47.9h.9M411.9 48.2h.9M399.4 53.0h.9M398.9 55.8h.9M410.0 49.4h.9M402.4 46.2h.9M414.7 53.7h.9M410.9 55.4h.9M414.0 49.4h.9M410.9 52.4h.9M416.6 52.4h.9M405.1 55.2h.9M410.8 50.4h.9M423.0 54.6h.9M410.0 46.9h.9M416.0 51.5h.9M412.4 55.5h.9M421.6 44.9h.9M419.4 53.5h.9M403.7 49.4h.9M402.4 48.4h.9M419.9 53.8h.9M419.1 55.4h.9M404.7 57.1h.9M409.3 46.4h.9M416.3 48.2h.9M408.1 48.3h.9M406.3 52.4h.9M425.3 49.7h.9M411.1 56.1h.9M405.0 53.1h.9M398.5 53.1h.9M421.3 55.6h.9M429.3 44.6h.9M408.1 46.5h.9M407.5 56.4h.9M411.7 45.8h.9M409.6 55.4h.9M413.5 54.1h.9M406.8 57.1h.9M404.8 52.9h.9M415.1 55.8h.9M408.0 53.1h.9M425.7 46.3h.9M406.2 55.8h.9M423.7 51.4h.9M409.2 47.5h.9M415.8 47.0h.9M397.6 50.0h.9M419.0 53.6h.9M409.0 50.9h.9M414.9 47.5h.9M411.9 50.2h.9M412.7 51.8h.9M415.2 45.8h.9M415.5 58.0h.9M402.4 46.1h.9M410.0 47.3h.9M404.9 49.1h.9M416.9 46.6h.9M407.7 55.1h.9M411.1 50.6h.9M411.9 39.9h.9M420.3 55.9h.9M407.6 45.7h.9M407.9 53.2h.9M408.5 57.0h.9M411.2 57.3h.9M409.1 55.4h.9M412.7 50.7h.9M409.0 60.1h.9M409.4 51.0h.9M411.4 49.5h.9M404.5 50.6h.9M412.9 53.7h.9M408.0 53.3h.9M404.3 56.3h.9M397.6 52.3h.9M422.9 46.0h.9M419.2 49.8h.9M415.4 52.1h.9M406.9 53.5h.9M417.3 52.7h.9M412.3 56.4h.9M411.2 47.1h.9M411.6 50.3h.9M409.9 58.6h.9M417.7 48.8h.9M414.0 52.5h.9M416.7 52.3h.9M405.4 51.7h.9M417.2 51.2h.9M422.6 49.0h.9M405.3 57.8h.9M407.5 56.8h.9M411.0 49.0h.9M431.9 55.7h.9M405.4 50.2h.9M409.8 53.2h.9M421.8 50.2h.9M418.1 42.3h.9M410.0 60.2h.9M408.6 49.9h.9M402.0 55.6h.9M405.9 57.0h.9M407.7 44.7h.9M408.5 50.2h.9M412.1 56.7h.9M414.4 54.0h.9M416.9 45.0h.9M407.1 54.7h.9M413.4 53.0h.9M402.9 52.8h.9M419.0 51.4h.9M410.0 50.5h.9M410.5 41.7h.9M420.2 50.0h.9M429.3 40.9h.9M409.7 52.4h.9M416.6 50.9h.9M411.6 56.6h.9M411.6 54.5h.9M416.2 48.5h.9M414.1 51.1h.9M409.2 48.7h.9M411.9 48.3h.9M412.1 56.9h.9M416.5 46.5h.9M416.7 53.2h.9M418.2 46.9h.9M419.3 53.0h.9M413.1 46.7h.9M415.9 47.8h.9M410.0 50.5h.9M416.0 53.0h.9M419.1 46.2h.9M398.0 54.8h.9M403.4 54.9h.9M412.9 54.5h.9M412.5 51.6h.9M406.8 50.0h.9M409.6 54.4h.9M405.7 48.3h.9M420.7 49.3h.9M406.8 54.1h.9M413.7 52.4h.9M416.5 53.2h.9M420.8 47.5h.9M424.0 41.2h.9M417.3 43.7h.9M418.5 50.1h.9M408.8 49.5h.9M397.9 58.6h.9M418.3 51.6h.9M417.0 47.0h.9M417.0 48.3h.9M410.0 47.6h.9M417.5 45.9h.9M402.6 56.8h.9M404.8 54.9h.9M406.9 50.4h.9M414.5 48.5h.9M404.2 56.4h.9M405.8 55.3h.9M417.7 52.1h.9M409.4 53.3h.9M409.9 44.3h.9M423.0 53.8h.9M421.0 43.6h.9M411.1 50.2h.9M418.2 61.4h.9M417.1 51.2h.9M412.4 56.3h.9M419.6 52.0h.9M406.1 51.3h.9M416.4 48.4h.9M412.7 56.1h.9M408.4 54.7h.9M405.1 54.0h.9M420.1 59.2h.9M414.2 46.8h.9M409.6 54.9h.9M416.5 49.6h.9M415.9 43.1h.9M409.0 51.8h.9M405.4 41.9h.9M406.0 58.8h.9M400.8 47.0h.9M423.1 45.5h.9M414.9 50.5h.9M420.2 46.7h.9M399.9 57.9h.9M418.2 46.0h.9M406.8 52.8h.9M414.3 49.5h.9M407.0 50.9h.9M404.8 51.3h.9M403.0 50.4h.9M411.4 54.4h.9M406.1 51.1h.9M403.1 59.7h.9M409.9 57.2h.9M410.0 55.6h.9M409.8 51.4h.9M404.8 49.6h.9M424.9 52.6h.9M408.6 50.6h.9M417.3 51.4h.9M421.5 46.0h.9M409.1 57.9h.9M421.4 53.9h.9M418.3 46.7h.9M409.0 58.0h.9M402.0 53.2h.9M417.1 53.3h.9M414.0 56.3h.9M420.4 50.6h.9M412.2 46.7h.9M412.5 49.3h.9M411.4 48.8h.9M418.0 52.2h.9M398.8 57.8h.9M430.6 43.8h.9M411.0 54.8h.9M411.5 47.1h.9M417.4 54.9h.9M403.6 53.0h.9M424.5 50.0h.9M414.6 58.6h.9M401.8 56.0h.9M413.5 58.1h.9M407.7 53.9h.9M425.8 51.9h.9M420.6 51.2h.9M408.2 54.8h.9M400.1 46.0h.9M413.5 56.0h.9M410.3 49.4h.9M405.9 53.4h.9M405.4 57.0h.9M407.0 47.3h.9M413.3 42.3h.9M415.0 58.9h.9M418.8 54.4h.9M414.1 52.8h.9M412.8 56.2h.9M415.2 48.3h.9M403.6 43.5h.9M408.5 49.6h.9M411.6 53.6h.9M404.4 54.0h.9M415.7 57.0h.9M403.9 56.7h.9M411.5 51.3h.9M413.5 54.6h.9M407.0 54.6h.9M407.3 47.3h.9M417.2 51.8h.9M405.2 59.1h.9M410.4 43.7h.9M416.0 48.9h.9M405.3 49.7h.9M413.5 52.4h.9M410.0 52.0h.9M404.4 58.4h.9M405.7 57.2h.9M420.3 45.1h.9M403.9 54.6h.9M412.9 55.7h.9M402.7 59.6h.9M410.2 52.4h.9M418.3 46.9h.9M404.0 57.5h.9M408.5 46.8h.9M410.5 56.0h.9M408.5 49.8h.9M401.7 52.0h.9M424.5 48.5h.9M411.5 51.7h.9M419.2 53.5h.9M418.7 52.9h.9M419.2 55.5h.9M412.4 50.1h.9M413.6 55.6h.9M399.5 59.8h.9M411.3 49.7h.9M425.4 51.8h.9M413.7 56.7h.9M412.3 54.8h.9M408.2 53.1h.9M406.5 58.5h.9M412.9 56.8h.9M412.5 54.1h.9M416.6 52.3h.9M410.2 53.2h.9M406.1 55.7h.9M402.9 48.3h.9M420.9 48.2h.9M414.8 51.6h.9M413.3 47.9h.9M405.9 56.8h.9M412.1 51.5h.9M413.8 46.2h.9M410.0 56.9h.9M410.7 54.3h.9M423.6 53.8h.9M412.1 46.9h.9M417.1 45.8h.9M406.4 59.8h.9M405.9 54.2h.9M402.6 55.5h.9M415.1 53.2h.9M410.3 53.9h.9M411.2 51.9h.9M412.6 49.5h.9M417.3 55.6h.9M413.6 54.0h.9M403.4 57.4h.9M419.1 54.3h.9M400.8 59.6h.9M410.7 44.8h.9M420.4 51.5h.9M407.4 48.4h.9M401.8 46.0h.9M399.7 50.9h.9M420.1 53.0h.9M399.0 54.0h.9M411.3 50.2h.9M399.0 47.6h.9M422.6 49.9h.9M417.6 52.2h.9M411.0 51.8h.9M406.5 51.8h.9M423.2 51.4h.9M408.1 45.7h.9M412.6 58.2h.9M412.4 55.8h.9M416.6 53.8h.9M425.1 51.5h.9M411.6 59.7h.9M408.3 51.1h.9M414.0 54.9h.9M419.0 51.6h.9M411.3 50.5h.9M399.9 59.4h.9M408.3 51.0h.9M407.6 45.9h.9M402.1 57.1h.9M400.0 56.5h.9M413.3 44.9h.9M411.0 50.8h.9M417.5 51.9h.9M412.1 52.3h.9M404.3 55.2h.9M415.2 55.6h.9M407.8 56.0h.9M413.3 57.2h.9M416.8 53.8h.9M410.9 54.1h.9M404.1 49.5h.9M407.4 50.9h.9M427.2 53.3h.9M424.9 51.5h.9M414.7 56.1h.9M400.5 55.9h.9M407.9 52.4h.9M405.3 56.5h.9M405.3 48.0h.9M408.2 50.1h.9M420.2 48.7h.9M420.1 45.0h.9M409.0 50.6h.9M414.6 42.6h.9M403.1 57.0h.9M406.4 53.6h.9M407.3 53.2h.9M404.4 50.2h.9M413.9 43.3h.9M412.9 53.8h.9M403.3 47.6h.9M407.7 50.9h.9M414.3 55.6h.9M403.2 55.5h.9M415.5 49.0h.9M401.9 53.2h.9M406.6 51.8h.9M415.7 58.4h.9M406.6 50.9h.9M398.5 49.2h.9M419.1 52.4h.9M408.8 44.1h.9M418.3 48.6h.9M410.0 43.7h.9M409.1 51.0h.9M402.6 50.9h.9M406.9 56.6h.9M409.2 50.7h.9M413.8 53.7h.9M406.9 52.0h.9M404.0 50.1h.9M413.7 54.5h.9M402.6 61.4h.9M413.4 49.4h.9M418.7 51.0h.9M402.0 49.8h.9M413.6 46.3h.9M405.9 54.3h.9M412.0 50.8h.9M407.1 55.6h.9M410.3 48.9h.9M411.7 49.4h.9M418.0 51.2h.9M399.6 54.3h.9M412.5 43.2h.9M416.3 56.3h.9M410.5 52.4h.9M416.6 57.1h.9M407.8 50.2h.9M412.1 51.6h.9M405.1 55.8h.9M418.2 48.1h.9M409.0 49.5h.9M410.7 52.1h.9M414.4 52.4h.9M422.5 53.7h.9M420.9 47.4h.9M417.0 46.1h.9M410.0 52.2h.9M407.4 59.1h.9M402.7 55.1h.9M400.1 53.4h.9M406.5 47.8h.9M421.6 49.8h.9M409.4 56.4h.9M400.0 53.6h.9M416.8 47.7h.9M423.2 48.9h.9M432.9 50.1h.9M404.8 51.1h.9M402.2 52.7h.9M413.8 52.7h.9M413.4 56.5h.9M405.2 53.7h.9M412.8 51.7h.9M409.5 53.4h.9M397.9 56.9h.9M420.6 46.6h.9M412.0 47.5h.9M410.8 45.8h.9M413.4 48.5h.9M412.6 59.1h.9M401.7 59.8h.9M406.8 55.0h.9M414.2 56.9h.9M414.4 47.3h.9M422.5 53.3h.9M418.9 51.6h.9M405.8 54.6h.9M410.0 52.6h.9M405.9 46.8h.9M411.6 28.2h.9M406.5 21.7h.9M403.0 24.7h.9M403.8 26.4h.9M411.2 19.0h.9M407.7 24.1h.9M408.7 26.3h.9M405.1 25.6h.9M404.4 26.9h.9M400.5 26.4h.9M403.7 23.6h.9M410.7 20.1h.9M402.4 21.6h.9M417.6 27.7h.9M408.9 26.6h.9M409.9 26.3h.9M399.9 28.7h.9M405.2 25.0h.9M403.8 21.4h.9M399.2 23.4h.9M408.3 28.6h.9M405.3 27.4h.9M401.9 23.7h.9M400.8 23.3h.9M408.8 16.3h.9M399.1 20.9h.9M409.3 27.8h.9M413.1 22.6h.9M401.9 20.1h.9M400.1 29.3h.9M403.1 19.7h.9M400.5 28.5h.9M406.8 23.8h.9M408.5 23.9h.9M399.1 26.5h.9M402.5 23.9h.9M410.2 21.7h.9M404.3 27.6h.9M401.9 24.8h.9M412.1 20.1h.9M415.7 17.6h.9M404.8 22.2h.9M398.4 27.4h.9M404.7 20.0h.9M403.9 26.4h.9M405.3 28.1h.9M418.0 24.8h.9M406.2 26.2h.9M410.7 20.4h.9M405.1 24.7h.9M408.4 26.0h.9M399.9 24.2h.9M398.6 25.1h.9M415.7 21.7h.9M404.7 30.7h.9M405.9 18.2h.9M403.1 21.9h.9M411.9 29.4h.9M419.7 21.3h.9M405.0 21.0h.9M399.3 25.7h.9M408.8 36.3h.9M409.9 24.0h.9M411.2 26.2h.9M406.4 23.6h.9M403.0 19.0h.9M405.7 22.2h.9M399.6 26.4h.9M400.0 22.3h.9M407.5 26.2h.9M409.9 24.0h.9M400.7 30.7h.9M399.0 27.4h.9M403.1 26.8h.9M401.7 15.6h.9M405.2 26.6h.9M400.4 22.3h.9M411.7 28.1h.9M412.5 24.7h.9M404.2 23.0h.9M400.7 29.9h.9M403.1 27.5h.9M409.9 22.0h.9M412.8 26.2h.9M401.1 26.1h.9M406.8 31.9h.9M402.3 18.1h.9M399.7 25.8h.9M412.7 23.0h.9M405.5 15.9h.9M400.0 19.0h.9M412.2 23.2h.9M402.6 24.4h.9M407.4 22.4h.9M404.6 28.8h.9M401.7 28.6h.9M410.4 19.7h.9M407.2 26.0h.9M407.1 22.1h.9M404.5 21.7h.9M410.3 21.7h.9M404.9 27.8h.9M408.6 25.6h.9M405.8 22.0h.9M410.6 22.8h.9M397.8 23.2h.9M402.0 23.3h.9M398.5 16.8h.9M413.6 22.6h.9M411.6 20.8h.9M400.6 26.4h.9M405.4 21.4h.9M400.6 29.5h.9M408.7 24.7h.9M420.4 26.4h.9M405.1 24.9h.9M408.9 22.7h.9M400.0 25.9h.9M407.4 21.6h.9M408.3 24.9h.9M401.0 18.9h.9M411.5 23.0h.9M409.8 26.5h.9M407.9 30.3h.9M403.8 24.8h.9M402.5 19.2h.9M399.9 26.1h.9M399.6 26.5h.9M404.0 19.4h.9M409.6 22.3h.9M401.0 23.8h.9M404.2 22.7h.9M408.6 27.1h.9M405.0 23.3h.9M410.7 25.1h.9M407.8 25.2h.9M402.1 30.3h.9M400.8 25.3h.9M406.6 22.6h.9M404.1 25.3h.9M401.7 24.8h.9M403.3 23.6h.9M400.7 21.5h.9M417.3 22.6h.9M416.5 25.5h.9M405.9 25.9h.9M411.8 27.5h.9M424.4 25.1h.9M408.7 25.9h.9M408.3 24.5h.9M406.7 19.1h.9M400.2 24.2h.9M404.2 21.6h.9M407.6 30.2h.9M409.4 24.9h.9M405.7 27.8h.9M408.9 16.2h.9M404.1 27.2h.9M415.3 24.2h.9M404.6 30.0h.9M411.0 22.9h.9M405.0 17.5h.9M404.3 26.5h.9M403.7 21.9h.9M416.6 24.3h.9M407.3 19.4h.9M402.1 28.5h.9M400.6 18.9h.9M404.3 25.7h.9M404.6 16.7h.9M410.5 24.1h.9M413.0 25.6h.9M401.7 20.0h.9M406.2 24.4h.9M408.0 29.8h.9M411.3 22.7h.9M414.0 24.8h.9M403.7 24.2h.9M403.3 29.0h.9M415.2 20.2h.9M408.8 15.3h.9M403.9 23.6h.9M415.9 24.6h.9M410.8 19.4h.9M416.2 17.5h.9M405.2 21.5h.9M404.0 22.3h.9M412.7 24.3h.9M409.7 23.0h.9M409.3 23.6h.9M416.2 22.5h.9M405.9 17.2h.9M409.9 23.8h.9M400.9 18.8h.9M407.3 23.3h.9M412.6 21.4h.9M407.4 21.4h.9M406.6 27.3h.9M405.1 20.8h.9M410.2 26.0h.9M407.5 25.3h.9M403.4 25.6h.9M407.7 21.1h.9M405.8 31.2h.9M405.5 18.8h.9M405.2 23.9h.9M399.9 24.1h.9M405.3 22.2h.9M404.8 24.5h.9M408.8 25.1h.9M402.7 21.0h.9M410.7 24.4h.9M400.3 19.3h.9M408.6 27.1h.9M397.7 23.3h.9M411.0 23.0h.9M411.9 27.1h.9M407.2 22.5h.9M404.3 20.5h.9M410.5 23.6h.9M406.6 26.1h.9M407.1 18.6h.9M407.9 27.6h.9M407.7 20.5h.9M406.2 26.6h.9M401.1 19.4h.9M405.1 24.4h.9M403.4 22.8h.9M409.3 28.5h.9M409.2 23.0h.9M408.7 25.6h.9M400.1 29.8h.9M408.3 24.7h.9M404.3 21.5h.9M398.1 23.9h.9M400.4 20.7h.9M401.4 24.7h.9M402.8 21.5h.9M403.2 23.8h.9M414.3 23.8h.9M404.2 24.9h.9M398.1 23.7h.9M408.2 25.1h.9M414.4 23.8h.9M418.7 22.6h.9M410.6 22.8h.9M405.7 23.5h.9M402.2 23.0h.9M400.9 24.0h.9M398.8 24.2h.9M408.4 20.5h.9M404.3 20.6h.9M404.8 22.4h.9M401.5 24.4h.9M410.2 24.9h.9M402.0 25.7h.9M410.8 19.2h.9M402.5 22.7h.9M414.0 26.3h.9M412.2 22.3h.9M400.8 23.3h.9M401.2 22.1h.9M410.3 21.5h.9M412.5 19.6h.9M398.3 15.8h.9M404.0 19.4h.9M413.9 25.9h.9M406.8 24.4h.9M409.5 23.8h.9M400.0 21.9h.9M407.0 24.8h.9M402.7 26.1h.9M408.5 22.0h.9M416.6 26.8h.9M405.4 19.8h.9M410.1 22.5h.9M408.3 20.5h.9M412.0 27.9h.9M405.9 22.6h.9M412.6 26.4h.9M401.0 17.5h.9M412.9 31.2h.9M408.2 17.3h.9M404.0 31.8h.9M402.9 16.9h.9M401.7 17.2h.9M417.6 25.0h.9M399.9 30.3h.9M417.0 28.0h.9M404.4 29.6h.9M402.3 30.6h.9M423.0 18.6h.9M397.6 29.8h.9M402.4 30.5h.9M417.6 19.3h.9M424.4 24.4h.9M421.9 29.4h.9M415.7 18.2h.9M419.9 21.9h.9M422.3 24.2h.9M426.5 30.1h.9M414.6 30.8h.9M420.5 22.2h.9M414.5 31.2h.9M419.1 28.7h.9M403.7 33.8h.9M421.5 23.7h.9M420.9 20.7h.9M421.0 25.4h.9M411.9 17.5h.9M418.9 24.8h.9M420.9 56.8h.9M423.5 54.3h.9M397.4 56.5h.9M398.5 61.6h.9M399.5 47.7h.9M417.8 60.8h.9M401.9 44.5h.9M419.9 59.3h.9M405.9 61.6h.9M401.2 47.6h.9M397.9 55.7h.9M399.7 45.0h.9M397.4 59.2h.9M420.1 41.4h.9M405.1 43.0h.9M421.4 57.2h.9M402.0 46.6h.9M429.0 50.8h.9M426.0 54.5h.9M419.7 57.0h.9M410.9 41.8h.9M415.5 60.8h.9M425.6 54.9h.9M412.1 60.6h.9M409.4 40.4h.9M416.4 38.4h.9M418.1 40.9h.9M404.5 44.6h.9M411.9 43.3h.9M420.4 42.2h.9M425.4 39.7h.9M427.3 49.4h.9M427.1 42.0h.9M431.0 48.2h.9M422.0 42.0h.9M433.1 45.2h.9M440.7 42.2h.9M428.4 49.9h.9" stroke="#000" stroke-width="0.9" stroke-opacity="0.5" fill="none"/>
<line x1="396.5" y1="8.5" x2="458.5" y2="8.5" stroke="#909090" stroke-width="1"/>
<line x1="458.5" y1="8.5" x2="458.5" y2="63.5" stroke="#909090" stroke-width="1"/>
<line x1="396.5" y1="8.0" x2="396.5" y2="64.0" stroke="#3a3a3a" stroke-width="1"/>
<line x1="396.5" y1="63.5" x2="459.0" y2="63.5" stroke="#3a3a3a" stroke-width="1"/>
<line x1="417.5" y1="8.5" x2="417.5" y2="63.5" stroke="#333" stroke-width="1"/>
<line x1="396.5" y1="43.5" x2="458.5" y2="43.5" stroke="#777" stroke-width="1"/>
<text x="394.5" y="67.5" font-size="3.4" fill="#000">10<tspan font-size="2.6" dy="-1.2">0</tspan></text>
<line x1="394.9" y1="63.2" x2="396.5" y2="63.2" stroke="#444" stroke-width="0.6"/>
<text x="390.5" y="64.9" font-size="3.4" fill="#000">10<tspan font-size="2.6" dy="-1.2">0</tspan></text>
<text x="410.1" y="67.5" font-size="3.4" fill="#000">10<tspan font-size="2.6" dy="-1.2">1</tspan></text>
<line x1="394.9" y1="49.6" x2="396.5" y2="49.6" stroke="#444" stroke-width="0.6"/>
<text x="390.5" y="51.3" font-size="3.4" fill="#000">10<tspan font-size="2.6" dy="-1.2">1</tspan></text>
<text x="425.6" y="67.5" font-size="3.4" fill="#000">10<tspan font-size="2.6" dy="-1.2">2</tspan></text>
<line x1="394.9" y1="36.0" x2="396.5" y2="36.0" stroke="#444" stroke-width="0.6"/>
<text x="390.5" y="37.7" font-size="3.4" fill="#000">10<tspan font-size="2.6" dy="-1.2">2</tspan></text>
<text x="441.2" y="67.5" font-size="3.4" fill="#000">10<tspan font-size="2.6" dy="-1.2">3</tspan></text>
<line x1="394.9" y1="22.4" x2="396.5" y2="22.4" stroke="#444" stroke-width="0.6"/>
<text x="390.5" y="24.1" font-size="3.4" fill="#000">10<tspan font-size="2.6" dy="-1.2">3</tspan></text>
<text x="456.8" y="67.5" font-size="3.4" fill="#000">10<tspan font-size="2.6" dy="-1.2">4</tspan></text>
<line x1="394.9" y1="8.9" x2="396.5" y2="8.9" stroke="#444" stroke-width="0.6"/>
<text x="390.5" y="10.6" font-size="3.4" fill="#000">10<tspan font-size="2.6" dy="-1.2">4</tspan></text>
<text x="458.9" y="18.0" font-size="8.8" text-anchor="end" font-weight="normal" font-style="normal" fill="#000" class="p">2.5%</text>
<text x="388.3" y="44.0" font-size="10.5" text-anchor="middle" font-weight="normal" font-style="normal" fill="#000" transform="rotate(-90 388.3 44.0)">CD8</text>
<path class="dots" d="M436 84h1M420.5 86h1M411 90.5h1M442 88h1M408.5 86.5h1M431.5 86h1M439 84.5h1M427 85.5h1M443 84h1M406 89.5h1M404 89h1M409.5 88.5h1M424 89h1M418.5 86.5h1M407.5 89.5h1M432.5 85h1M425.5 87h1M413.5 86h1M435 83h1M431.5 87.5h1M427.5 86h1M415 85.5h1M430.5 86.5h1M415.5 87h1M409.5 90.5h1M410 86.5h1M411 89h1M410 84h1M420.5 86.5h1M421 86h1M411 86h1M428.5 89.5h1M434.5 87h1M425.5 84.5h1M435.5 84.5h1M414 85h1M426.5 86.5h1M442 87h1M414 87.5h1M431 85h1M432.5 88h1M404 87h1M420 87h1M421.5 89h1M418.5 89.5h1M439 89h1M428.5 87h1M408.5 90h1M417 87.5h1M441 85h1M420 85h1M414 84h1M437 86.5h1M416 84.5h1M416.5 89.5h1M412.5 84h1M430.5 90h1M419 90.5h1M406.5 86h1M419 89.5h1M405.5 86h1M410.5 84h1M432 87.5h1M413 89.5h1M418 86.5h1M413.5 86.5h1M410 91h1M415.5 87.5h1M435 84.5h1M436 89.5h1M425 90h1M436.5 82.5h1M404.5 90.5h1M411.5 84.5h1M434 87h1M421.5 86.5h1M439 85.5h1M410 87.5h1M410 86h1M439 83.5h1M416 90h1M405.5 89.5h1M431 87h1M429.5 88.5h1M425 89h1M406 85h1M427 84h1M419.5 87.5h1M403.5 87.5h1M438.5 90.5h1M435.5 85.5h1M441.5 88h1M412.5 87.5h1M400.5 87.5h1M421.5 86h1M416.5 90h1M408 89.5h1M406.5 85h1M419 84.5h1M423.5 88.5h1M435 85h1M438 89h1M437.5 90.5h1M418 88.5h1M438 86.5h1M430 88h1M407.5 90h1M430 86.5h1M408 88.5h1M427.5 90.5h1M439 84h1M424.5 87h1M431 84.5h1M439 86h1M415 89.5h1M428 88h1M438 89.5h1M413.5 87h1M426.5 84.5h1M426 87h1M427.5 86.5h1M424.5 91h1M413.5 89h1M407.5 83h1M431 86h1M410 85.5h1M426 88h1M420.5 85.5h1M423 88h1M410.5 85.5h1M439 85h1M418.5 90.5h1M427.5 89.5h1M416.5 88h1M406.5 87h1M408 89h1M403 90h1M430 89h1M404.5 86h1M433 86h1M412 87h1M419 87h1M428.5 86.5h1M404 88.5h1M416 86.5h1M434.5 83.5h1M429.5 87h1M427 86.5h1M442.5 86.5h1M431.5 86.5h1M437 87.5h1M437 91h1M425.5 89h1M405 87h1M415.5 89.5h1M434.5 86.5h1M415 87.5h1M424.5 83.5h1M423 86.5h1M406 87h1M428.5 88.5h1M421.5 87.5h1M412.5 85h1M408 87.5h1M424 87h1M412.5 85.5h1M423 87h1M430.5 88h1M419.5 86h1M415 82.5h1M407.5 87h1M413.5 88h1M432.5 83h1M439 83h1M426.5 88.5h1M419.5 84h1M407 89h1M419 86h1M417.5 86h1M436 88h1M436 83h1M434 85.5h1M411.5 86h1M408.5 85h1M419 83.5h1M442 84h1M433.5 87.5h1M422 87.5h1M427 87h1M436 87h1M404.5 88.5h1M425.5 88.5h1M440 89h1M420.5 90.5h1M435.5 88h1M420 88.5h1M413 84h1M414.5 86h1M423 87.5h1M413 86h1M429 86.5h1M424 88.5h1M419 86.5h1M441 89h1M414 89.5h1M413 89h1M424.5 86h1M419.5 89.5h1M415.5 85.5h1M416.5 89h1M412.5 88h1M438 91h1M443.5 87.5h1M409.5 90h1M422.5 88.5h1M414.5 85.5h1M421 89h1M437 87h1M423 90.5h1M417.5 85.5h1M414.5 87h1M402 86h1M434 86h1M410 89h1M424 86h1M416.5 86h1M439.5 88.5h1M432 87h1M408 90h1M420.5 88h1M425.5 86h1M408 84h1M424.5 89.5h1M404.5 88h1M425 88h1M424.5 84.5h1M429.5 86.5h1M409 90.5h1M434.5 86h1M423.5 88h1M427 90h1M413 88h1M420.5 85h1M409.5 83h1M439 88.5h1M426 85.5h1M406 85.5h1M407 88.5h1M430.5 85.5h1M403.5 87h1M408.5 88h1M412 87.5h1M421 87h1M416 88.5h1M416 89h1M411 88.5h1M403.5 89h1M426.5 89.5h1M417 90h1M435.5 88.5h1M406.5 86.5h1M424 85.5h1M416.5 84h1M423.5 85h1M402 87h1M436 87.5h1M434.5 84.5h1M417.5 86.5h1M416 84h1M425 85h1M434.5 88h1M417.5 89h1M425.5 83.5h1M403 84.5h1M437.5 89h1M414.5 87.5h1M410.5 86.5h1M432 88.5h1M434 87.5h1M441 84.5h1M443 85.5h1M425.5 86.5h1M441.5 88.5h1M430.5 87.5h1M439 87.5h1M408.5 87h1M417.5 88h1M426 85h1M422 88h1M404 86.5h1M432 90h1M410.5 88.5h1M435 88.5h1M414 88.5h1M415 86h1M399.5 86.5h1M437.5 88h1M413 88.5h1M440.5 87.5h1M443.5 86.5h1M437.5 85h1M423.5 90.5h1M409 87h1M430.5 84.5h1M430 88.5h1M425.5 85.5h1M434.5 88.5h1M430.5 89h1M415.5 88h1M436.5 86.5h1M415.5 84.5h1M400.5 85h1M405 86.5h1M437 86h1M405 90h1M417 87h1M431.5 90.5h1M411.5 84h1M444 86h1M425 87.5h1M407.5 86h1M410 87h1M432.5 86.5h1M404.5 87h1M435.5 89h1M424 84.5h1M407 87.5h1M435 84h1M440.5 85h1M408.5 90.5h1M431.5 90h1M435 90h1M433 87h1M420 89h1M414.5 83h1M403.5 86h1M436.5 86h1M409 91.5h1M416 89.5h1M411 91h1M418 85h1M425.5 87.5h1M430 85h1M432 84h1M434.5 82.5h1M413 86.5h1M405 90.5h1M417.5 85h1M410.5 84.5h1M432.5 87.5h1M425 86.5h1M441.5 89.5h1M417.5 89.5h1M415 83.5h1M419.5 88.5h1M441.5 87.5h1M407 86h1M428 90h1M439.5 86h1M426 89.5h1M438 85.5h1M405.5 88h1M423 89h1M428.5 91.5h1M426.5 87.5h1M411 85h1M412.5 86h1M407.5 88.5h1M413.5 85h1M412 89.5h1M410 90.5h1M427 86h1M425 91h1M422 86.5h1M412 88h1M411 89.5h1M403 87.5h1M434 114h1M426.5 113.5h1M419.5 113.5h1M420 123h1M417 117.5h1M437.5 120h1M416.5 118.5h1M428 114.5h1M425.5 111.5h1M425 112.5h1M435.5 113h1M443.5 116.5h1M430 121.5h1M425.5 120.5h1M428.5 115.5h1M439.5 109h1M419 116.5h1M426 112h1M427 114h1M421 113h1M433 109.5h1M426.5 112h1M416.5 122h1M432.5 112.5h1M432.5 114.5h1M428 115h1M434.5 116.5h1M436.5 115h1M426 120.5h1M422.5 111.5h1M421.5 113h1M436 113h1M430.5 110.5h1M417.5 112.5h1M437.5 112.5h1M438 118h1M436 116h1M430.5 120.5h1M429.5 107.5h1M426.5 118h1M430.5 114.5h1M423.5 118h1M430 112.5h1M432.5 116.5h1M426.5 122.5h1M424.5 119h1M436.5 118h1M425 118.5h1M432 113.5h1M427.5 112.5h1M446 119.5h1M432 114.5h1M436 112.5h1M420 115.5h1M420.5 108.5h1M429.5 114.5h1M432.5 120h1M441.5 117h1M429.5 112.5h1M436 117.5h1M446 112h1M433.5 111h1M418 114h1M422 110.5h1M422.5 122h1M423.5 116.5h1M436 117h1M436 119h1M428.5 116.5h1M414.5 113.5h1M429 114.5h1M428 107h1M429 113h1M427 122h1M426.5 110h1M425.5 117.5h1M419.5 109h1M440.5 117h1M441 116h1M430.5 120h1M418 116h1M423.5 111.5h1M416.5 114h1M419 111.5h1M437 118.5h1M424.5 116.5h1M430 115.5h1M427.5 113.5h1M435.5 118.5h1M426.5 117h1M414.5 119.5h1M439.5 114h1M440.5 120h1M439.5 113h1M438 115.5h1M435.5 117h1M438.5 113.5h1M429 119.5h1M435.5 123h1M432.5 115.5h1M431 110.5h1M425 111h1M429.5 118h1M437.5 112h1M431 119h1M430.5 112h1M427 114.5h1M435.5 121.5h1M417.5 110.5h1M434.5 112.5h1M445 117.5h1M427 118h1M441.5 119.5h1M422.5 117.5h1M430 112h1M429.5 106.5h1M441.5 121.5h1M427 117.5h1M437 118h1M445 120.5h1M420.5 112.5h1M439 115h1M420 120h1M431.5 117.5h1M431.5 113.5h1M430.5 117h1M423.5 110.5h1M423.5 112.5h1M430.5 116h1M412 115.5h1M424.5 113h1M429.5 110.5h1M417 120h1M434 117h1M433.5 119.5h1M424 116h1M423.5 110h1M433.5 121h1M419 119h1M419.5 122.5h1M429.5 118.5h1M435.5 114h1M438.5 114.5h1M422.5 109h1M417 113.5h1M409.5 114.5h1M427.5 115h1M426 115.5h1M432 116h1M429 117h1M425 115.5h1M428 114h1M422.5 114.5h1M432 117.5h1M441 105.5h1M440.5 109h1M418.5 112.5h1M418 113h1M432 118.5h1M430 115h1M430.5 115.5h1M432 122.5h1M436 118.5h1M425.5 122.5h1M433.5 116h1M431.5 116.5h1M439.5 115h1M428 108h1M418 118h1M439 111.5h1M417 117h1M420 109h1M435 114h1M414.5 111.5h1M430.5 114h1M415.5 121.5h1M445 117h1M427 110.5h1M444 111h1M416 113.5h1M431 115h1M418 116.5h1M421 112.5h1M431.5 116h1M409.5 113h1M428 111.5h1M430 121h1M436 112h1M423.5 120h1M430.5 112.5h1M424.5 120h1M441 110.5h1M421 118.5h1M420 109.5h1M430 110h1M416 109.5h1M424.5 121.5h1M428.5 121h1M444 119.5h1M435.5 110.5h1M415.5 116.5h1M409 120.5h1M424 112.5h1M428.5 118.5h1M441 112.5h1M442.5 112.5h1M425.5 123.5h1M418.5 115h1M450 111.5h1M425.5 121.5h1M408.5 116.5h1M426 122.5h1M441.5 117.5h1M440 115.5h1M425 114h1M427 121h1M442.5 116h1M418 120.5h1M425.5 114h1M447.5 113h1M446.5 119h1M429.5 121h1M433 111.5h1M423.5 121h1M419 112.5h1M436.5 115.5h1M409.5 112h1M438 118.5h1M439.5 109.5h1M435.5 112h1M442.5 114.5h1M427.5 115.5h1M418 117h1M423 116h1M433.5 120.5h1M443 111.5h1M439.5 117h1M416 118h1M420.5 116h1M433.5 122h1M431.5 108.5h1M422.5 121.5h1M430 114h1M444.5 110h1M435.5 115h1M433.5 118.5h1M424 123.5h1M434 109.5h1M437.5 116h1M427 113h1M429 118h1M426.5 124.5h1M436.5 112.5h1M434.5 117h1M430.5 113.5h1M425.5 112h1M417.5 117.5h1M444 109h1M421.5 110.5h1M434 120.5h1M415 117h1M421.5 120h1M420.5 112h1M440 114.5h1M439 111h1M428 117.5h1M434 119h1M428 111h1M437 117h1M422.5 119.5h1M419.5 121.5h1M431 113.5h1M432 115h1M428.5 118h1M431.5 112.5h1M426.5 119h1M431.5 114.5h1M420 116.5h1M432.5 109h1M416 119h1M442 116h1M445 112h1M425 117h1M421 115.5h1M428.5 107.5h1M423 115h1M442.5 117h1M422 117.5h1M438.5 116.5h1M438.5 117.5h1M435 115.5h1M437 113.5h1M444.5 115h1M436 110h1M431.5 121.5h1M418 109h1M428 116h1M439 115.5h1M440.5 111.5h1M435 116.5h1M445 119.5h1M438 112h1M425.5 113h1M432 121h1M434.5 115h1M428 117h1M426 114h1M432 112.5h1M444 116.5h1M420 118.5h1M435 112h1M435 110h1M419.5 110h1M430 117.5h1M433.5 114h1M430.5 108.5h1M425.5 116.5h1M427 108.5h1M430 122.5h1M414.5 120.5h1M417.5 114h1M440.5 115h1M427.5 119h1M425.5 109h1M425.5 115h1M423.5 115h1M408.5 114.5h1M432 116.5h1M424 115h1M417 115h1M431 109.5h1M429.5 112h1M438 114.5h1M421.5 117.5h1M419.5 108.5h1M415.5 115.5h1M441.5 104.5h1M418 111h1M414.5 110h1M430 113.5h1M421 111h1M424.5 114h1M438.5 114h1M418.5 116.5h1M433 114h1M431.5 109h1M418.5 117h1M437.5 113.5h1M436.5 110h1M423 121h1M426 115h1M435 119h1M433 123.5h1M428.5 116h1M427 123.5h1M428.5 109.5h1M430 111h1M430.5 106.5h1M420 113.5h1M421.5 114h1M418 110h1M427 112.5h1M440 114h1M418.5 113h1M435 119.5h1M436 120h1M428.5 114h1M435.5 116h1M428 119h1M439.5 118h1M428 110.5h1M420 110.5h1M423 118.5h1M440.5 115.5h1M434 111h1M442.5 113h1M433 108h1M421 119h1M426.5 115.5h1M433.5 117.5h1M437.5 114h1M430.5 121h1M436.5 119.5h1M411 120h1M425.5 116h1M432.5 122h1M420.5 113.5h1M423.5 118.5h1M431 111.5h1M432 106.5h1M441 115.5h1M437 113h1M425 111.5h1M420 117.5h1M440 112.5h1M431 116h1M436.5 114h1M424 122.5h1M433 120h1M430 122h1M427 123h1M430 116h1M434 117.5h1M424 114.5h1M440 109h1M441.5 116.5h1M432.5 117h1M412 111.5h1M417 111h1M426.5 118.5h1M406.5 115h1M429 109.5h1M437 120h1M414 122h1M428.5 105h1M423 113h1M418.5 118.5h1M442.5 120h1M424.5 113.5h1M437.5 113h1M429 121.5h1M433.5 115h1M442.5 116.5h1M431.5 114h1M425 116.5h1M436.5 116.5h1M429.5 115h1M415.5 117h1M429 120h1M439.5 116h1M432.5 114h1M430 120.5h1M420.5 109.5h1M438 110.5h1M427 115.5h1M439 116h1M439.5 114.5h1M421 116h1M438.5 118h1M431 113h1M439 119h1M436.5 113.5h1M433 107.5h1M431 117h1M445.5 114.5h1M431.5 106.5h1M428 118.5h1M434.5 109.5h1M425 113.5h1M430.5 116.5h1M422.5 111h1M407 110.5h1M433 117h1M421.5 112h1M438 113.5h1M429 115.5h1M411.5 117h1M442.5 114h1M447 114h1M428 112h1M420.5 117h1M429 111.5h1M428.5 113h1M436.5 113h1M423 119h1M442 117.5h1M428 119.5h1M431.5 115.5h1M426 117h1M422 118h1M424.5 117h1M420 122.5h1M439 114h1M421 113.5h1M422 111h1M424.5 111.5h1M430.5 110h1M440.5 112h1M420 110h1M437.5 119h1M432 112h1M417.5 116h1M442 113h1M434.5 114.5h1M434 118h1M427.5 119.5h1M434.5 115.5h1M423.5 115.5h1M434.5 122.5h1M428 116.5h1M433.5 108h1M416.5 113.5h1M434.5 121.5h1M438 111.5h1M441 123h1M438 111h1M421.5 118.5h1M431 114h1M427.5 111h1M441 115h1M434 116.5h1M437 115.5h1M442 113.5h1M440 117.5h1M428 118h1M443.5 112h1M435.5 117.5h1M450 111h1M440.5 110.5h1M421 116.5h1M430 117h1M434 115.5h1M423 112.5h1M433 121h1M409 114h1M426.5 119.5h1M436.5 112h1M421.5 110h1M423 114.5h1M422.5 110.5h1M426 124.5h1M424 120.5h1M426.5 112.5h1M431.5 118.5h1M437.5 111.5h1M440.5 122.5h1M437 112.5h1M426.5 113h1M417.5 115.5h1M406.5 120h1M421.5 119h1M434.5 114h1M434.5 119h1M420.5 113h1M425 109.5h1M429.5 114h1M423 111.5h1M419 112h1M430.5 111.5h1M433 115.5h1M435.5 106h1M433.5 113h1M417.5 114.5h1M435.5 119.5h1M425 119h1M430.5 117.5h1M409 110.5h1M427.5 120.5h1M443.5 109.5h1M435.5 120.5h1M432 114h1M426.5 114.5h1M420.5 114h1M433 111h1M443 117h1M433 119h1M432.5 117.5h1M432 106h1M442.5 117.5h1M422.5 114h1M425 115h1M422 111.5h1M428.5 115h1M440.5 118h1M427 112h1M422 115h1M436 110.5h1M422 118.5h1M426 111.5h1M422 119.5h1M422.5 110h1M425 124h1M436 121.5h1M423 117.5h1M424.5 111h1M427.5 116.5h1M426.5 124h1M421 107.5h1M439 107h1M445.5 113h1M416.5 117.5h1M433.5 116.5h1M445 116h1M431.5 119h1M427.5 117.5h1M433 110.5h1M428.5 111h1M443.5 110.5h1M444.5 117h1M429.5 116.5h1M427.5 120h1M422 116h1M434 116h1M424 114h1M425.5 120h1M430 125h1M425.5 110h1M430 109.5h1M424 112h1M425 118h1M419.5 117.5h1M411.5 112.5h1M418.5 115.5h1M444.5 110.5h1M427.5 118.5h1M418.5 111h1M432 119.5h1M422 108h1M425 109h1M416 115h1M409 109.5h1M406 113.5h1M407.5 112h1M416.5 116.5h1M415 115h1M413 115h1M421 108h1M421.5 112.5h1M424.5 110.5h1M411.5 119h1M405 116.5h1M415.5 111.5h1M416.5 110.5h1M403 112.5h1M412.5 117.5h1M397.5 114.5h1M419.5 121h1M403 114h1M405.5 114.5h1M408.5 111h1M419 114h1M416.5 115.5h1M407 112h1M398.5 114.5h1M409.5 121.5h1M421.5 123h1M414.5 117.5h1M408.5 119h1M419.5 114h1M423.5 114h1M410 122h1M405.5 120.5h1M407 111h1M415 116h1M406.5 110h1M423.5 119.5h1M409.5 119h1M411 116.5h1M414 121h1M433 112h1M410.5 122h1M410.5 115.5h1M422 113h1M408 119.5h1M414.5 110.5h1M415 114h1M415.5 121h1M416 120.5h1M413 115.5h1M411 116h1M414.5 115h1M413.5 108.5h1M405.5 113.5h1M414 114.5h1M414 113h1M416 114.5h1M415 109h1M415 120h1M413 114.5h1M414 116h1M419.5 112.5h1M417.5 118h1M407.5 121.5h1M404.5 121h1M420.5 124h1M403 115h1M414 121.5h1M422.5 116h1M401.5 113h1M412 113.5h1M406 113h1M408 121h1M413.5 120h1M408.5 115.5h1M412 112h1M421 121h1M411 118h1M419.5 124h1M408.5 118h1M413 120.5h1M429 110h1M408 120.5h1M412.5 110h1M407.5 113.5h1M406 114.5h1M422.5 112.5h1M414 117h1M417.5 119h1M415 110.5h1M406.5 111h1M405.5 115.5h1M412.5 121.5h1M411.5 113h1M413 112.5h1M406.5 121.5h1M407 122h1M413 111h1M405.5 110h1M411.5 116.5h1M413 110h1M412 109h1M407 115.5h1M405 117h1M416.5 111.5h1M407 116.5h1M413.5 119.5h1M412.5 120h1M405.5 114h1M412 122h1M410.5 113h1M405 115h1M419.5 107h1M412 121h1M410 115.5h1M417 110h1M406 115h1M411 118.5h1M403 112h1M407.5 114.5h1M408.5 117.5h1M410 111.5h1M415.5 119.5h1M407 118h1M410 115h1M419.5 119h1M413 119h1M406 114h1M407.5 115.5h1M409 115h1M419 116h1M421.5 119.5h1M412 117.5h1M413 117h1M411.5 114.5h1M412 118h1M419.5 106.5h1M409 111h1M402.5 115h1M420 114.5h1M414.5 113h1M413 112h1M412 110.5h1M413 117.5h1M412.5 113.5h1M408.5 112h1M408 116h1M405.5 118h1M412 119.5h1M420 107h1M415 112h1M411.5 117.5h1M413.5 122.5h1M417.5 120.5h1M423 113.5h1M411 123h1M427.5 112h1M413.5 110.5h1M405.5 111.5h1M426 113.5h1M416 121.5h1M416 110.5h1M407 119h1M408.5 122h1M415.5 113.5h1M402.5 113.5h1M412 117h1M410.5 112h1M412 116h1M417 116.5h1M423 114h1M408 112h1M408 111.5h1M417 116h1M416 115.5h1M406 117h1M407.5 113h1M421 112h1M411 111h1M415 114.5h1M410.5 119h1M418 112h1M409 112.5h1M411.5 110h1M413.5 119h1M414.5 112.5h1M421.5 116.5h1M417.5 120h1M399 115.5h1M412 120h1M410.5 118.5h1" stroke="#000" stroke-width="1" fill="none"/>
<path class="dots" d="M445.7 90.3h.9M445.5 84.2h.9M405.1 83.2h.9M410.4 92.1h.9M417.6 85.6h.9M410.9 86.9h.9M424.0 86.6h.9M421.7 83.1h.9M443.1 88.3h.9M416.9 87.2h.9M426.2 87.6h.9M426.6 86.3h.9M431.9 90.7h.9M419.4 90.4h.9M404.8 91.5h.9M411.0 86.2h.9M424.3 85.0h.9M408.4 84.5h.9M404.4 85.5h.9M407.9 87.0h.9M405.7 82.9h.9M415.4 87.5h.9M403.5 79.9h.9M438.0 87.4h.9M419.0 88.2h.9M409.9 88.1h.9M435.7 88.2h.9M419.2 90.2h.9M439.0 87.4h.9M407.2 86.4h.9M411.3 86.7h.9M407.2 88.8h.9M429.9 89.1h.9M432.7 85.7h.9M421.6 88.9h.9M420.9 87.8h.9M440.5 91.8h.9M409.8 91.3h.9M426.7 85.9h.9M412.5 86.6h.9M428.0 80.4h.9M433.4 91.0h.9M420.8 85.3h.9M420.0 90.7h.9M442.6 90.0h.9M417.9 89.2h.9M429.8 88.4h.9M413.9 88.7h.9M406.8 84.7h.9M433.6 92.6h.9M431.8 86.9h.9M422.4 91.3h.9M412.9 84.2h.9M435.7 84.9h.9M432.6 88.6h.9M437.1 87.9h.9M411.8 87.6h.9M426.1 86.5h.9M435.1 95.9h.9M432.2 81.6h.9M426.9 90.1h.9M413.5 85.7h.9M430.7 84.6h.9M409.9 89.2h.9M411.3 87.4h.9M438.8 88.0h.9M414.8 85.5h.9M409.2 86.1h.9M401.5 82.0h.9M404.4 93.4h.9M420.6 87.5h.9M417.7 80.8h.9M444.2 87.9h.9M400.5 88.4h.9M406.6 85.0h.9M429.1 82.5h.9M433.2 87.3h.9M424.6 85.9h.9M404.7 91.9h.9M437.7 98.1h.9M437.2 87.9h.9M419.3 92.1h.9M423.1 83.1h.9M440.1 87.8h.9M435.5 87.1h.9M414.3 87.4h.9M412.3 91.5h.9M430.4 89.6h.9M434.2 86.7h.9M416.6 90.6h.9M419.7 90.2h.9M436.1 88.4h.9M443.2 88.8h.9M423.4 82.6h.9M426.8 88.6h.9M414.1 87.4h.9M427.3 88.1h.9M413.6 89.5h.9M418.5 87.3h.9M409.0 88.0h.9M412.5 86.1h.9M431.1 85.4h.9M436.5 88.8h.9M443.4 82.4h.9M442.2 89.3h.9M415.5 82.7h.9M422.6 87.9h.9M436.0 90.5h.9M431.3 92.2h.9M420.8 82.4h.9M430.2 88.7h.9M422.2 88.6h.9M401.7 87.7h.9M438.8 93.2h.9M441.5 78.5h.9M442.4 80.1h.9M422.1 85.6h.9M437.7 86.1h.9M417.0 92.4h.9M422.3 88.4h.9M422.3 84.6h.9M414.0 84.1h.9M408.2 83.0h.9M416.8 87.6h.9M429.8 90.1h.9M423.8 86.2h.9M424.1 89.7h.9M431.6 85.1h.9M415.6 88.6h.9M417.4 91.2h.9M412.0 85.4h.9M433.6 84.3h.9M420.2 90.5h.9M430.6 87.2h.9M404.0 88.3h.9M428.9 85.2h.9M417.0 85.3h.9M428.9 85.2h.9M400.0 88.0h.9M408.0 80.9h.9M420.7 84.3h.9M442.4 88.7h.9M420.5 91.1h.9M439.8 90.2h.9M425.3 86.6h.9M438.8 88.9h.9M442.4 88.7h.9M408.7 85.7h.9M432.1 88.2h.9M423.8 82.8h.9M434.8 85.8h.9M419.3 88.4h.9M411.8 78.5h.9M404.0 84.9h.9M414.1 89.9h.9M422.9 84.4h.9M441.2 91.9h.9M420.1 93.2h.9M434.6 86.1h.9M441.2 91.5h.9M407.8 82.0h.9M433.0 86.4h.9M420.8 88.0h.9M427.8 81.8h.9M442.3 90.8h.9M438.3 85.6h.9M433.4 91.4h.9M432.9 85.8h.9M428.2 84.2h.9M408.2 91.9h.9M409.2 94.3h.9M403.1 87.3h.9M421.0 92.8h.9M412.1 85.7h.9M436.3 85.3h.9M412.3 88.8h.9M436.3 87.5h.9M419.3 93.6h.9M430.6 89.1h.9M413.5 91.9h.9M409.1 84.0h.9M414.6 93.3h.9M411.5 87.4h.9M403.5 85.3h.9M407.2 85.8h.9M442.1 85.5h.9M435.4 87.9h.9M411.5 90.8h.9M427.5 84.6h.9M405.3 88.7h.9M409.2 90.9h.9M430.4 86.6h.9M406.3 91.2h.9M434.4 90.8h.9M420.7 88.5h.9M429.0 87.7h.9M425.8 92.4h.9M441.3 87.5h.9M432.5 86.5h.9M431.8 89.8h.9M424.5 90.2h.9M435.1 89.7h.9M416.4 81.8h.9M416.1 88.9h.9M416.7 81.9h.9M439.0 86.6h.9M404.2 94.6h.9M411.6 87.3h.9M433.6 87.7h.9M412.9 84.3h.9M402.0 93.0h.9M432.4 86.2h.9M408.9 81.1h.9M403.9 90.1h.9M433.8 83.7h.9M426.3 81.0h.9M440.1 89.4h.9M412.3 90.3h.9M436.1 84.9h.9M407.2 88.7h.9M416.3 87.1h.9M419.4 94.8h.9M426.6 87.2h.9M438.0 83.0h.9M429.8 86.3h.9M419.4 86.6h.9M435.7 85.1h.9M421.6 84.4h.9M431.0 90.2h.9M435.7 81.9h.9M417.8 85.8h.9M444.7 88.4h.9M402.9 85.4h.9M402.4 84.3h.9M422.8 88.2h.9M416.8 83.5h.9M434.9 90.6h.9M418.7 92.4h.9M443.4 93.1h.9M425.5 79.3h.9M426.6 89.5h.9M435.8 84.2h.9M433.4 87.5h.9M414.5 87.6h.9M443.4 87.7h.9M405.1 89.3h.9M412.8 83.6h.9M427.6 87.0h.9M441.8 84.6h.9M435.5 87.4h.9M442.2 89.6h.9M423.7 85.7h.9M416.6 84.3h.9M416.6 85.4h.9M429.8 89.4h.9M426.1 95.2h.9M420.1 82.7h.9M426.7 91.0h.9M435.4 93.2h.9M440.7 86.3h.9M414.3 87.0h.9M413.5 82.0h.9M409.3 86.5h.9M416.5 92.3h.9M399.2 89.5h.9M407.1 87.2h.9M434.1 87.9h.9M414.3 84.3h.9M441.3 86.5h.9M439.7 90.9h.9M418.6 83.2h.9M417.5 86.5h.9M434.9 82.5h.9M411.4 87.8h.9M417.0 83.4h.9M437.8 87.4h.9M437.6 90.8h.9M415.4 86.4h.9M419.1 88.6h.9M418.6 85.3h.9M431.5 92.2h.9M409.2 88.8h.9M426.1 85.7h.9M400.9 85.3h.9M414.6 89.2h.9M399.8 84.5h.9M435.1 91.8h.9M415.3 87.9h.9M415.7 88.3h.9M440.5 90.1h.9M431.0 90.4h.9M425.9 85.9h.9M407.2 90.2h.9M426.3 85.1h.9M451.0 91.4h.9M430.8 86.7h.9M408.1 87.9h.9M428.8 90.1h.9M434.0 90.5h.9M408.6 89.5h.9M442.1 92.0h.9M415.0 92.9h.9M404.2 84.4h.9M429.8 86.0h.9M433.4 88.8h.9M435.1 83.8h.9M421.0 87.7h.9M415.0 92.7h.9M441.9 90.3h.9M437.2 90.7h.9M433.0 82.3h.9M414.2 87.9h.9M426.4 84.4h.9M398.9 85.1h.9M416.7 88.3h.9M413.5 81.4h.9M431.4 90.6h.9M421.3 93.7h.9M438.0 89.1h.9M425.3 86.5h.9M436.2 88.7h.9M412.8 85.2h.9M409.4 89.5h.9M427.5 85.4h.9M435.5 88.6h.9M420.5 88.0h.9M437.7 90.4h.9M421.4 88.4h.9M433.1 86.2h.9M405.9 85.5h.9M439.0 83.2h.9M416.5 90.6h.9M416.4 82.6h.9M448.8 87.3h.9M418.9 87.8h.9M436.0 90.8h.9M424.3 92.2h.9M429.1 86.1h.9M405.1 83.5h.9M430.9 86.1h.9M429.1 84.6h.9M426.7 88.6h.9M432.9 83.8h.9M402.7 87.4h.9M429.0 87.4h.9M437.2 86.5h.9M409.9 85.9h.9M433.6 88.9h.9M420.9 83.8h.9M401.8 90.0h.9M440.3 84.2h.9M440.4 90.1h.9M425.5 91.7h.9M408.1 89.0h.9M423.0 88.2h.9M437.8 96.2h.9M427.2 85.4h.9M436.9 84.8h.9M415.5 91.1h.9M408.9 87.8h.9M425.2 91.3h.9M443.7 90.8h.9M404.2 83.1h.9M408.7 88.4h.9M411.1 85.7h.9M411.3 85.2h.9M441.6 85.5h.9M432.4 88.5h.9M436.7 92.9h.9M407.0 86.6h.9M443.2 92.2h.9M409.4 84.9h.9M407.4 85.9h.9M437.2 91.6h.9M436.8 83.7h.9M435.6 85.7h.9M412.3 87.2h.9M427.9 84.9h.9M424.7 88.0h.9M416.0 90.5h.9M404.1 88.5h.9M437.3 84.9h.9M425.1 86.9h.9M407.9 86.8h.9M412.7 84.7h.9M424.5 86.0h.9M437.0 88.7h.9M427.1 84.3h.9M401.7 85.4h.9M409.5 92.2h.9M431.2 88.2h.9M425.3 91.5h.9M441.1 86.9h.9M438.6 85.6h.9M405.4 93.8h.9M412.3 83.7h.9M418.9 83.4h.9M417.1 88.3h.9M443.5 81.9h.9M439.4 83.7h.9M420.8 84.1h.9M413.0 86.6h.9M424.9 90.3h.9M413.9 87.1h.9M406.9 86.4h.9M435.6 87.1h.9M436.5 87.9h.9M403.1 88.0h.9M416.3 88.6h.9M436.8 85.7h.9M428.9 84.5h.9M427.9 80.8h.9M418.2 84.2h.9M429.1 82.9h.9M404.2 87.5h.9M429.8 84.2h.9M405.2 80.4h.9M439.4 89.2h.9M426.9 87.9h.9M419.2 82.9h.9M416.8 92.1h.9M418.5 91.1h.9M403.9 85.4h.9M443.1 90.8h.9M401.3 88.4h.9M440.8 89.1h.9M428.7 85.7h.9M413.4 85.9h.9M404.2 79.3h.9M409.0 83.9h.9M439.1 85.8h.9M420.5 86.6h.9M432.7 84.4h.9M424.3 89.2h.9M426.8 83.0h.9M402.6 88.6h.9M423.0 86.9h.9M427.0 87.1h.9M435.1 87.6h.9M439.8 90.1h.9M416.5 86.2h.9M407.4 88.9h.9M414.4 86.7h.9M402.5 86.9h.9M436.1 91.8h.9M429.4 92.9h.9M413.6 87.6h.9M418.5 85.7h.9M405.0 83.7h.9M427.9 85.4h.9M410.0 82.0h.9M419.8 81.5h.9M432.4 85.1h.9M427.0 83.6h.9M426.7 84.8h.9M420.7 82.9h.9M416.2 88.8h.9M423.4 85.8h.9M416.8 91.8h.9M429.8 86.6h.9M405.4 89.3h.9M432.0 82.7h.9M434.8 88.3h.9M433.5 85.5h.9M443.4 88.1h.9M408.4 84.9h.9M416.1 82.0h.9M425.7 84.7h.9M431.5 86.7h.9M426.5 87.2h.9M430.3 91.5h.9M422.4 87.1h.9M407.1 87.5h.9M420.4 98.7h.9M401.2 84.1h.9M428.2 87.9h.9M425.6 85.8h.9M442.1 95.4h.9M424.8 80.2h.9M422.0 91.3h.9M427.0 93.4h.9M412.8 84.6h.9M434.8 85.9h.9M411.8 88.0h.9M441.2 92.7h.9M434.2 87.7h.9M420.9 93.5h.9M432.5 89.6h.9M436.7 87.6h.9M427.0 87.5h.9M427.9 87.4h.9M421.9 90.4h.9M418.5 90.7h.9M429.8 87.4h.9M407.7 88.5h.9M405.3 80.3h.9M438.7 89.2h.9M434.3 87.0h.9M440.5 88.3h.9M424.3 115.1h.9M423.5 112.1h.9M431.2 121.5h.9M440.2 109.6h.9M427.2 123.1h.9M413.9 108.3h.9M438.8 116.1h.9M438.4 115.8h.9M433.5 115.4h.9M424.8 124.3h.9M438.9 109.9h.9M408.3 114.2h.9M425.2 114.2h.9M407.2 119.4h.9M424.2 124.9h.9M406.6 110.6h.9M430.2 116.1h.9M431.1 109.6h.9M433.5 105.1h.9M412.5 124.2h.9M417.9 117.9h.9M412.8 115.9h.9M422.0 117.0h.9M422.6 109.3h.9M429.3 111.1h.9M428.7 113.6h.9M419.2 104.9h.9M427.2 104.4h.9M434.0 107.7h.9M415.4 117.5h.9M427.2 117.0h.9M438.2 113.4h.9M419.5 114.0h.9M429.3 104.3h.9M415.1 107.9h.9M431.0 124.5h.9M433.8 106.4h.9M427.9 118.8h.9M427.6 110.0h.9M422.6 116.9h.9M431.3 109.8h.9M417.7 117.7h.9M435.8 119.5h.9M430.8 109.3h.9M421.9 118.9h.9M423.8 119.1h.9M407.7 112.5h.9M436.8 120.3h.9M440.1 105.0h.9M413.8 108.4h.9M422.2 108.7h.9M435.7 121.0h.9M433.6 108.2h.9M439.7 113.5h.9M438.1 111.3h.9M440.8 108.5h.9M437.5 122.1h.9M423.2 110.4h.9M421.5 114.0h.9M423.8 109.1h.9M414.9 121.0h.9M412.7 122.9h.9M417.8 110.0h.9M439.7 120.0h.9M436.9 123.0h.9M418.1 116.7h.9M403.9 112.3h.9M442.9 119.8h.9M421.2 122.2h.9M453.9 108.1h.9M422.4 115.9h.9M442.0 112.9h.9M438.1 106.8h.9M414.2 102.8h.9M430.2 115.6h.9M405.1 115.0h.9M411.0 116.1h.9M412.2 119.7h.9M421.7 114.8h.9M432.4 124.1h.9M430.9 121.1h.9M420.8 113.3h.9M424.4 113.1h.9M428.9 113.1h.9M444.5 115.4h.9M404.1 121.3h.9M440.3 107.5h.9M427.1 112.6h.9M452.4 109.7h.9M413.5 104.5h.9M431.1 111.3h.9M431.8 111.0h.9M422.0 109.1h.9M427.8 118.3h.9M414.9 115.6h.9M445.4 117.7h.9M419.0 113.8h.9M431.9 111.3h.9M419.3 115.0h.9M404.5 117.0h.9M435.5 107.0h.9M418.9 113.7h.9M424.4 115.3h.9M409.6 112.1h.9M450.2 114.3h.9M445.4 124.7h.9M432.2 110.2h.9M411.8 112.5h.9M418.7 122.8h.9M436.1 121.8h.9M435.0 105.9h.9M430.0 108.9h.9M440.7 112.1h.9M432.0 109.3h.9M410.9 113.1h.9M400.6 109.3h.9M401.0 107.1h.9M452.0 115.6h.9M436.4 116.6h.9M432.3 116.6h.9M407.5 117.0h.9M431.0 112.2h.9M436.5 109.7h.9M416.2 114.9h.9M437.2 113.4h.9M438.7 107.5h.9M438.7 109.8h.9M423.9 112.8h.9M418.9 116.7h.9M423.4 119.3h.9M427.6 117.3h.9M442.4 103.5h.9M429.6 119.9h.9M403.7 114.7h.9M426.0 110.2h.9M415.8 117.1h.9M434.7 114.5h.9M424.9 117.1h.9M429.9 106.6h.9M447.8 116.5h.9M415.0 124.5h.9M410.0 117.7h.9M431.0 107.8h.9M410.9 115.0h.9M431.9 109.7h.9M414.4 117.9h.9M445.1 115.1h.9M429.8 112.9h.9M421.3 119.6h.9M436.0 117.1h.9M426.2 111.1h.9M426.1 121.8h.9M444.4 100.2h.9M435.6 108.0h.9M406.1 117.3h.9M424.8 115.3h.9M402.1 111.1h.9M423.5 112.1h.9M405.1 117.8h.9M409.4 115.7h.9M425.3 114.0h.9M424.2 119.6h.9M428.2 111.7h.9M426.2 112.5h.9M421.1 116.0h.9M428.3 110.0h.9M426.5 121.2h.9M430.6 109.7h.9M424.8 111.6h.9M423.5 110.4h.9M441.6 118.8h.9M422.4 115.6h.9M433.1 106.9h.9M411.5 108.4h.9M416.4 114.0h.9M422.1 119.9h.9M433.4 115.2h.9M433.8 113.5h.9M416.4 108.2h.9M432.4 115.5h.9M414.1 114.4h.9M418.4 103.8h.9M418.2 120.5h.9M444.5 122.2h.9M424.3 117.5h.9M432.2 117.9h.9M446.4 114.4h.9M432.8 117.5h.9M415.2 115.0h.9M411.8 103.0h.9M403.2 120.4h.9M419.5 99.8h.9M423.8 104.9h.9M420.9 117.6h.9M420.4 116.0h.9M443.3 125.1h.9M427.7 115.9h.9M415.2 112.7h.9M419.1 116.1h.9M419.7 117.9h.9M435.2 121.7h.9M415.9 119.6h.9M433.3 119.1h.9M441.3 123.1h.9M412.7 107.0h.9M419.1 115.6h.9M416.3 113.2h.9M419.2 122.9h.9M423.1 116.1h.9M420.0 108.7h.9M424.3 111.4h.9M423.2 112.5h.9M452.5 112.1h.9M428.1 123.7h.9M415.2 111.7h.9M398.0 107.5h.9M431.8 112.9h.9M421.6 124.2h.9M436.6 111.8h.9M417.0 116.3h.9M423.2 120.0h.9M421.7 113.3h.9M429.2 112.6h.9M447.6 112.2h.9M416.2 117.1h.9M433.4 113.6h.9M436.4 113.3h.9M417.0 107.4h.9M423.8 110.9h.9M416.6 121.2h.9M413.8 116.1h.9M436.8 119.7h.9M441.0 108.0h.9M418.6 107.9h.9M416.4 112.4h.9M431.6 108.7h.9M427.7 108.4h.9M430.6 110.9h.9M434.0 114.7h.9M448.5 111.1h.9M429.2 115.5h.9M427.0 116.0h.9M415.8 107.2h.9M430.5 120.6h.9M414.5 114.2h.9M419.4 115.4h.9M431.5 113.2h.9M438.8 110.4h.9M431.0 116.6h.9M442.0 108.1h.9M418.1 110.8h.9M425.5 112.4h.9M442.6 108.1h.9M432.9 113.6h.9M425.6 119.5h.9M424.5 114.3h.9M421.5 117.6h.9M424.8 91.8h.9M410.1 114.6h.9M439.1 113.3h.9M408.5 118.2h.9M427.8 116.8h.9M424.8 117.3h.9M437.0 120.5h.9M421.7 116.0h.9M445.9 124.2h.9M399.2 124.3h.9M444.5 118.8h.9M416.9 108.4h.9M410.0 109.8h.9M435.1 116.0h.9M431.6 118.1h.9M438.6 110.4h.9M432.6 112.9h.9M429.3 124.5h.9M414.5 115.0h.9M413.9 111.3h.9M406.5 122.8h.9M412.0 116.5h.9M428.7 120.1h.9M427.4 121.4h.9M438.5 119.1h.9M427.4 108.3h.9M422.6 109.4h.9M443.7 119.8h.9M425.0 106.8h.9M423.5 116.3h.9M429.3 116.2h.9M413.5 121.9h.9M440.6 118.9h.9M441.1 110.8h.9M413.7 114.2h.9M440.1 116.1h.9M430.9 122.8h.9M431.7 103.1h.9M415.2 117.8h.9M438.0 103.8h.9M426.3 113.2h.9M430.8 117.8h.9M433.1 119.8h.9M419.2 108.2h.9M429.8 109.8h.9M435.1 114.9h.9M416.0 106.9h.9M415.6 117.3h.9M408.9 121.4h.9M426.6 117.7h.9M407.2 115.3h.9M417.4 112.2h.9M411.2 110.1h.9M447.4 116.6h.9M432.7 122.9h.9M425.9 124.8h.9M399.2 118.1h.9M403.7 109.6h.9M428.1 109.9h.9M433.1 103.7h.9M428.6 103.1h.9M418.8 105.4h.9M414.5 110.7h.9M417.9 118.5h.9M410.0 113.0h.9M419.6 118.5h.9M419.4 113.6h.9M425.2 103.4h.9M431.1 108.0h.9M429.8 118.9h.9M408.4 114.6h.9M417.4 114.1h.9M410.3 115.1h.9M436.7 109.0h.9M430.7 124.5h.9M449.2 118.1h.9M424.1 120.5h.9M453.1 113.4h.9M430.4 119.0h.9M425.9 122.9h.9M415.5 109.2h.9M410.5 119.0h.9M441.5 120.1h.9M413.1 111.7h.9M452.3 120.9h.9M422.8 117.4h.9M438.1 109.2h.9M437.9 109.5h.9M432.3 121.7h.9M412.6 112.6h.9M418.4 109.1h.9M430.9 109.6h.9M429.1 114.8h.9M428.7 108.4h.9M401.6 118.4h.9M431.1 115.4h.9M421.1 113.8h.9M425.2 112.1h.9M425.6 115.1h.9M418.4 114.7h.9M431.4 104.7h.9M438.2 116.7h.9M412.1 117.1h.9M437.8 116.8h.9M415.6 122.0h.9M421.2 112.7h.9M441.0 112.1h.9M432.6 116.2h.9M431.4 120.7h.9M427.2 115.0h.9M423.9 104.7h.9M428.2 107.1h.9M430.2 114.1h.9M438.0 114.8h.9M423.7 120.2h.9M438.4 119.2h.9M418.1 114.9h.9M431.8 111.1h.9M425.1 105.6h.9M441.4 114.4h.9M433.4 105.5h.9M422.1 113.2h.9M434.6 116.3h.9M412.6 117.7h.9M443.8 107.9h.9M438.5 121.7h.9M439.3 110.1h.9M447.6 114.9h.9M416.1 114.3h.9M430.2 116.8h.9M417.0 121.2h.9M420.1 111.6h.9M414.0 111.3h.9M439.2 112.4h.9M424.1 109.8h.9M434.0 118.8h.9M432.0 115.4h.9M425.2 110.1h.9M431.7 114.5h.9M431.4 106.5h.9M430.1 113.7h.9M442.7 113.9h.9M456.5 116.7h.9M422.9 119.9h.9M431.3 124.6h.9M413.9 117.9h.9M437.4 118.8h.9M450.7 119.5h.9M430.1 117.2h.9M429.7 110.8h.9M429.7 118.6h.9M436.3 118.9h.9M420.1 109.6h.9M439.1 102.5h.9M416.1 111.9h.9M405.7 120.7h.9M430.2 115.8h.9M428.6 113.1h.9M428.1 112.9h.9M434.9 114.4h.9M427.4 121.5h.9M450.4 118.6h.9M415.7 119.8h.9M451.7 113.2h.9M444.6 123.8h.9M427.8 115.1h.9M428.8 115.5h.9M421.3 111.3h.9M413.9 104.9h.9M413.8 104.0h.9M407.7 115.4h.9M423.4 119.5h.9M419.6 124.6h.9M425.5 121.7h.9M446.7 114.4h.9M428.4 114.2h.9M416.5 120.0h.9M426.1 110.8h.9M416.0 114.7h.9M423.3 104.3h.9M408.6 102.8h.9M435.6 107.5h.9M414.8 114.7h.9M443.3 111.0h.9M424.7 109.1h.9M407.6 104.1h.9M450.6 117.0h.9M439.8 116.1h.9M422.5 119.2h.9M448.5 120.1h.9M431.7 114.1h.9M412.3 118.7h.9M414.1 120.9h.9M420.7 110.6h.9M419.5 117.9h.9M436.7 106.8h.9M444.8 116.3h.9M411.9 106.5h.9M424.5 101.1h.9M435.1 112.6h.9M425.4 113.4h.9M435.5 112.6h.9M428.8 118.4h.9M439.6 112.5h.9M429.4 107.0h.9M433.8 115.3h.9M428.5 109.2h.9M433.6 113.8h.9M431.5 112.1h.9M419.5 109.4h.9M437.9 111.3h.9M447.3 112.0h.9M417.6 107.4h.9M408.9 122.4h.9M433.6 117.8h.9M422.0 113.7h.9M422.1 108.8h.9M437.5 112.7h.9M436.2 112.2h.9M418.6 115.6h.9M439.6 110.8h.9M412.9 123.7h.9M414.3 108.3h.9M413.1 114.4h.9M431.7 113.2h.9M434.0 109.4h.9M425.6 119.5h.9M421.8 112.3h.9M439.9 114.8h.9M450.0 110.2h.9M411.2 121.3h.9M431.6 123.3h.9M420.2 121.7h.9M432.3 109.4h.9M404.4 112.2h.9M438.3 116.4h.9M428.3 113.8h.9M410.0 118.5h.9M425.4 112.0h.9M420.4 115.1h.9M431.2 115.3h.9M435.3 115.0h.9M411.1 106.2h.9M443.4 123.4h.9M430.2 117.4h.9M432.6 111.3h.9M414.4 111.7h.9M454.2 122.2h.9M429.2 115.1h.9M427.5 122.5h.9M424.7 118.6h.9M410.8 117.2h.9M426.1 123.3h.9M402.9 112.8h.9M436.3 113.7h.9M435.8 115.4h.9M399.1 115.7h.9M419.4 109.8h.9M425.2 118.2h.9M409.2 114.2h.9M439.6 107.1h.9M412.5 111.1h.9M432.6 101.7h.9M423.4 114.0h.9M403.9 106.5h.9M399.1 114.7h.9M425.1 121.1h.9M429.2 111.7h.9M432.8 117.3h.9M425.0 118.6h.9M414.6 115.2h.9M426.7 118.3h.9M451.6 110.0h.9M454.3 116.7h.9M433.8 111.0h.9M428.2 117.0h.9M408.1 113.7h.9M432.1 113.4h.9M420.5 119.4h.9M425.5 115.3h.9M437.0 118.5h.9M424.6 121.8h.9M429.7 114.7h.9M424.3 121.5h.9M410.7 116.4h.9M443.0 104.8h.9M426.7 113.0h.9M424.3 113.0h.9M424.5 114.8h.9M441.7 103.4h.9M436.4 118.2h.9M435.2 103.6h.9M404.5 111.9h.9M424.2 116.1h.9M424.4 123.8h.9M414.9 118.7h.9M412.2 119.5h.9M431.4 109.0h.9M418.4 118.1h.9M438.1 112.8h.9M431.9 115.7h.9M420.6 114.5h.9M403.9 121.9h.9M451.8 121.2h.9M435.2 111.8h.9M409.0 99.5h.9M414.5 109.2h.9M415.8 122.4h.9M416.7 91.2h.9M443.8 104.5h.9M425.5 112.5h.9M413.2 103.9h.9M401.7 111.3h.9M422.1 103.9h.9M429.9 94.9h.9M427.7 105.5h.9M424.2 94.9h.9M412.8 103.6h.9M398.7 91.2h.9M424.1 103.4h.9M400.6 92.5h.9M426.5 99.8h.9M421.9 96.4h.9M424.1 101.3h.9M422.8 101.5h.9M430.5 97.6h.9M420.5 104.2h.9M421.4 104.5h.9M411.9 99.7h.9M426.5 108.0h.9M423.0 114.4h.9M419.8 84.2h.9M427.7 116.3h.9M423.9 102.5h.9M401.5 95.8h.9M432.0 106.3h.9M446.0 102.8h.9M410.1 100.0h.9M422.1 97.9h.9M443.5 97.9h.9M417.0 115.0h.9M421.8 103.5h.9M451.9 105.5h.9M428.3 106.9h.9M450.9 97.4h.9M428.0 96.3h.9M443.0 107.1h.9M448.7 105.2h.9M413.1 109.4h.9M433.7 97.3h.9M423.9 103.5h.9M428.6 106.9h.9M405.4 99.5h.9M435.0 88.9h.9M423.3 91.5h.9M422.0 103.1h.9M432.1 112.3h.9M447.9 93.7h.9M440.9 111.2h.9M407.0 96.6h.9M421.8 108.8h.9M424.7 111.2h.9M451.1 107.5h.9M436.2 104.5h.9M442.0 99.4h.9M422.7 97.6h.9M411.0 106.9h.9M420.1 104.9h.9M441.8 100.3h.9M436.7 98.4h.9M434.3 102.6h.9M445.8 104.6h.9M408.6 98.5h.9M430.7 105.7h.9M439.2 102.9h.9M428.4 108.5h.9M433.6 92.4h.9M422.0 108.1h.9M437.3 101.1h.9M424.0 103.9h.9M402.7 112.6h.9M408.3 109.3h.9M433.7 108.9h.9M422.5 102.9h.9M431.7 97.8h.9M433.6 105.3h.9M423.4 104.5h.9M447.7 95.9h.9M426.8 99.6h.9M418.0 106.4h.9M413.0 107.3h.9M406.9 106.3h.9M413.9 108.6h.9M412.1 102.0h.9M406.6 108.1h.9M432.2 107.6h.9M428.8 94.0h.9M417.9 90.0h.9M431.2 102.0h.9M420.8 96.7h.9M430.3 108.3h.9M407.4 104.4h.9M449.0 102.6h.9M440.9 101.3h.9M433.6 104.2h.9M439.3 97.3h.9M428.0 102.5h.9M442.3 98.6h.9M450.6 97.2h.9M431.4 115.1h.9M440.6 96.1h.9M422.5 104.6h.9M415.3 89.3h.9M404.2 104.9h.9M451.2 100.9h.9M433.3 94.9h.9M411.5 98.7h.9M403.8 98.8h.9M401.3 93.4h.9M414.6 106.1h.9M420.5 96.1h.9M413.0 93.7h.9M420.3 103.8h.9M444.3 107.4h.9M428.0 98.5h.9M434.6 95.3h.9M423.0 104.3h.9M425.8 87.3h.9M431.9 113.4h.9M425.7 100.8h.9M442.8 107.2h.9M423.4 107.5h.9M447.8 107.6h.9M433.2 106.1h.9M433.4 101.9h.9M428.6 103.6h.9M420.2 104.1h.9M412.5 113.7h.9M420.0 99.9h.9M413.9 101.3h.9M422.3 106.0h.9M429.5 98.7h.9M446.4 106.2h.9M410.6 97.3h.9M438.7 95.9h.9M404.5 91.3h.9M419.9 102.4h.9M456.3 99.6h.9M419.2 96.0h.9M402.8 105.8h.9M420.7 110.3h.9M422.5 101.4h.9M446.2 107.4h.9M431.4 101.4h.9M443.3 109.2h.9M438.3 101.7h.9M425.8 102.1h.9M413.4 98.0h.9M418.9 91.0h.9M398.9 87.9h.9M445.8 124.8h.9M437.9 117.1h.9M415.4 90.5h.9M406.5 92.4h.9M433.8 86.6h.9M415.1 83.0h.9M422.3 125.0h.9M438.3 123.4h.9M440.5 109.2h.9M412.5 83.9h.9M444.0 113.1h.9M447.9 77.7h.9M424.5 86.6h.9M420.8 97.9h.9M452.2 84.5h.9M410.1 117.6h.9M450.5 88.8h.9M426.1 80.5h.9M454.4 76.1h.9M416.4 116.3h.9M435.7 107.3h.9M424.2 87.5h.9M452.6 85.0h.9M410.4 92.2h.9M453.8 122.9h.9M444.2 93.5h.9M450.4 113.6h.9M439.4 83.7h.9M431.4 83.4h.9M405.0 89.8h.9M448.5 120.9h.9M404.6 86.1h.9M428.4 100.0h.9M436.9 101.7h.9M438.0 117.9h.9M426.9 119.5h.9M452.0 102.5h.9M419.4 115.3h.9M400.1 93.0h.9M422.8 81.4h.9M401.3 83.9h.9M405.4 104.4h.9M406.9 119.1h.9M415.0 116.1h.9M421.7 101.9h.9M412.6 79.6h.9M406.3 91.1h.9M453.1 85.9h.9M413.7 88.0h.9M449.4 97.8h.9M417.7 98.6h.9M421.0 110.0h.9M434.6 91.6h.9M404.8 83.8h.9M433.0 82.5h.9M410.3 82.9h.9M414.9 92.3h.9M425.0 92.3h.9M437.9 81.7h.9M407.8 91.1h.9M432.8 91.0h.9M410.9 82.9h.9M420.6 82.0h.9M434.0 91.1h.9M407.5 92.5h.9M415.2 91.1h.9M403.0 83.7h.9M404.2 93.2h.9M427.1 92.9h.9M429.1 83.2h.9M427.9 82.3h.9M441.5 91.1h.9M421.3 90.1h.9M399.9 85.2h.9M414.4 81.1h.9M438.1 93.2h.9M406.7 94.9h.9M424.7 82.3h.9M430.9 91.8h.9M412.8 91.7h.9M420.0 80.4h.9M402.5 90.6h.9M400.6 88.8h.9M407.7 93.0h.9M412.9 91.3h.9M435.3 92.1h.9M400.0 84.0h.9M436.7 94.1h.9M399.1 89.7h.9M420.2 82.6h.9M407.2 79.9h.9M398.4 88.2h.9M449.1 117.2h.9M447.7 116.8h.9M430.9 123.0h.9M451.4 111.4h.9M441.9 103.4h.9M441.3 105.9h.9M448.0 118.6h.9M437.9 94.8h.9M433.1 105.7h.9M426.0 125.3h.9M437.1 123.2h.9M436.5 104.3h.9M424.4 106.3h.9M438.0 124.0h.9M436.2 107.1h.9M442.3 119.7h.9M425.6 103.7h.9M437.0 105.5h.9M426.0 102.4h.9M431.8 125.3h.9M432.3 102.7h.9M439.8 106.1h.9M425.2 105.0h.9M449.3 110.9h.9M443.7 105.5h.9M439.9 120.0h.9M442.5 107.7h.9M447.3 117.5h.9M416.7 107.9h.9M444.5 121.4h.9M433.8 104.0h.9M407.4 108.1h.9M423.8 108.3h.9M434.5 105.8h.9M432.8 123.9h.9M449.6 112.2h.9M453.6 110.0h.9M449.9 114.2h.9M422.5 105.2h.9M440.1 123.9h.9M423.3 125.2h.9M422.6 103.5h.9M442.7 121.4h.9M443.2 104.8h.9M436.9 107.2h.9M455.7 112.3h.9M419.9 104.1h.9M427.9 105.2h.9M417.3 123.7h.9M417.7 123.0h.9M397.4 119.5h.9M404.1 122.5h.9M399.6 117.2h.9M398.9 111.9h.9M414.5 104.5h.9M400.3 112.6h.9M404.1 107.1h.9M397.1 106.6h.9M404.5 122.8h.9M401.0 108.8h.9M401.1 122.1h.9M397.0 114.9h.9M401.5 116.6h.9M403.0 107.5h.9M411.5 107.9h.9M411.2 123.2h.9M405.8 109.6h.9M404.1 119.1h.9M400.2 116.2h.9M415.9 107.6h.9M406.1 107.0h.9M399.1 114.0h.9M403.4 105.0h.9M404.0 117.9h.9" stroke="#000" stroke-width="0.9" stroke-opacity="0.5" fill="none"/>
<line x1="396.5" y1="70.5" x2="458.5" y2="70.5" stroke="#909090" stroke-width="1"/>
<line x1="458.5" y1="70.5" x2="458.5" y2="126.5" stroke="#909090" stroke-width="1"/>
<line x1="396.5" y1="70.0" x2="396.5" y2="127.0" stroke="#3a3a3a" stroke-width="1"/>
<line x1="396.5" y1="126.5" x2="459.0" y2="126.5" stroke="#3a3a3a" stroke-width="1"/>
<line x1="416.5" y1="70.5" x2="416.5" y2="126.5" stroke="#444" stroke-width="1"/>
<line x1="396.5" y1="104.5" x2="458.5" y2="104.5" stroke="#777" stroke-width="1"/>
<text x="394.1" y="130.9" font-size="3.4" fill="#000">10<tspan font-size="2.6" dy="-1.2">0</tspan></text>
<line x1="394.9" y1="126.6" x2="396.5" y2="126.6" stroke="#444" stroke-width="0.6"/>
<text x="390.1" y="128.3" font-size="3.4" fill="#000">10<tspan font-size="2.6" dy="-1.2">0</tspan></text>
<text x="409.7" y="130.9" font-size="3.4" fill="#000">10<tspan font-size="2.6" dy="-1.2">1</tspan></text>
<line x1="394.9" y1="112.7" x2="396.5" y2="112.7" stroke="#444" stroke-width="0.6"/>
<text x="390.1" y="114.4" font-size="3.4" fill="#000">10<tspan font-size="2.6" dy="-1.2">1</tspan></text>
<text x="425.2" y="130.9" font-size="3.4" fill="#000">10<tspan font-size="2.6" dy="-1.2">2</tspan></text>
<line x1="394.9" y1="98.7" x2="396.5" y2="98.7" stroke="#444" stroke-width="0.6"/>
<text x="390.1" y="100.4" font-size="3.4" fill="#000">10<tspan font-size="2.6" dy="-1.2">2</tspan></text>
<text x="440.8" y="130.9" font-size="3.4" fill="#000">10<tspan font-size="2.6" dy="-1.2">3</tspan></text>
<line x1="394.9" y1="84.8" x2="396.5" y2="84.8" stroke="#444" stroke-width="0.6"/>
<text x="390.1" y="86.5" font-size="3.4" fill="#000">10<tspan font-size="2.6" dy="-1.2">3</tspan></text>
<text x="456.3" y="130.9" font-size="3.4" fill="#000">10<tspan font-size="2.6" dy="-1.2">4</tspan></text>
<line x1="394.9" y1="70.8" x2="396.5" y2="70.8" stroke="#444" stroke-width="0.6"/>
<text x="390.1" y="72.5" font-size="3.4" fill="#000">10<tspan font-size="2.6" dy="-1.2">4</tspan></text>
<text x="457.2" y="80.9" font-size="8.6" text-anchor="end" font-weight="normal" font-style="normal" fill="#000" class="p">25%</text>
<text x="388.3" y="106.7" font-size="10.5" text-anchor="middle" font-weight="normal" font-style="normal" fill="#000" transform="rotate(-90 388.3 106.7)">CD8</text>
<text x="464.2" y="41.8" font-size="11" text-anchor="start" font-weight="normal" font-style="normal" fill="#000">CTR T cells</text>
<text x="464.0" y="92.4" font-size="10.8" fill="#000">CCR4<tspan font-size="5.9" dy="-5.3">+</tspan></text>
<text x="464.2" y="105.4" font-size="10.8" text-anchor="start" font-weight="normal" font-style="normal" fill="#000">T cells</text>
<text x="225.6" y="142.4" font-size="10.4" text-anchor="start" font-weight="normal" font-style="normal" fill="#000">CCR4</text>
<line x1="258.2" y1="138.5" x2="450" y2="138.5" stroke="#222" stroke-width="1.3"/>
<path d="M453.8 138.5L448.8 135.9L448.8 141.1Z" fill="#000"/>
<text x="-0.6" y="165.7" font-size="12" text-anchor="start" font-weight="bold" font-style="normal" fill="#000">C</text>
<line x1="33.4" y1="167.5" x2="33.4" y2="291.5" stroke="#505050" stroke-width="1"/>
<line x1="31.4" y1="291.0" x2="268.2" y2="291.0" stroke="#505050" stroke-width="1"/>
<line x1="31.4" y1="291.0" x2="33.4" y2="291.0" stroke="#505050" stroke-width="1"/>
<text x="29.8" y="293.5" font-size="10.8" text-anchor="end" font-weight="normal" font-style="normal" fill="#000">0</text>
<line x1="31.4" y1="270.5" x2="33.4" y2="270.5" stroke="#505050" stroke-width="1"/>
<text x="29.8" y="274.4" font-size="10.8" text-anchor="end" font-weight="normal" font-style="normal" fill="#000">10</text>
<line x1="31.4" y1="250.0" x2="33.4" y2="250.0" stroke="#505050" stroke-width="1"/>
<text x="29.8" y="253.8" font-size="10.8" text-anchor="end" font-weight="normal" font-style="normal" fill="#000">20</text>
<line x1="31.4" y1="229.5" x2="33.4" y2="229.5" stroke="#505050" stroke-width="1"/>
<text x="29.8" y="233.1" font-size="10.8" text-anchor="end" font-weight="normal" font-style="normal" fill="#000">30</text>
<line x1="31.4" y1="209.0" x2="33.4" y2="209.0" stroke="#505050" stroke-width="1"/>
<text x="29.8" y="213.2" font-size="10.8" text-anchor="end" font-weight="normal" font-style="normal" fill="#000">40</text>
<line x1="31.4" y1="188.5" x2="33.4" y2="188.5" stroke="#505050" stroke-width="1"/>
<text x="29.8" y="192.8" font-size="10.8" text-anchor="end" font-weight="normal" font-style="normal" fill="#000">50</text>
<line x1="31.4" y1="168.0" x2="33.4" y2="168.0" stroke="#505050" stroke-width="1"/>
<text x="29.8" y="172.7" font-size="10.8" text-anchor="end" font-weight="normal" font-style="normal" fill="#000">60</text>
<line x1="33.4" y1="291.0" x2="33.4" y2="293.2" stroke="#505050" stroke-width="1"/>
<line x1="91.8" y1="291.0" x2="91.8" y2="293.2" stroke="#505050" stroke-width="1"/>
<line x1="150.6" y1="291.0" x2="150.6" y2="293.2" stroke="#505050" stroke-width="1"/>
<line x1="209.4" y1="291.0" x2="209.4" y2="293.2" stroke="#505050" stroke-width="1"/>
<line x1="268.2" y1="291.0" x2="268.2" y2="293.2" stroke="#505050" stroke-width="1"/>
<line x1="54.3" y1="257.6" x2="54.3" y2="273.6" stroke="#222" stroke-width="1"/>
<line x1="51.4" y1="257.6" x2="57.2" y2="257.6" stroke="#222" stroke-width="1"/>
<rect x="45.60" y="273.57" width="17.40" height="17.43" fill="#9a9a9a" stroke="#444" stroke-width="0.8"/>
<line x1="71.6" y1="196.3" x2="71.6" y2="223.8" stroke="#222" stroke-width="1"/>
<line x1="68.7" y1="196.3" x2="74.5" y2="196.3" stroke="#222" stroke-width="1"/>
<rect x="63.00" y="223.76" width="17.20" height="67.24" fill="#000"/>
<line x1="112.7" y1="247.5" x2="112.7" y2="269.1" stroke="#222" stroke-width="1"/>
<line x1="109.8" y1="247.5" x2="115.6" y2="247.5" stroke="#222" stroke-width="1"/>
<rect x="104.00" y="269.06" width="17.40" height="21.94" fill="#9a9a9a" stroke="#444" stroke-width="0.8"/>
<line x1="129.8" y1="174.2" x2="129.8" y2="203.1" stroke="#222" stroke-width="1"/>
<line x1="126.9" y1="174.2" x2="132.7" y2="174.2" stroke="#222" stroke-width="1"/>
<rect x="121.40" y="203.06" width="16.80" height="87.94" fill="#000"/>
<line x1="171.3" y1="284.2" x2="171.3" y2="288.3" stroke="#222" stroke-width="1"/>
<line x1="168.4" y1="284.2" x2="174.2" y2="284.2" stroke="#222" stroke-width="1"/>
<rect x="162.80" y="288.33" width="17.00" height="2.67" fill="#9a9a9a" stroke="#444" stroke-width="0.8"/>
<line x1="188.5" y1="284.2" x2="188.5" y2="287.7" stroke="#222" stroke-width="1"/>
<line x1="185.6" y1="284.2" x2="191.4" y2="284.2" stroke="#222" stroke-width="1"/>
<rect x="179.80" y="287.72" width="17.40" height="3.28" fill="#000"/>
<line x1="230.1" y1="277.1" x2="230.1" y2="285.1" stroke="#222" stroke-width="1"/>
<line x1="227.2" y1="277.1" x2="233.0" y2="277.1" stroke="#222" stroke-width="1"/>
<rect x="221.30" y="285.06" width="17.50" height="5.94" fill="#9a9a9a" stroke="#444" stroke-width="0.8"/>
<line x1="247.3" y1="181.7" x2="247.3" y2="221.9" stroke="#222" stroke-width="1"/>
<line x1="244.4" y1="181.7" x2="250.2" y2="181.7" stroke="#222" stroke-width="1"/>
<rect x="238.80" y="221.92" width="17.00" height="69.08" fill="#000"/>
<text x="62.3" y="302.5" font-size="9" text-anchor="middle" font-weight="normal" font-style="normal" fill="#000">HDLM-2</text>
<text x="120.0" y="305.1" font-size="9" text-anchor="middle" font-weight="normal" font-style="normal" fill="#000">L428</text>
<text x="180" y="304.2" font-size="9" text-anchor="middle" font-weight="normal" font-style="normal" fill="#000">K/wt</text>
<text x="238" y="303.2" font-size="9.3" text-anchor="middle" font-weight="normal" font-style="normal" fill="#000">K/ TARC</text>
<text x="11.7" y="235.2" font-size="10.6" text-anchor="middle" font-weight="normal" font-style="normal" fill="#000" transform="rotate(-90 11.7 235.2)">Percentage of migration</text>
<rect x="48.20" y="171.60" width="8.00" height="7.60" fill="#9a9a9a" stroke="#333" stroke-width="0.9"/>
<text x="62.3" y="179.2" font-size="10.7" text-anchor="start" font-weight="normal" font-style="normal" fill="#000">CTR T cells</text>
<rect x="143.00" y="171.00" width="9.00" height="8.60" fill="#000"/>
<text x="157.3" y="178.1" font-size="10.7" fill="#000">CCR4<tspan font-size="5.9" dy="-5.2">+</tspan><tspan dy="5.2" dx="0.6"> T cells</tspan></text>
<text class="p" x="41.0" y="209" font-size="6.5" text-anchor="start" fill="#111"><tspan font-style="italic">P</tspan> = .001</text>
<text class="p" x="98.0" y="200" font-size="6.85" text-anchor="start" fill="#111"><tspan font-style="italic">P</tspan> = .001</text>
<text class="p" x="211.2" y="206.4" font-size="6.85" text-anchor="start" fill="#111"><tspan font-style="italic">P</tspan> &lt; .001</text>
<text x="272.8" y="164.8" font-size="11.8" text-anchor="start" font-weight="bold" font-style="normal" fill="#000">D</text>
<line x1="311.4" y1="168.8" x2="311.4" y2="291.0" stroke="#505050" stroke-width="1"/>
<line x1="309.4" y1="290.5" x2="514.6" y2="290.5" stroke="#505050" stroke-width="1"/>
<line x1="309.4" y1="290.5" x2="311.4" y2="290.5" stroke="#505050" stroke-width="1"/>
<text x="306.7" y="293.7" font-size="10.8" text-anchor="end" font-weight="normal" font-style="normal" fill="#000">0</text>
<line x1="309.4" y1="270.3" x2="311.4" y2="270.3" stroke="#505050" stroke-width="1"/>
<text x="306.7" y="273.9" font-size="10.8" text-anchor="end" font-weight="normal" font-style="normal" fill="#000">10</text>
<line x1="309.4" y1="250.1" x2="311.4" y2="250.1" stroke="#505050" stroke-width="1"/>
<text x="306.7" y="254.4" font-size="10.8" text-anchor="end" font-weight="normal" font-style="normal" fill="#000">20</text>
<line x1="309.4" y1="229.9" x2="311.4" y2="229.9" stroke="#505050" stroke-width="1"/>
<text x="306.7" y="233.9" font-size="10.8" text-anchor="end" font-weight="normal" font-style="normal" fill="#000">30</text>
<line x1="309.4" y1="209.7" x2="311.4" y2="209.7" stroke="#505050" stroke-width="1"/>
<text x="306.7" y="213.5" font-size="10.8" text-anchor="end" font-weight="normal" font-style="normal" fill="#000">40</text>
<line x1="309.4" y1="189.5" x2="311.4" y2="189.5" stroke="#505050" stroke-width="1"/>
<text x="306.7" y="193.3" font-size="10.8" text-anchor="end" font-weight="normal" font-style="normal" fill="#000">50</text>
<line x1="309.4" y1="169.3" x2="311.4" y2="169.3" stroke="#505050" stroke-width="1"/>
<text x="306.7" y="173.1" font-size="10.8" text-anchor="end" font-weight="normal" font-style="normal" fill="#000">60</text>
<line x1="311.4" y1="290.5" x2="311.4" y2="292.7" stroke="#505050" stroke-width="1"/>
<line x1="379.3" y1="290.5" x2="379.3" y2="292.7" stroke="#505050" stroke-width="1"/>
<line x1="448.3" y1="290.5" x2="448.3" y2="292.7" stroke="#505050" stroke-width="1"/>
<line x1="514.6" y1="290.5" x2="514.6" y2="292.7" stroke="#505050" stroke-width="1"/>
<line x1="335.5" y1="277.0" x2="335.5" y2="284.2" stroke="#222" stroke-width="1"/>
<line x1="332.4" y1="277.0" x2="338.6" y2="277.0" stroke="#222" stroke-width="1"/>
<rect x="325.70" y="284.24" width="19.60" height="6.26" fill="#9a9a9a" stroke="#444" stroke-width="0.8"/>
<line x1="355.2" y1="182.2" x2="355.2" y2="222.4" stroke="#222" stroke-width="1"/>
<line x1="352.1" y1="182.2" x2="358.3" y2="182.2" stroke="#222" stroke-width="1"/>
<rect x="345.30" y="222.43" width="19.80" height="68.07" fill="#000"/>
<line x1="403.8" y1="270.3" x2="403.8" y2="282.0" stroke="#222" stroke-width="1"/>
<line x1="400.7" y1="270.3" x2="406.9" y2="270.3" stroke="#222" stroke-width="1"/>
<rect x="394.00" y="282.02" width="19.60" height="8.48" fill="#9a9a9a" stroke="#444" stroke-width="0.8"/>
<line x1="423.3" y1="197.6" x2="423.3" y2="229.9" stroke="#222" stroke-width="1"/>
<line x1="420.2" y1="197.6" x2="426.4" y2="197.6" stroke="#222" stroke-width="1"/>
<rect x="413.60" y="229.90" width="19.40" height="60.60" fill="#000"/>
<line x1="471.1" y1="270.9" x2="471.1" y2="283.4" stroke="#222" stroke-width="1"/>
<line x1="468.0" y1="270.9" x2="474.2" y2="270.9" stroke="#222" stroke-width="1"/>
<rect x="461.00" y="283.43" width="20.20" height="7.07" fill="#9a9a9a" stroke="#444" stroke-width="0.8"/>
<line x1="490.9" y1="279.8" x2="490.9" y2="284.2" stroke="#222" stroke-width="1"/>
<line x1="487.8" y1="279.8" x2="494.0" y2="279.8" stroke="#222" stroke-width="1"/>
<rect x="481.20" y="284.24" width="19.30" height="6.26" fill="#000"/>
<text x="340.3" y="304.3" font-size="9.3" text-anchor="middle" font-weight="normal" font-style="normal" fill="#000">K/ TARC</text>
<text x="415.2" y="303.5" font-size="9.5" text-anchor="middle" font-weight="normal" font-style="normal" fill="#000">K/ TARC +</text>
<text x="414.6" y="315.3" font-size="9.2" text-anchor="middle" font-weight="normal" font-style="normal" fill="#000">Isotype</text>
<text x="486" y="303.5" font-size="9.5" text-anchor="middle" font-weight="normal" font-style="normal" fill="#000">K/ TARC +</text>
<text x="485.2" y="314.7" font-size="9.4" text-anchor="middle" font-weight="normal" font-style="normal" fill="#000">αTARC</text>
<text x="288.0" y="238.6" font-size="10.5" text-anchor="middle" font-weight="normal" font-style="normal" fill="#000" transform="rotate(-90 288.0 238.6)">Percentage of migration</text>
<rect x="326.00" y="171.00" width="8.00" height="7.60" fill="#9a9a9a" stroke="#333" stroke-width="0.9"/>
<text x="339.8" y="176.9" font-size="8.9" text-anchor="start" font-weight="normal" font-style="normal" fill="#000">CTR T cells</text>
<rect x="421.60" y="170.20" width="9.20" height="8.80" fill="#000"/>
<text x="435" y="177.6" font-size="10.6" fill="#000">CCR4<tspan font-size="5.8" dy="-5.2">+</tspan><tspan dy="5.2" dx="0.6"> T cells</tspan></text>
<path d="M423.5 194.2V188.9H489.7V194.2" fill="none" stroke="#333" stroke-width="0.9"/>
<text class="p" x="444.4" y="198.0" font-size="6.5" text-anchor="start" fill="#111"><tspan font-style="italic">P</tspan> &lt; .001</text>
<text class="p" x="327" y="216.5" font-size="6.7" text-anchor="start" fill="#111"><tspan font-style="italic">P</tspan> &lt; .001</text>
<text class="p" x="394.8" y="222" font-size="6.5" text-anchor="start" fill="#111"><tspan font-style="italic">P</tspan> &lt; .001</text>
</svg>
</body></html>
